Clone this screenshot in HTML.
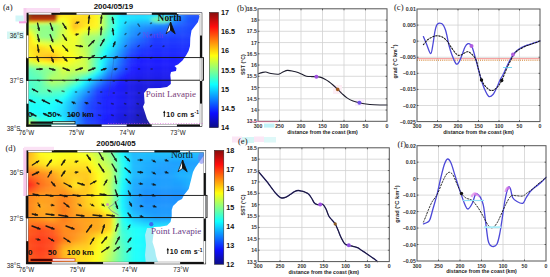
<!DOCTYPE html><html><head><meta charset="utf-8"><style>html,body{margin:0;padding:0;background:#fff;width:550px;height:277px;overflow:hidden}svg{display:block}</style></head><body><svg width="550" height="277" viewBox="0 0 550 277"><defs><linearGradient id="jetg" x1="0" y1="0" x2="0" y2="1"><stop offset="0.0000" stop-color="#860d0d"/><stop offset="0.0156" stop-color="#950d0d"/><stop offset="0.0312" stop-color="#a40d0d"/><stop offset="0.0469" stop-color="#b30d0d"/><stop offset="0.0625" stop-color="#c20d0d"/><stop offset="0.0781" stop-color="#d20d0d"/><stop offset="0.0938" stop-color="#e10d0d"/><stop offset="0.1094" stop-color="#f00d0d"/><stop offset="0.1250" stop-color="#ff0d0d"/><stop offset="0.1406" stop-color="#ff1c0d"/><stop offset="0.1562" stop-color="#ff2b0d"/><stop offset="0.1719" stop-color="#ff3a0d"/><stop offset="0.1875" stop-color="#ff490d"/><stop offset="0.2031" stop-color="#ff580d"/><stop offset="0.2188" stop-color="#ff680d"/><stop offset="0.2344" stop-color="#ff770d"/><stop offset="0.2500" stop-color="#ff860d"/><stop offset="0.2656" stop-color="#ff950d"/><stop offset="0.2812" stop-color="#ffa40d"/><stop offset="0.2969" stop-color="#ffb30d"/><stop offset="0.3125" stop-color="#ffc20d"/><stop offset="0.3281" stop-color="#ffd20d"/><stop offset="0.3438" stop-color="#ffe10d"/><stop offset="0.3594" stop-color="#fff00d"/><stop offset="0.3750" stop-color="#ffff0d"/><stop offset="0.3906" stop-color="#f0ff1c"/><stop offset="0.4062" stop-color="#e1ff2b"/><stop offset="0.4219" stop-color="#d2ff3a"/><stop offset="0.4375" stop-color="#c2ff49"/><stop offset="0.4531" stop-color="#b3ff58"/><stop offset="0.4688" stop-color="#a4ff68"/><stop offset="0.4844" stop-color="#95ff77"/><stop offset="0.5000" stop-color="#86ff86"/><stop offset="0.5156" stop-color="#77ff95"/><stop offset="0.5312" stop-color="#68ffa4"/><stop offset="0.5469" stop-color="#58ffb3"/><stop offset="0.5625" stop-color="#49ffc2"/><stop offset="0.5781" stop-color="#3affd2"/><stop offset="0.5938" stop-color="#2bffe1"/><stop offset="0.6094" stop-color="#1cfff0"/><stop offset="0.6250" stop-color="#0dffff"/><stop offset="0.6406" stop-color="#0df0ff"/><stop offset="0.6562" stop-color="#0de1ff"/><stop offset="0.6719" stop-color="#0dd2ff"/><stop offset="0.6875" stop-color="#0dc2ff"/><stop offset="0.7031" stop-color="#0db3ff"/><stop offset="0.7188" stop-color="#0da4ff"/><stop offset="0.7344" stop-color="#0d95ff"/><stop offset="0.7500" stop-color="#0d86ff"/><stop offset="0.7656" stop-color="#0d77ff"/><stop offset="0.7812" stop-color="#0d68ff"/><stop offset="0.7969" stop-color="#0d58ff"/><stop offset="0.8125" stop-color="#0d49ff"/><stop offset="0.8281" stop-color="#0d3aff"/><stop offset="0.8438" stop-color="#0d2bff"/><stop offset="0.8594" stop-color="#0d1cff"/><stop offset="0.8750" stop-color="#0d0dff"/><stop offset="0.8906" stop-color="#0d0df0"/><stop offset="0.9062" stop-color="#0d0de1"/><stop offset="0.9219" stop-color="#0d0dd2"/><stop offset="0.9375" stop-color="#0d0dc2"/><stop offset="0.9531" stop-color="#0d0db3"/><stop offset="0.9688" stop-color="#0d0da4"/><stop offset="0.9844" stop-color="#0d0d95"/><stop offset="1.0000" stop-color="#0d0d86"/></linearGradient><filter id="bl" x="-5%" y="-5%" width="110%" height="110%"><feGaussianBlur stdDeviation="1.6"/></filter><clipPath id="clipA"><rect x="26.5" y="12.8" width="175.5" height="113.7"/></clipPath><clipPath id="clipD"><rect x="26.2" y="150.3" width="179.6" height="113.7"/></clipPath></defs><g clip-path="url(#clipA)"><g filter="url(#bl)"><rect x="23.50" y="9.80" width="4.18" height="4.03" fill="#ff7d1a"/><rect x="27.28" y="9.80" width="4.18" height="4.03" fill="#ff7d1a"/><rect x="31.06" y="9.80" width="4.18" height="4.03" fill="#ff7d1a"/><rect x="34.84" y="9.80" width="4.18" height="4.03" fill="#ff7d1a"/><rect x="38.62" y="9.80" width="4.18" height="4.03" fill="#ff7d1a"/><rect x="42.41" y="9.80" width="4.18" height="4.03" fill="#ff871a"/><rect x="46.19" y="9.80" width="4.18" height="4.03" fill="#ff911a"/><rect x="49.97" y="9.80" width="4.18" height="4.03" fill="#ff9c1a"/><rect x="53.75" y="9.80" width="4.18" height="4.03" fill="#ffb51a"/><rect x="57.53" y="9.80" width="4.18" height="4.03" fill="#ffcf1a"/><rect x="61.31" y="9.80" width="4.18" height="4.03" fill="#ffe81a"/><rect x="65.09" y="9.80" width="4.18" height="4.03" fill="#ffe81a"/><rect x="68.88" y="9.80" width="4.18" height="4.03" fill="#ffe81a"/><rect x="72.66" y="9.80" width="4.18" height="4.03" fill="#ffe81a"/><rect x="76.44" y="9.80" width="4.18" height="4.03" fill="#ffe31a"/><rect x="80.22" y="9.80" width="4.18" height="4.03" fill="#ffde1a"/><rect x="84.00" y="9.80" width="4.18" height="4.03" fill="#ffd91a"/><rect x="87.78" y="9.80" width="4.18" height="4.03" fill="#ffe31a"/><rect x="91.56" y="9.80" width="4.18" height="4.03" fill="#ffed1a"/><rect x="95.34" y="9.80" width="4.18" height="4.03" fill="#fff71a"/><rect x="99.12" y="9.80" width="4.18" height="4.03" fill="#d4ff45"/><rect x="102.91" y="9.80" width="4.18" height="4.03" fill="#a1ff78"/><rect x="106.69" y="9.80" width="4.18" height="4.03" fill="#6effab"/><rect x="110.47" y="9.80" width="4.18" height="4.03" fill="#4fffc9"/><rect x="114.25" y="9.80" width="4.18" height="4.03" fill="#30ffe8"/><rect x="118.03" y="9.80" width="4.18" height="4.03" fill="#1af7ff"/><rect x="121.81" y="9.80" width="4.18" height="4.03" fill="#1af7ff"/><rect x="125.59" y="9.80" width="4.18" height="4.03" fill="#1af7ff"/><rect x="129.38" y="9.80" width="4.18" height="4.03" fill="#1af7ff"/><rect x="133.16" y="9.80" width="4.18" height="4.03" fill="#1af7ff"/><rect x="136.94" y="9.80" width="4.18" height="4.03" fill="#1af7ff"/><rect x="140.72" y="9.80" width="4.18" height="4.03" fill="#1af7ff"/><rect x="144.50" y="9.80" width="4.18" height="4.03" fill="#1afcff"/><rect x="148.28" y="9.80" width="4.18" height="4.03" fill="#1cfffc"/><rect x="152.06" y="9.80" width="4.18" height="4.03" fill="#21fff7"/><rect x="155.84" y="9.80" width="4.18" height="4.03" fill="#1cfffc"/><rect x="159.62" y="9.80" width="4.18" height="4.03" fill="#1afcff"/><rect x="163.41" y="9.80" width="4.18" height="4.03" fill="#1af7ff"/><rect x="167.19" y="9.80" width="4.18" height="4.03" fill="#1adeff"/><rect x="170.97" y="9.80" width="4.18" height="4.03" fill="#1ac4ff"/><rect x="174.75" y="9.80" width="4.18" height="4.03" fill="#1aabff"/><rect x="178.53" y="9.80" width="4.18" height="4.03" fill="#1a91ff"/><rect x="182.31" y="9.80" width="4.18" height="4.03" fill="#1a78ff"/><rect x="186.09" y="9.80" width="4.18" height="4.03" fill="#1a5eff"/><rect x="189.88" y="9.80" width="4.18" height="4.03" fill="#1a59ff"/><rect x="193.66" y="9.80" width="4.18" height="4.03" fill="#1a54ff"/><rect x="197.44" y="9.80" width="4.18" height="4.03" fill="#1a4fff"/><rect x="201.22" y="9.80" width="4.18" height="4.03" fill="#1a4fff"/><rect x="23.50" y="13.43" width="4.18" height="4.03" fill="#ff7d1a"/><rect x="27.28" y="13.43" width="4.18" height="4.03" fill="#ff7d1a"/><rect x="31.06" y="13.43" width="4.18" height="4.03" fill="#ff7d1a"/><rect x="34.84" y="13.43" width="4.18" height="4.03" fill="#ff7d1a"/><rect x="38.62" y="13.43" width="4.18" height="4.03" fill="#ff7d1a"/><rect x="42.41" y="13.43" width="4.18" height="4.03" fill="#ff871a"/><rect x="46.19" y="13.43" width="4.18" height="4.03" fill="#ff911a"/><rect x="49.97" y="13.43" width="4.18" height="4.03" fill="#ff9c1a"/><rect x="53.75" y="13.43" width="4.18" height="4.03" fill="#ffb51a"/><rect x="57.53" y="13.43" width="4.18" height="4.03" fill="#ffcf1a"/><rect x="61.31" y="13.43" width="4.18" height="4.03" fill="#ffe81a"/><rect x="65.09" y="13.43" width="4.18" height="4.03" fill="#ffe81a"/><rect x="68.88" y="13.43" width="4.18" height="4.03" fill="#ffe81a"/><rect x="72.66" y="13.43" width="4.18" height="4.03" fill="#ffe81a"/><rect x="76.44" y="13.43" width="4.18" height="4.03" fill="#ffe31a"/><rect x="80.22" y="13.43" width="4.18" height="4.03" fill="#ffde1a"/><rect x="84.00" y="13.43" width="4.18" height="4.03" fill="#ffd91a"/><rect x="87.78" y="13.43" width="4.18" height="4.03" fill="#ffe31a"/><rect x="91.56" y="13.43" width="4.18" height="4.03" fill="#ffed1a"/><rect x="95.34" y="13.43" width="4.18" height="4.03" fill="#fff71a"/><rect x="99.12" y="13.43" width="4.18" height="4.03" fill="#d4ff45"/><rect x="102.91" y="13.43" width="4.18" height="4.03" fill="#a1ff78"/><rect x="106.69" y="13.43" width="4.18" height="4.03" fill="#6effab"/><rect x="110.47" y="13.43" width="4.18" height="4.03" fill="#4fffc9"/><rect x="114.25" y="13.43" width="4.18" height="4.03" fill="#30ffe8"/><rect x="118.03" y="13.43" width="4.18" height="4.03" fill="#1af7ff"/><rect x="121.81" y="13.43" width="4.18" height="4.03" fill="#1af7ff"/><rect x="125.59" y="13.43" width="4.18" height="4.03" fill="#1af7ff"/><rect x="129.38" y="13.43" width="4.18" height="4.03" fill="#1af7ff"/><rect x="133.16" y="13.43" width="4.18" height="4.03" fill="#1af7ff"/><rect x="136.94" y="13.43" width="4.18" height="4.03" fill="#1af7ff"/><rect x="140.72" y="13.43" width="4.18" height="4.03" fill="#1af7ff"/><rect x="144.50" y="13.43" width="4.18" height="4.03" fill="#1afcff"/><rect x="148.28" y="13.43" width="4.18" height="4.03" fill="#1cfffc"/><rect x="152.06" y="13.43" width="4.18" height="4.03" fill="#21fff7"/><rect x="155.84" y="13.43" width="4.18" height="4.03" fill="#1cfffc"/><rect x="159.62" y="13.43" width="4.18" height="4.03" fill="#1afcff"/><rect x="163.41" y="13.43" width="4.18" height="4.03" fill="#1af7ff"/><rect x="167.19" y="13.43" width="4.18" height="4.03" fill="#1adeff"/><rect x="170.97" y="13.43" width="4.18" height="4.03" fill="#1ac4ff"/><rect x="174.75" y="13.43" width="4.18" height="4.03" fill="#1aabff"/><rect x="178.53" y="13.43" width="4.18" height="4.03" fill="#1a91ff"/><rect x="182.31" y="13.43" width="4.18" height="4.03" fill="#1a78ff"/><rect x="186.09" y="13.43" width="4.18" height="4.03" fill="#1a5eff"/><rect x="189.88" y="13.43" width="4.18" height="4.03" fill="#1a59ff"/><rect x="193.66" y="13.43" width="4.18" height="4.03" fill="#1a54ff"/><rect x="197.44" y="13.43" width="4.18" height="4.03" fill="#1a4fff"/><rect x="201.22" y="13.43" width="4.18" height="4.03" fill="#1a4fff"/><rect x="23.50" y="17.05" width="4.18" height="4.03" fill="#ffc21a"/><rect x="27.28" y="17.05" width="4.18" height="4.03" fill="#ffc21a"/><rect x="31.06" y="17.05" width="4.18" height="4.03" fill="#ffc61a"/><rect x="34.84" y="17.05" width="4.18" height="4.03" fill="#ffc91a"/><rect x="38.62" y="17.05" width="4.18" height="4.03" fill="#ffcd1a"/><rect x="42.41" y="17.05" width="4.18" height="4.03" fill="#ffd41a"/><rect x="46.19" y="17.05" width="4.18" height="4.03" fill="#ffdb1a"/><rect x="49.97" y="17.05" width="4.18" height="4.03" fill="#ffe31a"/><rect x="53.75" y="17.05" width="4.18" height="4.03" fill="#ffee1a"/><rect x="57.53" y="17.05" width="4.18" height="4.03" fill="#fff91a"/><rect x="61.31" y="17.05" width="4.18" height="4.03" fill="#faff1e"/><rect x="65.09" y="17.05" width="4.18" height="4.03" fill="#fff51a"/><rect x="68.88" y="17.05" width="4.18" height="4.03" fill="#ffe71a"/><rect x="72.66" y="17.05" width="4.18" height="4.03" fill="#ffd91a"/><rect x="76.44" y="17.05" width="4.18" height="4.03" fill="#ffda1a"/><rect x="80.22" y="17.05" width="4.18" height="4.03" fill="#ffdc1a"/><rect x="84.00" y="17.05" width="4.18" height="4.03" fill="#ffde1a"/><rect x="87.78" y="17.05" width="4.18" height="4.03" fill="#ffe61a"/><rect x="91.56" y="17.05" width="4.18" height="4.03" fill="#ffef1a"/><rect x="95.34" y="17.05" width="4.18" height="4.03" fill="#fff71a"/><rect x="99.12" y="17.05" width="4.18" height="4.03" fill="#d4ff45"/><rect x="102.91" y="17.05" width="4.18" height="4.03" fill="#a1ff78"/><rect x="106.69" y="17.05" width="4.18" height="4.03" fill="#6effab"/><rect x="110.47" y="17.05" width="4.18" height="4.03" fill="#4dffcb"/><rect x="114.25" y="17.05" width="4.18" height="4.03" fill="#2dffeb"/><rect x="118.03" y="17.05" width="4.18" height="4.03" fill="#1af2ff"/><rect x="121.81" y="17.05" width="4.18" height="4.03" fill="#1aebff"/><rect x="125.59" y="17.05" width="4.18" height="4.03" fill="#1ae5ff"/><rect x="129.38" y="17.05" width="4.18" height="4.03" fill="#1adeff"/><rect x="133.16" y="17.05" width="4.18" height="4.03" fill="#1adcff"/><rect x="136.94" y="17.05" width="4.18" height="4.03" fill="#1adaff"/><rect x="140.72" y="17.05" width="4.18" height="4.03" fill="#1ad9ff"/><rect x="144.50" y="17.05" width="4.18" height="4.03" fill="#1adaff"/><rect x="148.28" y="17.05" width="4.18" height="4.03" fill="#1adcff"/><rect x="152.06" y="17.05" width="4.18" height="4.03" fill="#1adeff"/><rect x="155.84" y="17.05" width="4.18" height="4.03" fill="#1ad9ff"/><rect x="159.62" y="17.05" width="4.18" height="4.03" fill="#1ad4ff"/><rect x="163.41" y="17.05" width="4.18" height="4.03" fill="#1acfff"/><rect x="167.19" y="17.05" width="4.18" height="4.03" fill="#1abaff"/><rect x="170.97" y="17.05" width="4.18" height="4.03" fill="#1aa6ff"/><rect x="174.75" y="17.05" width="4.18" height="4.03" fill="#1a91ff"/><rect x="178.53" y="17.05" width="4.18" height="4.03" fill="#1a7fff"/><rect x="182.31" y="17.05" width="4.18" height="4.03" fill="#1a6cff"/><rect x="186.09" y="17.05" width="4.18" height="4.03" fill="#1a59ff"/><rect x="189.88" y="17.05" width="4.18" height="4.03" fill="#1a54ff"/><rect x="193.66" y="17.05" width="4.18" height="4.03" fill="#1a4fff"/><rect x="197.44" y="17.05" width="4.18" height="4.03" fill="#1a4aff"/><rect x="201.22" y="17.05" width="4.18" height="4.03" fill="#1a4aff"/><rect x="23.50" y="20.68" width="4.18" height="4.03" fill="#f6ff22"/><rect x="27.28" y="20.68" width="4.18" height="4.03" fill="#f6ff22"/><rect x="31.06" y="20.68" width="4.18" height="4.03" fill="#f0ff29"/><rect x="34.84" y="20.68" width="4.18" height="4.03" fill="#e9ff30"/><rect x="38.62" y="20.68" width="4.18" height="4.03" fill="#e2ff37"/><rect x="42.41" y="20.68" width="4.18" height="4.03" fill="#ddff3b"/><rect x="46.19" y="20.68" width="4.18" height="4.03" fill="#d8ff40"/><rect x="49.97" y="20.68" width="4.18" height="4.03" fill="#d4ff45"/><rect x="53.75" y="20.68" width="4.18" height="4.03" fill="#d7ff41"/><rect x="57.53" y="20.68" width="4.18" height="4.03" fill="#dbff3d"/><rect x="61.31" y="20.68" width="4.18" height="4.03" fill="#dfff3a"/><rect x="65.09" y="20.68" width="4.18" height="4.03" fill="#fbff1d"/><rect x="68.88" y="20.68" width="4.18" height="4.03" fill="#ffe61a"/><rect x="72.66" y="20.68" width="4.18" height="4.03" fill="#ffc91a"/><rect x="76.44" y="20.68" width="4.18" height="4.03" fill="#ffd21a"/><rect x="80.22" y="20.68" width="4.18" height="4.03" fill="#ffda1a"/><rect x="84.00" y="20.68" width="4.18" height="4.03" fill="#ffe31a"/><rect x="87.78" y="20.68" width="4.18" height="4.03" fill="#ffea1a"/><rect x="91.56" y="20.68" width="4.18" height="4.03" fill="#fff11a"/><rect x="95.34" y="20.68" width="4.18" height="4.03" fill="#fff71a"/><rect x="99.12" y="20.68" width="4.18" height="4.03" fill="#d4ff45"/><rect x="102.91" y="20.68" width="4.18" height="4.03" fill="#a1ff78"/><rect x="106.69" y="20.68" width="4.18" height="4.03" fill="#6effab"/><rect x="110.47" y="20.68" width="4.18" height="4.03" fill="#4cffcd"/><rect x="114.25" y="20.68" width="4.18" height="4.03" fill="#2affef"/><rect x="118.03" y="20.68" width="4.18" height="4.03" fill="#1aedff"/><rect x="121.81" y="20.68" width="4.18" height="4.03" fill="#1ae0ff"/><rect x="125.59" y="20.68" width="4.18" height="4.03" fill="#1ad2ff"/><rect x="129.38" y="20.68" width="4.18" height="4.03" fill="#1ac4ff"/><rect x="133.16" y="20.68" width="4.18" height="4.03" fill="#1ac1ff"/><rect x="136.94" y="20.68" width="4.18" height="4.03" fill="#1abeff"/><rect x="140.72" y="20.68" width="4.18" height="4.03" fill="#1abaff"/><rect x="144.50" y="20.68" width="4.18" height="4.03" fill="#1ab8ff"/><rect x="148.28" y="20.68" width="4.18" height="4.03" fill="#1ab7ff"/><rect x="152.06" y="20.68" width="4.18" height="4.03" fill="#1ab5ff"/><rect x="155.84" y="20.68" width="4.18" height="4.03" fill="#1ab0ff"/><rect x="159.62" y="20.68" width="4.18" height="4.03" fill="#1aabff"/><rect x="163.41" y="20.68" width="4.18" height="4.03" fill="#1aa6ff"/><rect x="167.19" y="20.68" width="4.18" height="4.03" fill="#1a96ff"/><rect x="170.97" y="20.68" width="4.18" height="4.03" fill="#1a87ff"/><rect x="174.75" y="20.68" width="4.18" height="4.03" fill="#1a78ff"/><rect x="178.53" y="20.68" width="4.18" height="4.03" fill="#1a6cff"/><rect x="182.31" y="20.68" width="4.18" height="4.03" fill="#1a60ff"/><rect x="186.09" y="20.68" width="4.18" height="4.03" fill="#1a54ff"/><rect x="189.88" y="20.68" width="4.18" height="4.03" fill="#1a4fff"/><rect x="193.66" y="20.68" width="4.18" height="4.03" fill="#1a4aff"/><rect x="197.44" y="20.68" width="4.18" height="4.03" fill="#1a45ff"/><rect x="201.22" y="20.68" width="4.18" height="4.03" fill="#1a45ff"/><rect x="23.50" y="24.31" width="4.18" height="4.03" fill="#b1ff68"/><rect x="27.28" y="24.31" width="4.18" height="4.03" fill="#b1ff68"/><rect x="31.06" y="24.31" width="4.18" height="4.03" fill="#a7ff72"/><rect x="34.84" y="24.31" width="4.18" height="4.03" fill="#9dff7c"/><rect x="38.62" y="24.31" width="4.18" height="4.03" fill="#92ff86"/><rect x="42.41" y="24.31" width="4.18" height="4.03" fill="#90ff88"/><rect x="46.19" y="24.31" width="4.18" height="4.03" fill="#8eff8a"/><rect x="49.97" y="24.31" width="4.18" height="4.03" fill="#8cff8c"/><rect x="53.75" y="24.31" width="4.18" height="4.03" fill="#9fff7a"/><rect x="57.53" y="24.31" width="4.18" height="4.03" fill="#b1ff68"/><rect x="61.31" y="24.31" width="4.18" height="4.03" fill="#c3ff55"/><rect x="65.09" y="24.31" width="4.18" height="4.03" fill="#eeff2a"/><rect x="68.88" y="24.31" width="4.18" height="4.03" fill="#ffe51a"/><rect x="72.66" y="24.31" width="4.18" height="4.03" fill="#ffba1a"/><rect x="76.44" y="24.31" width="4.18" height="4.03" fill="#ffc91a"/><rect x="80.22" y="24.31" width="4.18" height="4.03" fill="#ffd91a"/><rect x="84.00" y="24.31" width="4.18" height="4.03" fill="#ffe81a"/><rect x="87.78" y="24.31" width="4.18" height="4.03" fill="#ffed1a"/><rect x="91.56" y="24.31" width="4.18" height="4.03" fill="#fff21a"/><rect x="95.34" y="24.31" width="4.18" height="4.03" fill="#fff71a"/><rect x="99.12" y="24.31" width="4.18" height="4.03" fill="#d4ff45"/><rect x="102.91" y="24.31" width="4.18" height="4.03" fill="#a1ff78"/><rect x="106.69" y="24.31" width="4.18" height="4.03" fill="#6effab"/><rect x="110.47" y="24.31" width="4.18" height="4.03" fill="#4affcf"/><rect x="114.25" y="24.31" width="4.18" height="4.03" fill="#26fff2"/><rect x="118.03" y="24.31" width="4.18" height="4.03" fill="#1ae8ff"/><rect x="121.81" y="24.31" width="4.18" height="4.03" fill="#1ad4ff"/><rect x="125.59" y="24.31" width="4.18" height="4.03" fill="#1abfff"/><rect x="129.38" y="24.31" width="4.18" height="4.03" fill="#1aabff"/><rect x="133.16" y="24.31" width="4.18" height="4.03" fill="#1aa6ff"/><rect x="136.94" y="24.31" width="4.18" height="4.03" fill="#1aa1ff"/><rect x="140.72" y="24.31" width="4.18" height="4.03" fill="#1a9cff"/><rect x="144.50" y="24.31" width="4.18" height="4.03" fill="#1a96ff"/><rect x="148.28" y="24.31" width="4.18" height="4.03" fill="#1a91ff"/><rect x="152.06" y="24.31" width="4.18" height="4.03" fill="#1a8cff"/><rect x="155.84" y="24.31" width="4.18" height="4.03" fill="#1a87ff"/><rect x="159.62" y="24.31" width="4.18" height="4.03" fill="#1a82ff"/><rect x="163.41" y="24.31" width="4.18" height="4.03" fill="#1a7dff"/><rect x="167.19" y="24.31" width="4.18" height="4.03" fill="#1a73ff"/><rect x="170.97" y="24.31" width="4.18" height="4.03" fill="#1a69ff"/><rect x="174.75" y="24.31" width="4.18" height="4.03" fill="#1a5eff"/><rect x="178.53" y="24.31" width="4.18" height="4.03" fill="#1a59ff"/><rect x="182.31" y="24.31" width="4.18" height="4.03" fill="#1a54ff"/><rect x="186.09" y="24.31" width="4.18" height="4.03" fill="#1a4fff"/><rect x="189.88" y="24.31" width="4.18" height="4.03" fill="#1a4aff"/><rect x="193.66" y="24.31" width="4.18" height="4.03" fill="#1a45ff"/><rect x="197.44" y="24.31" width="4.18" height="4.03" fill="#1a40ff"/><rect x="201.22" y="24.31" width="4.18" height="4.03" fill="#1a40ff"/><rect x="23.50" y="27.94" width="4.18" height="4.03" fill="#d8ff41"/><rect x="27.28" y="27.94" width="4.18" height="4.03" fill="#d8ff41"/><rect x="31.06" y="27.94" width="4.18" height="4.03" fill="#c1ff58"/><rect x="34.84" y="27.94" width="4.18" height="4.03" fill="#a9ff6f"/><rect x="38.62" y="27.94" width="4.18" height="4.03" fill="#92ff86"/><rect x="42.41" y="27.94" width="4.18" height="4.03" fill="#90ff88"/><rect x="46.19" y="27.94" width="4.18" height="4.03" fill="#8eff8a"/><rect x="49.97" y="27.94" width="4.18" height="4.03" fill="#8cff8c"/><rect x="53.75" y="27.94" width="4.18" height="4.03" fill="#a1ff78"/><rect x="57.53" y="27.94" width="4.18" height="4.03" fill="#b6ff63"/><rect x="61.31" y="27.94" width="4.18" height="4.03" fill="#caff4e"/><rect x="65.09" y="27.94" width="4.18" height="4.03" fill="#eaff2e"/><rect x="68.88" y="27.94" width="4.18" height="4.03" fill="#fff41a"/><rect x="72.66" y="27.94" width="4.18" height="4.03" fill="#ffd41a"/><rect x="76.44" y="27.94" width="4.18" height="4.03" fill="#ffe61a"/><rect x="80.22" y="27.94" width="4.18" height="4.03" fill="#fff91a"/><rect x="84.00" y="27.94" width="4.18" height="4.03" fill="#f2ff26"/><rect x="87.78" y="27.94" width="4.18" height="4.03" fill="#edff2b"/><rect x="91.56" y="27.94" width="4.18" height="4.03" fill="#e8ff30"/><rect x="95.34" y="27.94" width="4.18" height="4.03" fill="#e3ff36"/><rect x="99.12" y="27.94" width="4.18" height="4.03" fill="#b7ff62"/><rect x="102.91" y="27.94" width="4.18" height="4.03" fill="#8bff8e"/><rect x="106.69" y="27.94" width="4.18" height="4.03" fill="#5effba"/><rect x="110.47" y="27.94" width="4.18" height="4.03" fill="#3cffdc"/><rect x="114.25" y="27.94" width="4.18" height="4.03" fill="#1afffe"/><rect x="118.03" y="27.94" width="4.18" height="4.03" fill="#1adeff"/><rect x="121.81" y="27.94" width="4.18" height="4.03" fill="#1ac9ff"/><rect x="125.59" y="27.94" width="4.18" height="4.03" fill="#1ab5ff"/><rect x="129.38" y="27.94" width="4.18" height="4.03" fill="#1aa1ff"/><rect x="133.16" y="27.94" width="4.18" height="4.03" fill="#1a9aff"/><rect x="136.94" y="27.94" width="4.18" height="4.03" fill="#1a93ff"/><rect x="140.72" y="27.94" width="4.18" height="4.03" fill="#1a8cff"/><rect x="144.50" y="27.94" width="4.18" height="4.03" fill="#1a84ff"/><rect x="148.28" y="27.94" width="4.18" height="4.03" fill="#1a7bff"/><rect x="152.06" y="27.94" width="4.18" height="4.03" fill="#1a73ff"/><rect x="155.84" y="27.94" width="4.18" height="4.03" fill="#1a6fff"/><rect x="159.62" y="27.94" width="4.18" height="4.03" fill="#1a6cff"/><rect x="163.41" y="27.94" width="4.18" height="4.03" fill="#1a69ff"/><rect x="167.19" y="27.94" width="4.18" height="4.03" fill="#1a62ff"/><rect x="170.97" y="27.94" width="4.18" height="4.03" fill="#1a5bff"/><rect x="174.75" y="27.94" width="4.18" height="4.03" fill="#1a54ff"/><rect x="178.53" y="27.94" width="4.18" height="4.03" fill="#1a51ff"/><rect x="182.31" y="27.94" width="4.18" height="4.03" fill="#1a4dff"/><rect x="186.09" y="27.94" width="4.18" height="4.03" fill="#1a4aff"/><rect x="189.88" y="27.94" width="4.18" height="4.03" fill="#1a47ff"/><rect x="193.66" y="27.94" width="4.18" height="4.03" fill="#1a43ff"/><rect x="197.44" y="27.94" width="4.18" height="4.03" fill="#1a40ff"/><rect x="201.22" y="27.94" width="4.18" height="4.03" fill="#1a40ff"/><rect x="23.50" y="31.56" width="4.18" height="4.03" fill="#feff1a"/><rect x="27.28" y="31.56" width="4.18" height="4.03" fill="#feff1a"/><rect x="31.06" y="31.56" width="4.18" height="4.03" fill="#daff3e"/><rect x="34.84" y="31.56" width="4.18" height="4.03" fill="#b6ff62"/><rect x="38.62" y="31.56" width="4.18" height="4.03" fill="#92ff86"/><rect x="42.41" y="31.56" width="4.18" height="4.03" fill="#90ff88"/><rect x="46.19" y="31.56" width="4.18" height="4.03" fill="#8eff8a"/><rect x="49.97" y="31.56" width="4.18" height="4.03" fill="#8cff8c"/><rect x="53.75" y="31.56" width="4.18" height="4.03" fill="#a3ff75"/><rect x="57.53" y="31.56" width="4.18" height="4.03" fill="#baff5e"/><rect x="61.31" y="31.56" width="4.18" height="4.03" fill="#d2ff47"/><rect x="65.09" y="31.56" width="4.18" height="4.03" fill="#e7ff32"/><rect x="68.88" y="31.56" width="4.18" height="4.03" fill="#fcff1d"/><rect x="72.66" y="31.56" width="4.18" height="4.03" fill="#ffed1a"/><rect x="76.44" y="31.56" width="4.18" height="4.03" fill="#fbff1e"/><rect x="80.22" y="31.56" width="4.18" height="4.03" fill="#e5ff34"/><rect x="84.00" y="31.56" width="4.18" height="4.03" fill="#cfff4a"/><rect x="87.78" y="31.56" width="4.18" height="4.03" fill="#c9ff4f"/><rect x="91.56" y="31.56" width="4.18" height="4.03" fill="#c4ff54"/><rect x="95.34" y="31.56" width="4.18" height="4.03" fill="#bfff59"/><rect x="99.12" y="31.56" width="4.18" height="4.03" fill="#9aff7f"/><rect x="102.91" y="31.56" width="4.18" height="4.03" fill="#74ffa4"/><rect x="106.69" y="31.56" width="4.18" height="4.03" fill="#4fffc9"/><rect x="110.47" y="31.56" width="4.18" height="4.03" fill="#2fffea"/><rect x="114.25" y="31.56" width="4.18" height="4.03" fill="#1af4ff"/><rect x="118.03" y="31.56" width="4.18" height="4.03" fill="#1ad4ff"/><rect x="121.81" y="31.56" width="4.18" height="4.03" fill="#1abfff"/><rect x="125.59" y="31.56" width="4.18" height="4.03" fill="#1aabff"/><rect x="129.38" y="31.56" width="4.18" height="4.03" fill="#1a96ff"/><rect x="133.16" y="31.56" width="4.18" height="4.03" fill="#1a8eff"/><rect x="136.94" y="31.56" width="4.18" height="4.03" fill="#1a85ff"/><rect x="140.72" y="31.56" width="4.18" height="4.03" fill="#1a7dff"/><rect x="144.50" y="31.56" width="4.18" height="4.03" fill="#1a71ff"/><rect x="148.28" y="31.56" width="4.18" height="4.03" fill="#1a65ff"/><rect x="152.06" y="31.56" width="4.18" height="4.03" fill="#1a59ff"/><rect x="155.84" y="31.56" width="4.18" height="4.03" fill="#1a58ff"/><rect x="159.62" y="31.56" width="4.18" height="4.03" fill="#1a56ff"/><rect x="163.41" y="31.56" width="4.18" height="4.03" fill="#1a54ff"/><rect x="167.19" y="31.56" width="4.18" height="4.03" fill="#1a51ff"/><rect x="170.97" y="31.56" width="4.18" height="4.03" fill="#1a4dff"/><rect x="174.75" y="31.56" width="4.18" height="4.03" fill="#1a4aff"/><rect x="178.53" y="31.56" width="4.18" height="4.03" fill="#1a48ff"/><rect x="182.31" y="31.56" width="4.18" height="4.03" fill="#1a47ff"/><rect x="186.09" y="31.56" width="4.18" height="4.03" fill="#1a45ff"/><rect x="189.88" y="31.56" width="4.18" height="4.03" fill="#1a43ff"/><rect x="193.66" y="31.56" width="4.18" height="4.03" fill="#1a41ff"/><rect x="197.44" y="31.56" width="4.18" height="4.03" fill="#1a40ff"/><rect x="201.22" y="31.56" width="4.18" height="4.03" fill="#1a40ff"/><rect x="23.50" y="35.19" width="4.18" height="4.03" fill="#ffd91a"/><rect x="27.28" y="35.19" width="4.18" height="4.03" fill="#ffd91a"/><rect x="31.06" y="35.19" width="4.18" height="4.03" fill="#f4ff24"/><rect x="34.84" y="35.19" width="4.18" height="4.03" fill="#c3ff55"/><rect x="38.62" y="35.19" width="4.18" height="4.03" fill="#92ff86"/><rect x="42.41" y="35.19" width="4.18" height="4.03" fill="#90ff88"/><rect x="46.19" y="35.19" width="4.18" height="4.03" fill="#8eff8a"/><rect x="49.97" y="35.19" width="4.18" height="4.03" fill="#8cff8c"/><rect x="53.75" y="35.19" width="4.18" height="4.03" fill="#a6ff73"/><rect x="57.53" y="35.19" width="4.18" height="4.03" fill="#bfff59"/><rect x="61.31" y="35.19" width="4.18" height="4.03" fill="#d9ff40"/><rect x="65.09" y="35.19" width="4.18" height="4.03" fill="#e3ff36"/><rect x="68.88" y="35.19" width="4.18" height="4.03" fill="#edff2b"/><rect x="72.66" y="35.19" width="4.18" height="4.03" fill="#f7ff21"/><rect x="76.44" y="35.19" width="4.18" height="4.03" fill="#deff3b"/><rect x="80.22" y="35.19" width="4.18" height="4.03" fill="#c4ff54"/><rect x="84.00" y="35.19" width="4.18" height="4.03" fill="#abff6e"/><rect x="87.78" y="35.19" width="4.18" height="4.03" fill="#a6ff73"/><rect x="91.56" y="35.19" width="4.18" height="4.03" fill="#a1ff78"/><rect x="95.34" y="35.19" width="4.18" height="4.03" fill="#9cff7d"/><rect x="99.12" y="35.19" width="4.18" height="4.03" fill="#7dff9c"/><rect x="102.91" y="35.19" width="4.18" height="4.03" fill="#5effba"/><rect x="106.69" y="35.19" width="4.18" height="4.03" fill="#40ffd9"/><rect x="110.47" y="35.19" width="4.18" height="4.03" fill="#21fff7"/><rect x="114.25" y="35.19" width="4.18" height="4.03" fill="#1ae8ff"/><rect x="118.03" y="35.19" width="4.18" height="4.03" fill="#1ac9ff"/><rect x="121.81" y="35.19" width="4.18" height="4.03" fill="#1ab5ff"/><rect x="125.59" y="35.19" width="4.18" height="4.03" fill="#1aa1ff"/><rect x="129.38" y="35.19" width="4.18" height="4.03" fill="#1a8cff"/><rect x="133.16" y="35.19" width="4.18" height="4.03" fill="#1a82ff"/><rect x="136.94" y="35.19" width="4.18" height="4.03" fill="#1a78ff"/><rect x="140.72" y="35.19" width="4.18" height="4.03" fill="#1a6eff"/><rect x="144.50" y="35.19" width="4.18" height="4.03" fill="#1a5eff"/><rect x="148.28" y="35.19" width="4.18" height="4.03" fill="#1a4fff"/><rect x="152.06" y="35.19" width="4.18" height="4.03" fill="#1a40ff"/><rect x="155.84" y="35.19" width="4.18" height="4.03" fill="#1a40ff"/><rect x="159.62" y="35.19" width="4.18" height="4.03" fill="#1a40ff"/><rect x="163.41" y="35.19" width="4.18" height="4.03" fill="#1a40ff"/><rect x="167.19" y="35.19" width="4.18" height="4.03" fill="#1a40ff"/><rect x="170.97" y="35.19" width="4.18" height="4.03" fill="#1a40ff"/><rect x="174.75" y="35.19" width="4.18" height="4.03" fill="#1a40ff"/><rect x="178.53" y="35.19" width="4.18" height="4.03" fill="#1a40ff"/><rect x="182.31" y="35.19" width="4.18" height="4.03" fill="#1a40ff"/><rect x="186.09" y="35.19" width="4.18" height="4.03" fill="#1a40ff"/><rect x="189.88" y="35.19" width="4.18" height="4.03" fill="#1a40ff"/><rect x="193.66" y="35.19" width="4.18" height="4.03" fill="#1a40ff"/><rect x="197.44" y="35.19" width="4.18" height="4.03" fill="#1a40ff"/><rect x="201.22" y="35.19" width="4.18" height="4.03" fill="#1a40ff"/><rect x="23.50" y="38.82" width="4.18" height="4.03" fill="#ffde1a"/><rect x="27.28" y="38.82" width="4.18" height="4.03" fill="#ffde1a"/><rect x="31.06" y="38.82" width="4.18" height="4.03" fill="#fffd1a"/><rect x="34.84" y="38.82" width="4.18" height="4.03" fill="#e2ff36"/><rect x="38.62" y="38.82" width="4.18" height="4.03" fill="#c3ff55"/><rect x="42.41" y="38.82" width="4.18" height="4.03" fill="#bfff5a"/><rect x="46.19" y="38.82" width="4.18" height="4.03" fill="#baff5f"/><rect x="49.97" y="38.82" width="4.18" height="4.03" fill="#b5ff63"/><rect x="53.75" y="38.82" width="4.18" height="4.03" fill="#c4ff54"/><rect x="57.53" y="38.82" width="4.18" height="4.03" fill="#d4ff45"/><rect x="61.31" y="38.82" width="4.18" height="4.03" fill="#e3ff36"/><rect x="65.09" y="38.82" width="4.18" height="4.03" fill="#e8ff30"/><rect x="68.88" y="38.82" width="4.18" height="4.03" fill="#edff2b"/><rect x="72.66" y="38.82" width="4.18" height="4.03" fill="#f2ff26"/><rect x="76.44" y="38.82" width="4.18" height="4.03" fill="#dcff3c"/><rect x="80.22" y="38.82" width="4.18" height="4.03" fill="#c6ff52"/><rect x="84.00" y="38.82" width="4.18" height="4.03" fill="#b0ff69"/><rect x="87.78" y="38.82" width="4.18" height="4.03" fill="#a4ff74"/><rect x="91.56" y="38.82" width="4.18" height="4.03" fill="#98ff80"/><rect x="95.34" y="38.82" width="4.18" height="4.03" fill="#8cff8c"/><rect x="99.12" y="38.82" width="4.18" height="4.03" fill="#6effab"/><rect x="102.91" y="38.82" width="4.18" height="4.03" fill="#4fffc9"/><rect x="106.69" y="38.82" width="4.18" height="4.03" fill="#30ffe8"/><rect x="110.47" y="38.82" width="4.18" height="4.03" fill="#1af9ff"/><rect x="114.25" y="38.82" width="4.18" height="4.03" fill="#1adcff"/><rect x="118.03" y="38.82" width="4.18" height="4.03" fill="#1abfff"/><rect x="121.81" y="38.82" width="4.18" height="4.03" fill="#1aa9ff"/><rect x="125.59" y="38.82" width="4.18" height="4.03" fill="#1a93ff"/><rect x="129.38" y="38.82" width="4.18" height="4.03" fill="#1a7dff"/><rect x="133.16" y="38.82" width="4.18" height="4.03" fill="#1a73ff"/><rect x="136.94" y="38.82" width="4.18" height="4.03" fill="#1a69ff"/><rect x="140.72" y="38.82" width="4.18" height="4.03" fill="#1a5eff"/><rect x="144.50" y="38.82" width="4.18" height="4.03" fill="#1a52ff"/><rect x="148.28" y="38.82" width="4.18" height="4.03" fill="#1a47ff"/><rect x="152.06" y="38.82" width="4.18" height="4.03" fill="#1a3bff"/><rect x="155.84" y="38.82" width="4.18" height="4.03" fill="#1a3bff"/><rect x="159.62" y="38.82" width="4.18" height="4.03" fill="#1a3bff"/><rect x="163.41" y="38.82" width="4.18" height="4.03" fill="#1a3bff"/><rect x="167.19" y="38.82" width="4.18" height="4.03" fill="#1a3bff"/><rect x="170.97" y="38.82" width="4.18" height="4.03" fill="#1a3bff"/><rect x="174.75" y="38.82" width="4.18" height="4.03" fill="#1a3bff"/><rect x="178.53" y="38.82" width="4.18" height="4.03" fill="#1a3bff"/><rect x="182.31" y="38.82" width="4.18" height="4.03" fill="#1a3bff"/><rect x="186.09" y="38.82" width="4.18" height="4.03" fill="#1a3bff"/><rect x="189.88" y="38.82" width="4.18" height="4.03" fill="#1a3bff"/><rect x="193.66" y="38.82" width="4.18" height="4.03" fill="#1a3bff"/><rect x="197.44" y="38.82" width="4.18" height="4.03" fill="#1a3bff"/><rect x="201.22" y="38.82" width="4.18" height="4.03" fill="#1a3bff"/><rect x="23.50" y="42.45" width="4.18" height="4.03" fill="#ffe31a"/><rect x="27.28" y="42.45" width="4.18" height="4.03" fill="#ffe31a"/><rect x="31.06" y="42.45" width="4.18" height="4.03" fill="#fff01a"/><rect x="34.84" y="42.45" width="4.18" height="4.03" fill="#fffd1a"/><rect x="38.62" y="42.45" width="4.18" height="4.03" fill="#f4ff24"/><rect x="42.41" y="42.45" width="4.18" height="4.03" fill="#edff2c"/><rect x="46.19" y="42.45" width="4.18" height="4.03" fill="#e5ff33"/><rect x="49.97" y="42.45" width="4.18" height="4.03" fill="#deff3b"/><rect x="53.75" y="42.45" width="4.18" height="4.03" fill="#e3ff36"/><rect x="57.53" y="42.45" width="4.18" height="4.03" fill="#e8ff30"/><rect x="61.31" y="42.45" width="4.18" height="4.03" fill="#edff2b"/><rect x="65.09" y="42.45" width="4.18" height="4.03" fill="#edff2b"/><rect x="68.88" y="42.45" width="4.18" height="4.03" fill="#edff2b"/><rect x="72.66" y="42.45" width="4.18" height="4.03" fill="#edff2b"/><rect x="76.44" y="42.45" width="4.18" height="4.03" fill="#daff3e"/><rect x="80.22" y="42.45" width="4.18" height="4.03" fill="#c8ff51"/><rect x="84.00" y="42.45" width="4.18" height="4.03" fill="#b5ff63"/><rect x="87.78" y="42.45" width="4.18" height="4.03" fill="#a2ff76"/><rect x="91.56" y="42.45" width="4.18" height="4.03" fill="#90ff89"/><rect x="95.34" y="42.45" width="4.18" height="4.03" fill="#7dff9c"/><rect x="99.12" y="42.45" width="4.18" height="4.03" fill="#5effba"/><rect x="102.91" y="42.45" width="4.18" height="4.03" fill="#40ffd9"/><rect x="106.69" y="42.45" width="4.18" height="4.03" fill="#21fff7"/><rect x="110.47" y="42.45" width="4.18" height="4.03" fill="#1aebff"/><rect x="114.25" y="42.45" width="4.18" height="4.03" fill="#1ad0ff"/><rect x="118.03" y="42.45" width="4.18" height="4.03" fill="#1ab5ff"/><rect x="121.81" y="42.45" width="4.18" height="4.03" fill="#1a9dff"/><rect x="125.59" y="42.45" width="4.18" height="4.03" fill="#1a85ff"/><rect x="129.38" y="42.45" width="4.18" height="4.03" fill="#1a6eff"/><rect x="133.16" y="42.45" width="4.18" height="4.03" fill="#1a63ff"/><rect x="136.94" y="42.45" width="4.18" height="4.03" fill="#1a59ff"/><rect x="140.72" y="42.45" width="4.18" height="4.03" fill="#1a4fff"/><rect x="144.50" y="42.45" width="4.18" height="4.03" fill="#1a47ff"/><rect x="148.28" y="42.45" width="4.18" height="4.03" fill="#1a3eff"/><rect x="152.06" y="42.45" width="4.18" height="4.03" fill="#1a36ff"/><rect x="155.84" y="42.45" width="4.18" height="4.03" fill="#1a36ff"/><rect x="159.62" y="42.45" width="4.18" height="4.03" fill="#1a36ff"/><rect x="163.41" y="42.45" width="4.18" height="4.03" fill="#1a36ff"/><rect x="167.19" y="42.45" width="4.18" height="4.03" fill="#1a36ff"/><rect x="170.97" y="42.45" width="4.18" height="4.03" fill="#1a36ff"/><rect x="174.75" y="42.45" width="4.18" height="4.03" fill="#1a36ff"/><rect x="178.53" y="42.45" width="4.18" height="4.03" fill="#1a36ff"/><rect x="182.31" y="42.45" width="4.18" height="4.03" fill="#1a36ff"/><rect x="186.09" y="42.45" width="4.18" height="4.03" fill="#1a36ff"/><rect x="189.88" y="42.45" width="4.18" height="4.03" fill="#1a36ff"/><rect x="193.66" y="42.45" width="4.18" height="4.03" fill="#1a36ff"/><rect x="197.44" y="42.45" width="4.18" height="4.03" fill="#1a36ff"/><rect x="201.22" y="42.45" width="4.18" height="4.03" fill="#1a36ff"/><rect x="23.50" y="46.07" width="4.18" height="4.03" fill="#ffe81a"/><rect x="27.28" y="46.07" width="4.18" height="4.03" fill="#ffe81a"/><rect x="31.06" y="46.07" width="4.18" height="4.03" fill="#ffe31a"/><rect x="34.84" y="46.07" width="4.18" height="4.03" fill="#ffde1a"/><rect x="38.62" y="46.07" width="4.18" height="4.03" fill="#ffd91a"/><rect x="42.41" y="46.07" width="4.18" height="4.03" fill="#ffe31a"/><rect x="46.19" y="46.07" width="4.18" height="4.03" fill="#ffed1a"/><rect x="49.97" y="46.07" width="4.18" height="4.03" fill="#fff71a"/><rect x="53.75" y="46.07" width="4.18" height="4.03" fill="#fffc1a"/><rect x="57.53" y="46.07" width="4.18" height="4.03" fill="#fcff1c"/><rect x="61.31" y="46.07" width="4.18" height="4.03" fill="#f7ff21"/><rect x="65.09" y="46.07" width="4.18" height="4.03" fill="#f2ff26"/><rect x="68.88" y="46.07" width="4.18" height="4.03" fill="#edff2b"/><rect x="72.66" y="46.07" width="4.18" height="4.03" fill="#e8ff30"/><rect x="76.44" y="46.07" width="4.18" height="4.03" fill="#d9ff40"/><rect x="80.22" y="46.07" width="4.18" height="4.03" fill="#c9ff4f"/><rect x="84.00" y="46.07" width="4.18" height="4.03" fill="#baff5e"/><rect x="87.78" y="46.07" width="4.18" height="4.03" fill="#a1ff78"/><rect x="91.56" y="46.07" width="4.18" height="4.03" fill="#87ff91"/><rect x="95.34" y="46.07" width="4.18" height="4.03" fill="#6effab"/><rect x="99.12" y="46.07" width="4.18" height="4.03" fill="#4fffc9"/><rect x="102.91" y="46.07" width="4.18" height="4.03" fill="#30ffe8"/><rect x="106.69" y="46.07" width="4.18" height="4.03" fill="#1af7ff"/><rect x="110.47" y="46.07" width="4.18" height="4.03" fill="#1adeff"/><rect x="114.25" y="46.07" width="4.18" height="4.03" fill="#1ac4ff"/><rect x="118.03" y="46.07" width="4.18" height="4.03" fill="#1aabff"/><rect x="121.81" y="46.07" width="4.18" height="4.03" fill="#1a91ff"/><rect x="125.59" y="46.07" width="4.18" height="4.03" fill="#1a78ff"/><rect x="129.38" y="46.07" width="4.18" height="4.03" fill="#1a5eff"/><rect x="133.16" y="46.07" width="4.18" height="4.03" fill="#1a54ff"/><rect x="136.94" y="46.07" width="4.18" height="4.03" fill="#1a4aff"/><rect x="140.72" y="46.07" width="4.18" height="4.03" fill="#1a40ff"/><rect x="144.50" y="46.07" width="4.18" height="4.03" fill="#1a3bff"/><rect x="148.28" y="46.07" width="4.18" height="4.03" fill="#1a36ff"/><rect x="152.06" y="46.07" width="4.18" height="4.03" fill="#1a30ff"/><rect x="155.84" y="46.07" width="4.18" height="4.03" fill="#1a30ff"/><rect x="159.62" y="46.07" width="4.18" height="4.03" fill="#1a30ff"/><rect x="163.41" y="46.07" width="4.18" height="4.03" fill="#1a30ff"/><rect x="167.19" y="46.07" width="4.18" height="4.03" fill="#1a30ff"/><rect x="170.97" y="46.07" width="4.18" height="4.03" fill="#1a30ff"/><rect x="174.75" y="46.07" width="4.18" height="4.03" fill="#1a30ff"/><rect x="178.53" y="46.07" width="4.18" height="4.03" fill="#1a30ff"/><rect x="182.31" y="46.07" width="4.18" height="4.03" fill="#1a30ff"/><rect x="186.09" y="46.07" width="4.18" height="4.03" fill="#1a30ff"/><rect x="189.88" y="46.07" width="4.18" height="4.03" fill="#1a30ff"/><rect x="193.66" y="46.07" width="4.18" height="4.03" fill="#1a30ff"/><rect x="197.44" y="46.07" width="4.18" height="4.03" fill="#1a30ff"/><rect x="201.22" y="46.07" width="4.18" height="4.03" fill="#1a30ff"/><rect x="23.50" y="49.70" width="4.18" height="4.03" fill="#ffed1a"/><rect x="27.28" y="49.70" width="4.18" height="4.03" fill="#ffed1a"/><rect x="31.06" y="49.70" width="4.18" height="4.03" fill="#ffe51a"/><rect x="34.84" y="49.70" width="4.18" height="4.03" fill="#ffdc1a"/><rect x="38.62" y="49.70" width="4.18" height="4.03" fill="#ffd41a"/><rect x="42.41" y="49.70" width="4.18" height="4.03" fill="#ffd71a"/><rect x="46.19" y="49.70" width="4.18" height="4.03" fill="#ffda1a"/><rect x="49.97" y="49.70" width="4.18" height="4.03" fill="#ffde1a"/><rect x="53.75" y="49.70" width="4.18" height="4.03" fill="#ffe81a"/><rect x="57.53" y="49.70" width="4.18" height="4.03" fill="#fff21a"/><rect x="61.31" y="49.70" width="4.18" height="4.03" fill="#fffc1a"/><rect x="65.09" y="49.70" width="4.18" height="4.03" fill="#fbff1e"/><rect x="68.88" y="49.70" width="4.18" height="4.03" fill="#f4ff25"/><rect x="72.66" y="49.70" width="4.18" height="4.03" fill="#edff2b"/><rect x="76.44" y="49.70" width="4.18" height="4.03" fill="#deff3b"/><rect x="80.22" y="49.70" width="4.18" height="4.03" fill="#cfff4a"/><rect x="84.00" y="49.70" width="4.18" height="4.03" fill="#bfff59"/><rect x="87.78" y="49.70" width="4.18" height="4.03" fill="#a1ff78"/><rect x="91.56" y="49.70" width="4.18" height="4.03" fill="#82ff96"/><rect x="95.34" y="49.70" width="4.18" height="4.03" fill="#63ffb5"/><rect x="99.12" y="49.70" width="4.18" height="4.03" fill="#43ffd5"/><rect x="102.91" y="49.70" width="4.18" height="4.03" fill="#23fff6"/><rect x="106.69" y="49.70" width="4.18" height="4.03" fill="#1ae8ff"/><rect x="110.47" y="49.70" width="4.18" height="4.03" fill="#1acfff"/><rect x="114.25" y="49.70" width="4.18" height="4.03" fill="#1ab5ff"/><rect x="118.03" y="49.70" width="4.18" height="4.03" fill="#1a9cff"/><rect x="121.81" y="49.70" width="4.18" height="4.03" fill="#1a82ff"/><rect x="125.59" y="49.70" width="4.18" height="4.03" fill="#1a69ff"/><rect x="129.38" y="49.70" width="4.18" height="4.03" fill="#1a4fff"/><rect x="133.16" y="49.70" width="4.18" height="4.03" fill="#1a47ff"/><rect x="136.94" y="49.70" width="4.18" height="4.03" fill="#1a3eff"/><rect x="140.72" y="49.70" width="4.18" height="4.03" fill="#1a36ff"/><rect x="144.50" y="49.70" width="4.18" height="4.03" fill="#1a32ff"/><rect x="148.28" y="49.70" width="4.18" height="4.03" fill="#1a2fff"/><rect x="152.06" y="49.70" width="4.18" height="4.03" fill="#1a2bff"/><rect x="155.84" y="49.70" width="4.18" height="4.03" fill="#1a2bff"/><rect x="159.62" y="49.70" width="4.18" height="4.03" fill="#1a2bff"/><rect x="163.41" y="49.70" width="4.18" height="4.03" fill="#1a2bff"/><rect x="167.19" y="49.70" width="4.18" height="4.03" fill="#1a2bff"/><rect x="170.97" y="49.70" width="4.18" height="4.03" fill="#1a2bff"/><rect x="174.75" y="49.70" width="4.18" height="4.03" fill="#1a2bff"/><rect x="178.53" y="49.70" width="4.18" height="4.03" fill="#1a2bff"/><rect x="182.31" y="49.70" width="4.18" height="4.03" fill="#1a2bff"/><rect x="186.09" y="49.70" width="4.18" height="4.03" fill="#1a2bff"/><rect x="189.88" y="49.70" width="4.18" height="4.03" fill="#1a2bff"/><rect x="193.66" y="49.70" width="4.18" height="4.03" fill="#1a2bff"/><rect x="197.44" y="49.70" width="4.18" height="4.03" fill="#1a2bff"/><rect x="201.22" y="49.70" width="4.18" height="4.03" fill="#1a2bff"/><rect x="23.50" y="53.33" width="4.18" height="4.03" fill="#fff21a"/><rect x="27.28" y="53.33" width="4.18" height="4.03" fill="#fff21a"/><rect x="31.06" y="53.33" width="4.18" height="4.03" fill="#ffe61a"/><rect x="34.84" y="53.33" width="4.18" height="4.03" fill="#ffda1a"/><rect x="38.62" y="53.33" width="4.18" height="4.03" fill="#ffcf1a"/><rect x="42.41" y="53.33" width="4.18" height="4.03" fill="#ffcb1a"/><rect x="46.19" y="53.33" width="4.18" height="4.03" fill="#ffc81a"/><rect x="49.97" y="53.33" width="4.18" height="4.03" fill="#ffc41a"/><rect x="53.75" y="53.33" width="4.18" height="4.03" fill="#ffd41a"/><rect x="57.53" y="53.33" width="4.18" height="4.03" fill="#ffe31a"/><rect x="61.31" y="53.33" width="4.18" height="4.03" fill="#fff21a"/><rect x="65.09" y="53.33" width="4.18" height="4.03" fill="#fffb1a"/><rect x="68.88" y="53.33" width="4.18" height="4.03" fill="#fbff1e"/><rect x="72.66" y="53.33" width="4.18" height="4.03" fill="#f2ff26"/><rect x="76.44" y="53.33" width="4.18" height="4.03" fill="#e3ff36"/><rect x="80.22" y="53.33" width="4.18" height="4.03" fill="#d4ff45"/><rect x="84.00" y="53.33" width="4.18" height="4.03" fill="#c4ff54"/><rect x="87.78" y="53.33" width="4.18" height="4.03" fill="#a1ff78"/><rect x="91.56" y="53.33" width="4.18" height="4.03" fill="#7dff9c"/><rect x="95.34" y="53.33" width="4.18" height="4.03" fill="#59ffbf"/><rect x="99.12" y="53.33" width="4.18" height="4.03" fill="#37ffe1"/><rect x="102.91" y="53.33" width="4.18" height="4.03" fill="#1afbff"/><rect x="106.69" y="53.33" width="4.18" height="4.03" fill="#1ad9ff"/><rect x="110.47" y="53.33" width="4.18" height="4.03" fill="#1abfff"/><rect x="114.25" y="53.33" width="4.18" height="4.03" fill="#1aa6ff"/><rect x="118.03" y="53.33" width="4.18" height="4.03" fill="#1a8cff"/><rect x="121.81" y="53.33" width="4.18" height="4.03" fill="#1a73ff"/><rect x="125.59" y="53.33" width="4.18" height="4.03" fill="#1a59ff"/><rect x="129.38" y="53.33" width="4.18" height="4.03" fill="#1a40ff"/><rect x="133.16" y="53.33" width="4.18" height="4.03" fill="#1a39ff"/><rect x="136.94" y="53.33" width="4.18" height="4.03" fill="#1a32ff"/><rect x="140.72" y="53.33" width="4.18" height="4.03" fill="#1a2bff"/><rect x="144.50" y="53.33" width="4.18" height="4.03" fill="#1a2aff"/><rect x="148.28" y="53.33" width="4.18" height="4.03" fill="#1a28ff"/><rect x="152.06" y="53.33" width="4.18" height="4.03" fill="#1a26ff"/><rect x="155.84" y="53.33" width="4.18" height="4.03" fill="#1a26ff"/><rect x="159.62" y="53.33" width="4.18" height="4.03" fill="#1a26ff"/><rect x="163.41" y="53.33" width="4.18" height="4.03" fill="#1a26ff"/><rect x="167.19" y="53.33" width="4.18" height="4.03" fill="#1a26ff"/><rect x="170.97" y="53.33" width="4.18" height="4.03" fill="#1a26ff"/><rect x="174.75" y="53.33" width="4.18" height="4.03" fill="#1a26ff"/><rect x="178.53" y="53.33" width="4.18" height="4.03" fill="#1a26ff"/><rect x="182.31" y="53.33" width="4.18" height="4.03" fill="#1a26ff"/><rect x="186.09" y="53.33" width="4.18" height="4.03" fill="#1a26ff"/><rect x="189.88" y="53.33" width="4.18" height="4.03" fill="#1a26ff"/><rect x="193.66" y="53.33" width="4.18" height="4.03" fill="#1a26ff"/><rect x="197.44" y="53.33" width="4.18" height="4.03" fill="#1a26ff"/><rect x="201.22" y="53.33" width="4.18" height="4.03" fill="#1a26ff"/><rect x="23.50" y="56.95" width="4.18" height="4.03" fill="#fff71a"/><rect x="27.28" y="56.95" width="4.18" height="4.03" fill="#fff71a"/><rect x="31.06" y="56.95" width="4.18" height="4.03" fill="#ffe81a"/><rect x="34.84" y="56.95" width="4.18" height="4.03" fill="#ffd91a"/><rect x="38.62" y="56.95" width="4.18" height="4.03" fill="#ffc91a"/><rect x="42.41" y="56.95" width="4.18" height="4.03" fill="#ffbf1a"/><rect x="46.19" y="56.95" width="4.18" height="4.03" fill="#ffb51a"/><rect x="49.97" y="56.95" width="4.18" height="4.03" fill="#ffab1a"/><rect x="53.75" y="56.95" width="4.18" height="4.03" fill="#ffbf1a"/><rect x="57.53" y="56.95" width="4.18" height="4.03" fill="#ffd41a"/><rect x="61.31" y="56.95" width="4.18" height="4.03" fill="#ffe81a"/><rect x="65.09" y="56.95" width="4.18" height="4.03" fill="#fff21a"/><rect x="68.88" y="56.95" width="4.18" height="4.03" fill="#fffc1a"/><rect x="72.66" y="56.95" width="4.18" height="4.03" fill="#f7ff21"/><rect x="76.44" y="56.95" width="4.18" height="4.03" fill="#e8ff30"/><rect x="80.22" y="56.95" width="4.18" height="4.03" fill="#d9ff40"/><rect x="84.00" y="56.95" width="4.18" height="4.03" fill="#c9ff4f"/><rect x="87.78" y="56.95" width="4.18" height="4.03" fill="#a1ff78"/><rect x="91.56" y="56.95" width="4.18" height="4.03" fill="#78ffa1"/><rect x="95.34" y="56.95" width="4.18" height="4.03" fill="#4fffc9"/><rect x="99.12" y="56.95" width="4.18" height="4.03" fill="#2bffed"/><rect x="102.91" y="56.95" width="4.18" height="4.03" fill="#1aedff"/><rect x="106.69" y="56.95" width="4.18" height="4.03" fill="#1ac9ff"/><rect x="110.47" y="56.95" width="4.18" height="4.03" fill="#1ab0ff"/><rect x="114.25" y="56.95" width="4.18" height="4.03" fill="#1a96ff"/><rect x="118.03" y="56.95" width="4.18" height="4.03" fill="#1a7dff"/><rect x="121.81" y="56.95" width="4.18" height="4.03" fill="#1a63ff"/><rect x="125.59" y="56.95" width="4.18" height="4.03" fill="#1a4aff"/><rect x="129.38" y="56.95" width="4.18" height="4.03" fill="#1a30ff"/><rect x="133.16" y="56.95" width="4.18" height="4.03" fill="#1a2bff"/><rect x="136.94" y="56.95" width="4.18" height="4.03" fill="#1a26ff"/><rect x="140.72" y="56.95" width="4.18" height="4.03" fill="#1a21ff"/><rect x="144.50" y="56.95" width="4.18" height="4.03" fill="#1a21ff"/><rect x="148.28" y="56.95" width="4.18" height="4.03" fill="#1a21ff"/><rect x="152.06" y="56.95" width="4.18" height="4.03" fill="#1a21ff"/><rect x="155.84" y="56.95" width="4.18" height="4.03" fill="#1a21ff"/><rect x="159.62" y="56.95" width="4.18" height="4.03" fill="#1a21ff"/><rect x="163.41" y="56.95" width="4.18" height="4.03" fill="#1a21ff"/><rect x="167.19" y="56.95" width="4.18" height="4.03" fill="#1a21ff"/><rect x="170.97" y="56.95" width="4.18" height="4.03" fill="#1a21ff"/><rect x="174.75" y="56.95" width="4.18" height="4.03" fill="#1a21ff"/><rect x="178.53" y="56.95" width="4.18" height="4.03" fill="#1a21ff"/><rect x="182.31" y="56.95" width="4.18" height="4.03" fill="#1a21ff"/><rect x="186.09" y="56.95" width="4.18" height="4.03" fill="#1a21ff"/><rect x="189.88" y="56.95" width="4.18" height="4.03" fill="#1a21ff"/><rect x="193.66" y="56.95" width="4.18" height="4.03" fill="#1a21ff"/><rect x="197.44" y="56.95" width="4.18" height="4.03" fill="#1a21ff"/><rect x="201.22" y="56.95" width="4.18" height="4.03" fill="#1a21ff"/><rect x="23.50" y="60.58" width="4.18" height="4.03" fill="#cfff4a"/><rect x="27.28" y="60.58" width="4.18" height="4.03" fill="#cfff4a"/><rect x="31.06" y="60.58" width="4.18" height="4.03" fill="#dcff3c"/><rect x="34.84" y="60.58" width="4.18" height="4.03" fill="#eaff2f"/><rect x="38.62" y="60.58" width="4.18" height="4.03" fill="#f7ff21"/><rect x="42.41" y="60.58" width="4.18" height="4.03" fill="#fffe1a"/><rect x="46.19" y="60.58" width="4.18" height="4.03" fill="#fff61a"/><rect x="49.97" y="60.58" width="4.18" height="4.03" fill="#ffed1a"/><rect x="53.75" y="60.58" width="4.18" height="4.03" fill="#fff21a"/><rect x="57.53" y="60.58" width="4.18" height="4.03" fill="#fff71a"/><rect x="61.31" y="60.58" width="4.18" height="4.03" fill="#fffc1a"/><rect x="65.09" y="60.58" width="4.18" height="4.03" fill="#f9ff1f"/><rect x="68.88" y="60.58" width="4.18" height="4.03" fill="#f1ff28"/><rect x="72.66" y="60.58" width="4.18" height="4.03" fill="#e8ff30"/><rect x="76.44" y="60.58" width="4.18" height="4.03" fill="#deff3b"/><rect x="80.22" y="60.58" width="4.18" height="4.03" fill="#d4ff45"/><rect x="84.00" y="60.58" width="4.18" height="4.03" fill="#c9ff4f"/><rect x="87.78" y="60.58" width="4.18" height="4.03" fill="#9fff7a"/><rect x="91.56" y="60.58" width="4.18" height="4.03" fill="#74ffa4"/><rect x="95.34" y="60.58" width="4.18" height="4.03" fill="#4affcf"/><rect x="99.12" y="60.58" width="4.18" height="4.03" fill="#23fff6"/><rect x="102.91" y="60.58" width="4.18" height="4.03" fill="#1ae1ff"/><rect x="106.69" y="60.58" width="4.18" height="4.03" fill="#1abaff"/><rect x="110.47" y="60.58" width="4.18" height="4.03" fill="#1aa2ff"/><rect x="114.25" y="60.58" width="4.18" height="4.03" fill="#1a8bff"/><rect x="118.03" y="60.58" width="4.18" height="4.03" fill="#1a73ff"/><rect x="121.81" y="60.58" width="4.18" height="4.03" fill="#1a5bff"/><rect x="125.59" y="60.58" width="4.18" height="4.03" fill="#1a43ff"/><rect x="129.38" y="60.58" width="4.18" height="4.03" fill="#1a2bff"/><rect x="133.16" y="60.58" width="4.18" height="4.03" fill="#1a26ff"/><rect x="136.94" y="60.58" width="4.18" height="4.03" fill="#1a21ff"/><rect x="140.72" y="60.58" width="4.18" height="4.03" fill="#1a1cff"/><rect x="144.50" y="60.58" width="4.18" height="4.03" fill="#1a1cff"/><rect x="148.28" y="60.58" width="4.18" height="4.03" fill="#1a1cff"/><rect x="152.06" y="60.58" width="4.18" height="4.03" fill="#1a1cff"/><rect x="155.84" y="60.58" width="4.18" height="4.03" fill="#1a1cff"/><rect x="159.62" y="60.58" width="4.18" height="4.03" fill="#1a1cff"/><rect x="163.41" y="60.58" width="4.18" height="4.03" fill="#1a1cff"/><rect x="167.19" y="60.58" width="4.18" height="4.03" fill="#1a1cff"/><rect x="170.97" y="60.58" width="4.18" height="4.03" fill="#1a1cff"/><rect x="174.75" y="60.58" width="4.18" height="4.03" fill="#1a1cff"/><rect x="178.53" y="60.58" width="4.18" height="4.03" fill="#1a1cff"/><rect x="182.31" y="60.58" width="4.18" height="4.03" fill="#1a1cff"/><rect x="186.09" y="60.58" width="4.18" height="4.03" fill="#1a1cff"/><rect x="189.88" y="60.58" width="4.18" height="4.03" fill="#1a1cff"/><rect x="193.66" y="60.58" width="4.18" height="4.03" fill="#1a1cff"/><rect x="197.44" y="60.58" width="4.18" height="4.03" fill="#1a1cff"/><rect x="201.22" y="60.58" width="4.18" height="4.03" fill="#1a1cff"/><rect x="23.50" y="64.21" width="4.18" height="4.03" fill="#96ff82"/><rect x="27.28" y="64.21" width="4.18" height="4.03" fill="#96ff82"/><rect x="31.06" y="64.21" width="4.18" height="4.03" fill="#a2ff76"/><rect x="34.84" y="64.21" width="4.18" height="4.03" fill="#aeff6a"/><rect x="38.62" y="64.21" width="4.18" height="4.03" fill="#baff5e"/><rect x="42.41" y="64.21" width="4.18" height="4.03" fill="#c1ff58"/><rect x="46.19" y="64.21" width="4.18" height="4.03" fill="#c8ff51"/><rect x="49.97" y="64.21" width="4.18" height="4.03" fill="#cfff4a"/><rect x="53.75" y="64.21" width="4.18" height="4.03" fill="#d9ff40"/><rect x="57.53" y="64.21" width="4.18" height="4.03" fill="#e3ff36"/><rect x="61.31" y="64.21" width="4.18" height="4.03" fill="#edff2b"/><rect x="65.09" y="64.21" width="4.18" height="4.03" fill="#e6ff32"/><rect x="68.88" y="64.21" width="4.18" height="4.03" fill="#e0ff39"/><rect x="72.66" y="64.21" width="4.18" height="4.03" fill="#d9ff40"/><rect x="76.44" y="64.21" width="4.18" height="4.03" fill="#d4ff45"/><rect x="80.22" y="64.21" width="4.18" height="4.03" fill="#cfff4a"/><rect x="84.00" y="64.21" width="4.18" height="4.03" fill="#c9ff4f"/><rect x="87.78" y="64.21" width="4.18" height="4.03" fill="#9dff7b"/><rect x="91.56" y="64.21" width="4.18" height="4.03" fill="#71ffa7"/><rect x="95.34" y="64.21" width="4.18" height="4.03" fill="#45ffd4"/><rect x="99.12" y="64.21" width="4.18" height="4.03" fill="#1afffe"/><rect x="102.91" y="64.21" width="4.18" height="4.03" fill="#1ad5ff"/><rect x="106.69" y="64.21" width="4.18" height="4.03" fill="#1aabff"/><rect x="110.47" y="64.21" width="4.18" height="4.03" fill="#1a95ff"/><rect x="114.25" y="64.21" width="4.18" height="4.03" fill="#1a7fff"/><rect x="118.03" y="64.21" width="4.18" height="4.03" fill="#1a69ff"/><rect x="121.81" y="64.21" width="4.18" height="4.03" fill="#1a52ff"/><rect x="125.59" y="64.21" width="4.18" height="4.03" fill="#1a3cff"/><rect x="129.38" y="64.21" width="4.18" height="4.03" fill="#1a26ff"/><rect x="133.16" y="64.21" width="4.18" height="4.03" fill="#1a21ff"/><rect x="136.94" y="64.21" width="4.18" height="4.03" fill="#1a1cff"/><rect x="140.72" y="64.21" width="4.18" height="4.03" fill="#1a1afc"/><rect x="144.50" y="64.21" width="4.18" height="4.03" fill="#1a1afc"/><rect x="148.28" y="64.21" width="4.18" height="4.03" fill="#1a1afc"/><rect x="152.06" y="64.21" width="4.18" height="4.03" fill="#1a1afc"/><rect x="155.84" y="64.21" width="4.18" height="4.03" fill="#1a1afc"/><rect x="159.62" y="64.21" width="4.18" height="4.03" fill="#1a1afc"/><rect x="163.41" y="64.21" width="4.18" height="4.03" fill="#1a1afc"/><rect x="167.19" y="64.21" width="4.18" height="4.03" fill="#1a1afc"/><rect x="170.97" y="64.21" width="4.18" height="4.03" fill="#1a1afc"/><rect x="174.75" y="64.21" width="4.18" height="4.03" fill="#1a1afc"/><rect x="178.53" y="64.21" width="4.18" height="4.03" fill="#1a1afc"/><rect x="182.31" y="64.21" width="4.18" height="4.03" fill="#1a1afc"/><rect x="186.09" y="64.21" width="4.18" height="4.03" fill="#1a1afc"/><rect x="189.88" y="64.21" width="4.18" height="4.03" fill="#1a1afc"/><rect x="193.66" y="64.21" width="4.18" height="4.03" fill="#1a1afc"/><rect x="197.44" y="64.21" width="4.18" height="4.03" fill="#1a1afc"/><rect x="201.22" y="64.21" width="4.18" height="4.03" fill="#1a1afc"/><rect x="23.50" y="67.84" width="4.18" height="4.03" fill="#5effba"/><rect x="27.28" y="67.84" width="4.18" height="4.03" fill="#5effba"/><rect x="31.06" y="67.84" width="4.18" height="4.03" fill="#69ffb0"/><rect x="34.84" y="67.84" width="4.18" height="4.03" fill="#73ffa6"/><rect x="38.62" y="67.84" width="4.18" height="4.03" fill="#7dff9c"/><rect x="42.41" y="67.84" width="4.18" height="4.03" fill="#82ff96"/><rect x="46.19" y="67.84" width="4.18" height="4.03" fill="#87ff91"/><rect x="49.97" y="67.84" width="4.18" height="4.03" fill="#8cff8c"/><rect x="53.75" y="67.84" width="4.18" height="4.03" fill="#a6ff73"/><rect x="57.53" y="67.84" width="4.18" height="4.03" fill="#bfff59"/><rect x="61.31" y="67.84" width="4.18" height="4.03" fill="#d9ff40"/><rect x="65.09" y="67.84" width="4.18" height="4.03" fill="#d4ff45"/><rect x="68.88" y="67.84" width="4.18" height="4.03" fill="#cfff4a"/><rect x="72.66" y="67.84" width="4.18" height="4.03" fill="#c9ff4f"/><rect x="76.44" y="67.84" width="4.18" height="4.03" fill="#c9ff4f"/><rect x="80.22" y="67.84" width="4.18" height="4.03" fill="#c9ff4f"/><rect x="84.00" y="67.84" width="4.18" height="4.03" fill="#c9ff4f"/><rect x="87.78" y="67.84" width="4.18" height="4.03" fill="#9cff7d"/><rect x="91.56" y="67.84" width="4.18" height="4.03" fill="#6effab"/><rect x="95.34" y="67.84" width="4.18" height="4.03" fill="#40ffd9"/><rect x="99.12" y="67.84" width="4.18" height="4.03" fill="#1af7ff"/><rect x="102.91" y="67.84" width="4.18" height="4.03" fill="#1ac9ff"/><rect x="106.69" y="67.84" width="4.18" height="4.03" fill="#1a9cff"/><rect x="110.47" y="67.84" width="4.18" height="4.03" fill="#1a87ff"/><rect x="114.25" y="67.84" width="4.18" height="4.03" fill="#1a73ff"/><rect x="118.03" y="67.84" width="4.18" height="4.03" fill="#1a5eff"/><rect x="121.81" y="67.84" width="4.18" height="4.03" fill="#1a4aff"/><rect x="125.59" y="67.84" width="4.18" height="4.03" fill="#1a36ff"/><rect x="129.38" y="67.84" width="4.18" height="4.03" fill="#1a21ff"/><rect x="133.16" y="67.84" width="4.18" height="4.03" fill="#1a1cff"/><rect x="136.94" y="67.84" width="4.18" height="4.03" fill="#1a1afc"/><rect x="140.72" y="67.84" width="4.18" height="4.03" fill="#1a1af7"/><rect x="144.50" y="67.84" width="4.18" height="4.03" fill="#1a1af7"/><rect x="148.28" y="67.84" width="4.18" height="4.03" fill="#1a1af7"/><rect x="152.06" y="67.84" width="4.18" height="4.03" fill="#1a1af7"/><rect x="155.84" y="67.84" width="4.18" height="4.03" fill="#1a1af7"/><rect x="159.62" y="67.84" width="4.18" height="4.03" fill="#1a1af7"/><rect x="163.41" y="67.84" width="4.18" height="4.03" fill="#1a1af7"/><rect x="167.19" y="67.84" width="4.18" height="4.03" fill="#1a1af7"/><rect x="170.97" y="67.84" width="4.18" height="4.03" fill="#1a1af7"/><rect x="174.75" y="67.84" width="4.18" height="4.03" fill="#1a1af7"/><rect x="178.53" y="67.84" width="4.18" height="4.03" fill="#1a1af7"/><rect x="182.31" y="67.84" width="4.18" height="4.03" fill="#1a1af7"/><rect x="186.09" y="67.84" width="4.18" height="4.03" fill="#1a1af7"/><rect x="189.88" y="67.84" width="4.18" height="4.03" fill="#1a1af7"/><rect x="193.66" y="67.84" width="4.18" height="4.03" fill="#1a1af7"/><rect x="197.44" y="67.84" width="4.18" height="4.03" fill="#1a1af7"/><rect x="201.22" y="67.84" width="4.18" height="4.03" fill="#1a1af7"/><rect x="23.50" y="71.46" width="4.18" height="4.03" fill="#59ffbf"/><rect x="27.28" y="71.46" width="4.18" height="4.03" fill="#59ffbf"/><rect x="31.06" y="71.46" width="4.18" height="4.03" fill="#62ffb7"/><rect x="34.84" y="71.46" width="4.18" height="4.03" fill="#6affae"/><rect x="38.62" y="71.46" width="4.18" height="4.03" fill="#73ffa6"/><rect x="42.41" y="71.46" width="4.18" height="4.03" fill="#80ff98"/><rect x="46.19" y="71.46" width="4.18" height="4.03" fill="#8eff8b"/><rect x="49.97" y="71.46" width="4.18" height="4.03" fill="#9cff7d"/><rect x="53.75" y="71.46" width="4.18" height="4.03" fill="#abff6e"/><rect x="57.53" y="71.46" width="4.18" height="4.03" fill="#baff5e"/><rect x="61.31" y="71.46" width="4.18" height="4.03" fill="#c9ff4f"/><rect x="65.09" y="71.46" width="4.18" height="4.03" fill="#c1ff58"/><rect x="68.88" y="71.46" width="4.18" height="4.03" fill="#b8ff60"/><rect x="72.66" y="71.46" width="4.18" height="4.03" fill="#b0ff69"/><rect x="76.44" y="71.46" width="4.18" height="4.03" fill="#a4ff74"/><rect x="80.22" y="71.46" width="4.18" height="4.03" fill="#98ff80"/><rect x="84.00" y="71.46" width="4.18" height="4.03" fill="#8cff8c"/><rect x="87.78" y="71.46" width="4.18" height="4.03" fill="#63ffb5"/><rect x="91.56" y="71.46" width="4.18" height="4.03" fill="#3bffde"/><rect x="95.34" y="71.46" width="4.18" height="4.03" fill="#1af7ff"/><rect x="99.12" y="71.46" width="4.18" height="4.03" fill="#1ad0ff"/><rect x="102.91" y="71.46" width="4.18" height="4.03" fill="#1aa9ff"/><rect x="106.69" y="71.46" width="4.18" height="4.03" fill="#1a82ff"/><rect x="110.47" y="71.46" width="4.18" height="4.03" fill="#1a6fff"/><rect x="114.25" y="71.46" width="4.18" height="4.03" fill="#1a5dff"/><rect x="118.03" y="71.46" width="4.18" height="4.03" fill="#1a4aff"/><rect x="121.81" y="71.46" width="4.18" height="4.03" fill="#1a39ff"/><rect x="125.59" y="71.46" width="4.18" height="4.03" fill="#1a28ff"/><rect x="129.38" y="71.46" width="4.18" height="4.03" fill="#1a1afc"/><rect x="133.16" y="71.46" width="4.18" height="4.03" fill="#1a1af9"/><rect x="136.94" y="71.46" width="4.18" height="4.03" fill="#1a1af6"/><rect x="140.72" y="71.46" width="4.18" height="4.03" fill="#1a1af2"/><rect x="144.50" y="71.46" width="4.18" height="4.03" fill="#1a1af2"/><rect x="148.28" y="71.46" width="4.18" height="4.03" fill="#1a1af2"/><rect x="152.06" y="71.46" width="4.18" height="4.03" fill="#1a1af2"/><rect x="155.84" y="71.46" width="4.18" height="4.03" fill="#1a1af2"/><rect x="159.62" y="71.46" width="4.18" height="4.03" fill="#1a1af2"/><rect x="163.41" y="71.46" width="4.18" height="4.03" fill="#1a1af2"/><rect x="167.19" y="71.46" width="4.18" height="4.03" fill="#1a1af2"/><rect x="170.97" y="71.46" width="4.18" height="4.03" fill="#1a1af2"/><rect x="174.75" y="71.46" width="4.18" height="4.03" fill="#1a1af2"/><rect x="178.53" y="71.46" width="4.18" height="4.03" fill="#1a1af2"/><rect x="182.31" y="71.46" width="4.18" height="4.03" fill="#1a1af2"/><rect x="186.09" y="71.46" width="4.18" height="4.03" fill="#1a1af2"/><rect x="189.88" y="71.46" width="4.18" height="4.03" fill="#1a1af2"/><rect x="193.66" y="71.46" width="4.18" height="4.03" fill="#1a1af2"/><rect x="197.44" y="71.46" width="4.18" height="4.03" fill="#1a1af2"/><rect x="201.22" y="71.46" width="4.18" height="4.03" fill="#1a1af2"/><rect x="23.50" y="75.09" width="4.18" height="4.03" fill="#54ffc4"/><rect x="27.28" y="75.09" width="4.18" height="4.03" fill="#54ffc4"/><rect x="31.06" y="75.09" width="4.18" height="4.03" fill="#5bffbe"/><rect x="34.84" y="75.09" width="4.18" height="4.03" fill="#62ffb7"/><rect x="38.62" y="75.09" width="4.18" height="4.03" fill="#69ffb0"/><rect x="42.41" y="75.09" width="4.18" height="4.03" fill="#7fff9a"/><rect x="46.19" y="75.09" width="4.18" height="4.03" fill="#95ff84"/><rect x="49.97" y="75.09" width="4.18" height="4.03" fill="#abff6e"/><rect x="53.75" y="75.09" width="4.18" height="4.03" fill="#b0ff69"/><rect x="57.53" y="75.09" width="4.18" height="4.03" fill="#b5ff63"/><rect x="61.31" y="75.09" width="4.18" height="4.03" fill="#baff5e"/><rect x="65.09" y="75.09" width="4.18" height="4.03" fill="#aeff6a"/><rect x="68.88" y="75.09" width="4.18" height="4.03" fill="#a2ff76"/><rect x="72.66" y="75.09" width="4.18" height="4.03" fill="#96ff82"/><rect x="76.44" y="75.09" width="4.18" height="4.03" fill="#7fff9a"/><rect x="80.22" y="75.09" width="4.18" height="4.03" fill="#67ffb2"/><rect x="84.00" y="75.09" width="4.18" height="4.03" fill="#4fffc9"/><rect x="87.78" y="75.09" width="4.18" height="4.03" fill="#2bffed"/><rect x="91.56" y="75.09" width="4.18" height="4.03" fill="#1aedff"/><rect x="95.34" y="75.09" width="4.18" height="4.03" fill="#1ac9ff"/><rect x="99.12" y="75.09" width="4.18" height="4.03" fill="#1aa9ff"/><rect x="102.91" y="75.09" width="4.18" height="4.03" fill="#1a89ff"/><rect x="106.69" y="75.09" width="4.18" height="4.03" fill="#1a69ff"/><rect x="110.47" y="75.09" width="4.18" height="4.03" fill="#1a58ff"/><rect x="114.25" y="75.09" width="4.18" height="4.03" fill="#1a47ff"/><rect x="118.03" y="75.09" width="4.18" height="4.03" fill="#1a36ff"/><rect x="121.81" y="75.09" width="4.18" height="4.03" fill="#1a28ff"/><rect x="125.59" y="75.09" width="4.18" height="4.03" fill="#1a1aff"/><rect x="129.38" y="75.09" width="4.18" height="4.03" fill="#1a1af2"/><rect x="133.16" y="75.09" width="4.18" height="4.03" fill="#1a1af1"/><rect x="136.94" y="75.09" width="4.18" height="4.03" fill="#1a1aef"/><rect x="140.72" y="75.09" width="4.18" height="4.03" fill="#1a1aed"/><rect x="144.50" y="75.09" width="4.18" height="4.03" fill="#1a1aed"/><rect x="148.28" y="75.09" width="4.18" height="4.03" fill="#1a1aed"/><rect x="152.06" y="75.09" width="4.18" height="4.03" fill="#1a1aed"/><rect x="155.84" y="75.09" width="4.18" height="4.03" fill="#1a1aed"/><rect x="159.62" y="75.09" width="4.18" height="4.03" fill="#1a1aed"/><rect x="163.41" y="75.09" width="4.18" height="4.03" fill="#1a1aed"/><rect x="167.19" y="75.09" width="4.18" height="4.03" fill="#1a1aed"/><rect x="170.97" y="75.09" width="4.18" height="4.03" fill="#1a1aed"/><rect x="174.75" y="75.09" width="4.18" height="4.03" fill="#1a1aed"/><rect x="178.53" y="75.09" width="4.18" height="4.03" fill="#1a1aed"/><rect x="182.31" y="75.09" width="4.18" height="4.03" fill="#1a1aed"/><rect x="186.09" y="75.09" width="4.18" height="4.03" fill="#1a1aed"/><rect x="189.88" y="75.09" width="4.18" height="4.03" fill="#1a1aed"/><rect x="193.66" y="75.09" width="4.18" height="4.03" fill="#1a1aed"/><rect x="197.44" y="75.09" width="4.18" height="4.03" fill="#1a1aed"/><rect x="201.22" y="75.09" width="4.18" height="4.03" fill="#1a1aed"/><rect x="23.50" y="78.72" width="4.18" height="4.03" fill="#4fffc9"/><rect x="27.28" y="78.72" width="4.18" height="4.03" fill="#4fffc9"/><rect x="31.06" y="78.72" width="4.18" height="4.03" fill="#54ffc4"/><rect x="34.84" y="78.72" width="4.18" height="4.03" fill="#59ffbf"/><rect x="38.62" y="78.72" width="4.18" height="4.03" fill="#5effba"/><rect x="42.41" y="78.72" width="4.18" height="4.03" fill="#7dff9c"/><rect x="46.19" y="78.72" width="4.18" height="4.03" fill="#9cff7d"/><rect x="49.97" y="78.72" width="4.18" height="4.03" fill="#baff5e"/><rect x="53.75" y="78.72" width="4.18" height="4.03" fill="#b5ff63"/><rect x="57.53" y="78.72" width="4.18" height="4.03" fill="#b0ff69"/><rect x="61.31" y="78.72" width="4.18" height="4.03" fill="#abff6e"/><rect x="65.09" y="78.72" width="4.18" height="4.03" fill="#9cff7d"/><rect x="68.88" y="78.72" width="4.18" height="4.03" fill="#8cff8c"/><rect x="72.66" y="78.72" width="4.18" height="4.03" fill="#7dff9c"/><rect x="76.44" y="78.72" width="4.18" height="4.03" fill="#59ffbf"/><rect x="80.22" y="78.72" width="4.18" height="4.03" fill="#36ffe3"/><rect x="84.00" y="78.72" width="4.18" height="4.03" fill="#1af7ff"/><rect x="87.78" y="78.72" width="4.18" height="4.03" fill="#1ad9ff"/><rect x="91.56" y="78.72" width="4.18" height="4.03" fill="#1abaff"/><rect x="95.34" y="78.72" width="4.18" height="4.03" fill="#1a9cff"/><rect x="99.12" y="78.72" width="4.18" height="4.03" fill="#1a82ff"/><rect x="102.91" y="78.72" width="4.18" height="4.03" fill="#1a69ff"/><rect x="106.69" y="78.72" width="4.18" height="4.03" fill="#1a4fff"/><rect x="110.47" y="78.72" width="4.18" height="4.03" fill="#1a40ff"/><rect x="114.25" y="78.72" width="4.18" height="4.03" fill="#1a30ff"/><rect x="118.03" y="78.72" width="4.18" height="4.03" fill="#1a21ff"/><rect x="121.81" y="78.72" width="4.18" height="4.03" fill="#1a1afc"/><rect x="125.59" y="78.72" width="4.18" height="4.03" fill="#1a1af2"/><rect x="129.38" y="78.72" width="4.18" height="4.03" fill="#1a1ae8"/><rect x="133.16" y="78.72" width="4.18" height="4.03" fill="#1a1ae8"/><rect x="136.94" y="78.72" width="4.18" height="4.03" fill="#1a1ae8"/><rect x="140.72" y="78.72" width="4.18" height="4.03" fill="#1a1ae8"/><rect x="144.50" y="78.72" width="4.18" height="4.03" fill="#1a1ae8"/><rect x="148.28" y="78.72" width="4.18" height="4.03" fill="#1a1ae8"/><rect x="152.06" y="78.72" width="4.18" height="4.03" fill="#1a1ae8"/><rect x="155.84" y="78.72" width="4.18" height="4.03" fill="#1a1ae8"/><rect x="159.62" y="78.72" width="4.18" height="4.03" fill="#1a1ae8"/><rect x="163.41" y="78.72" width="4.18" height="4.03" fill="#1a1ae8"/><rect x="167.19" y="78.72" width="4.18" height="4.03" fill="#1a1ae8"/><rect x="170.97" y="78.72" width="4.18" height="4.03" fill="#1a1ae8"/><rect x="174.75" y="78.72" width="4.18" height="4.03" fill="#1a1ae8"/><rect x="178.53" y="78.72" width="4.18" height="4.03" fill="#1a1ae8"/><rect x="182.31" y="78.72" width="4.18" height="4.03" fill="#1a1ae8"/><rect x="186.09" y="78.72" width="4.18" height="4.03" fill="#1a1ae8"/><rect x="189.88" y="78.72" width="4.18" height="4.03" fill="#1a1ae8"/><rect x="193.66" y="78.72" width="4.18" height="4.03" fill="#1a1ae8"/><rect x="197.44" y="78.72" width="4.18" height="4.03" fill="#1a1ae8"/><rect x="201.22" y="78.72" width="4.18" height="4.03" fill="#1a1ae8"/><rect x="23.50" y="82.35" width="4.18" height="4.03" fill="#4affcf"/><rect x="27.28" y="82.35" width="4.18" height="4.03" fill="#4affcf"/><rect x="31.06" y="82.35" width="4.18" height="4.03" fill="#51ffc8"/><rect x="34.84" y="82.35" width="4.18" height="4.03" fill="#58ffc1"/><rect x="38.62" y="82.35" width="4.18" height="4.03" fill="#5effba"/><rect x="42.41" y="82.35" width="4.18" height="4.03" fill="#73ffa6"/><rect x="46.19" y="82.35" width="4.18" height="4.03" fill="#87ff91"/><rect x="49.97" y="82.35" width="4.18" height="4.03" fill="#9cff7d"/><rect x="53.75" y="82.35" width="4.18" height="4.03" fill="#96ff82"/><rect x="57.53" y="82.35" width="4.18" height="4.03" fill="#91ff87"/><rect x="61.31" y="82.35" width="4.18" height="4.03" fill="#8cff8c"/><rect x="65.09" y="82.35" width="4.18" height="4.03" fill="#78ffa1"/><rect x="68.88" y="82.35" width="4.18" height="4.03" fill="#63ffb5"/><rect x="72.66" y="82.35" width="4.18" height="4.03" fill="#4fffc9"/><rect x="76.44" y="82.35" width="4.18" height="4.03" fill="#30ffe8"/><rect x="80.22" y="82.35" width="4.18" height="4.03" fill="#1af7ff"/><rect x="84.00" y="82.35" width="4.18" height="4.03" fill="#1ad9ff"/><rect x="87.78" y="82.35" width="4.18" height="4.03" fill="#1abaff"/><rect x="91.56" y="82.35" width="4.18" height="4.03" fill="#1a9cff"/><rect x="95.34" y="82.35" width="4.18" height="4.03" fill="#1a7dff"/><rect x="99.12" y="82.35" width="4.18" height="4.03" fill="#1a69ff"/><rect x="102.91" y="82.35" width="4.18" height="4.03" fill="#1a54ff"/><rect x="106.69" y="82.35" width="4.18" height="4.03" fill="#1a40ff"/><rect x="110.47" y="82.35" width="4.18" height="4.03" fill="#1a34ff"/><rect x="114.25" y="82.35" width="4.18" height="4.03" fill="#1a28ff"/><rect x="118.03" y="82.35" width="4.18" height="4.03" fill="#1a1cff"/><rect x="121.81" y="82.35" width="4.18" height="4.03" fill="#1a1af9"/><rect x="125.59" y="82.35" width="4.18" height="4.03" fill="#1a1af1"/><rect x="129.38" y="82.35" width="4.18" height="4.03" fill="#1a1ae8"/><rect x="133.16" y="82.35" width="4.18" height="4.03" fill="#1a1ae6"/><rect x="136.94" y="82.35" width="4.18" height="4.03" fill="#1a1ae5"/><rect x="140.72" y="82.35" width="4.18" height="4.03" fill="#1a1ae3"/><rect x="144.50" y="82.35" width="4.18" height="4.03" fill="#1a1ae3"/><rect x="148.28" y="82.35" width="4.18" height="4.03" fill="#1a1ae3"/><rect x="152.06" y="82.35" width="4.18" height="4.03" fill="#1a1ae3"/><rect x="155.84" y="82.35" width="4.18" height="4.03" fill="#1a1ae3"/><rect x="159.62" y="82.35" width="4.18" height="4.03" fill="#1a1ae3"/><rect x="163.41" y="82.35" width="4.18" height="4.03" fill="#1a1ae3"/><rect x="167.19" y="82.35" width="4.18" height="4.03" fill="#1a1ae3"/><rect x="170.97" y="82.35" width="4.18" height="4.03" fill="#1a1ae3"/><rect x="174.75" y="82.35" width="4.18" height="4.03" fill="#1a1ae3"/><rect x="178.53" y="82.35" width="4.18" height="4.03" fill="#1a1ae3"/><rect x="182.31" y="82.35" width="4.18" height="4.03" fill="#1a1ae3"/><rect x="186.09" y="82.35" width="4.18" height="4.03" fill="#1a1ae3"/><rect x="189.88" y="82.35" width="4.18" height="4.03" fill="#1a1ae3"/><rect x="193.66" y="82.35" width="4.18" height="4.03" fill="#1a1ae3"/><rect x="197.44" y="82.35" width="4.18" height="4.03" fill="#1a1ae3"/><rect x="201.22" y="82.35" width="4.18" height="4.03" fill="#1a1ae3"/><rect x="23.50" y="85.97" width="4.18" height="4.03" fill="#45ffd4"/><rect x="27.28" y="85.97" width="4.18" height="4.03" fill="#45ffd4"/><rect x="31.06" y="85.97" width="4.18" height="4.03" fill="#4dffcb"/><rect x="34.84" y="85.97" width="4.18" height="4.03" fill="#56ffc3"/><rect x="38.62" y="85.97" width="4.18" height="4.03" fill="#5effba"/><rect x="42.41" y="85.97" width="4.18" height="4.03" fill="#69ffb0"/><rect x="46.19" y="85.97" width="4.18" height="4.03" fill="#73ffa6"/><rect x="49.97" y="85.97" width="4.18" height="4.03" fill="#7dff9c"/><rect x="53.75" y="85.97" width="4.18" height="4.03" fill="#78ffa1"/><rect x="57.53" y="85.97" width="4.18" height="4.03" fill="#73ffa6"/><rect x="61.31" y="85.97" width="4.18" height="4.03" fill="#6effab"/><rect x="65.09" y="85.97" width="4.18" height="4.03" fill="#54ffc4"/><rect x="68.88" y="85.97" width="4.18" height="4.03" fill="#3bffde"/><rect x="72.66" y="85.97" width="4.18" height="4.03" fill="#21fff7"/><rect x="76.44" y="85.97" width="4.18" height="4.03" fill="#1aedff"/><rect x="80.22" y="85.97" width="4.18" height="4.03" fill="#1ad4ff"/><rect x="84.00" y="85.97" width="4.18" height="4.03" fill="#1abaff"/><rect x="87.78" y="85.97" width="4.18" height="4.03" fill="#1a9cff"/><rect x="91.56" y="85.97" width="4.18" height="4.03" fill="#1a7dff"/><rect x="95.34" y="85.97" width="4.18" height="4.03" fill="#1a5eff"/><rect x="99.12" y="85.97" width="4.18" height="4.03" fill="#1a4fff"/><rect x="102.91" y="85.97" width="4.18" height="4.03" fill="#1a40ff"/><rect x="106.69" y="85.97" width="4.18" height="4.03" fill="#1a30ff"/><rect x="110.47" y="85.97" width="4.18" height="4.03" fill="#1a28ff"/><rect x="114.25" y="85.97" width="4.18" height="4.03" fill="#1a1fff"/><rect x="118.03" y="85.97" width="4.18" height="4.03" fill="#1a1afc"/><rect x="121.81" y="85.97" width="4.18" height="4.03" fill="#1a1af6"/><rect x="125.59" y="85.97" width="4.18" height="4.03" fill="#1a1aef"/><rect x="129.38" y="85.97" width="4.18" height="4.03" fill="#1a1ae8"/><rect x="133.16" y="85.97" width="4.18" height="4.03" fill="#1a1ae5"/><rect x="136.94" y="85.97" width="4.18" height="4.03" fill="#1a1ae1"/><rect x="140.72" y="85.97" width="4.18" height="4.03" fill="#1a1ade"/><rect x="144.50" y="85.97" width="4.18" height="4.03" fill="#1a1ade"/><rect x="148.28" y="85.97" width="4.18" height="4.03" fill="#1a1ade"/><rect x="152.06" y="85.97" width="4.18" height="4.03" fill="#1a1ade"/><rect x="155.84" y="85.97" width="4.18" height="4.03" fill="#1a1ade"/><rect x="159.62" y="85.97" width="4.18" height="4.03" fill="#1a1ade"/><rect x="163.41" y="85.97" width="4.18" height="4.03" fill="#1a1ade"/><rect x="167.19" y="85.97" width="4.18" height="4.03" fill="#1a1ade"/><rect x="170.97" y="85.97" width="4.18" height="4.03" fill="#1a1ade"/><rect x="174.75" y="85.97" width="4.18" height="4.03" fill="#1a1ade"/><rect x="178.53" y="85.97" width="4.18" height="4.03" fill="#1a1ade"/><rect x="182.31" y="85.97" width="4.18" height="4.03" fill="#1a1ade"/><rect x="186.09" y="85.97" width="4.18" height="4.03" fill="#1a1ade"/><rect x="189.88" y="85.97" width="4.18" height="4.03" fill="#1a1ade"/><rect x="193.66" y="85.97" width="4.18" height="4.03" fill="#1a1ade"/><rect x="197.44" y="85.97" width="4.18" height="4.03" fill="#1a1ade"/><rect x="201.22" y="85.97" width="4.18" height="4.03" fill="#1a1ade"/><rect x="23.50" y="89.60" width="4.18" height="4.03" fill="#40ffd9"/><rect x="27.28" y="89.60" width="4.18" height="4.03" fill="#40ffd9"/><rect x="31.06" y="89.60" width="4.18" height="4.03" fill="#4affcf"/><rect x="34.84" y="89.60" width="4.18" height="4.03" fill="#54ffc4"/><rect x="38.62" y="89.60" width="4.18" height="4.03" fill="#5effba"/><rect x="42.41" y="89.60" width="4.18" height="4.03" fill="#5effba"/><rect x="46.19" y="89.60" width="4.18" height="4.03" fill="#5effba"/><rect x="49.97" y="89.60" width="4.18" height="4.03" fill="#5effba"/><rect x="53.75" y="89.60" width="4.18" height="4.03" fill="#59ffbf"/><rect x="57.53" y="89.60" width="4.18" height="4.03" fill="#54ffc4"/><rect x="61.31" y="89.60" width="4.18" height="4.03" fill="#4fffc9"/><rect x="65.09" y="89.60" width="4.18" height="4.03" fill="#30ffe8"/><rect x="68.88" y="89.60" width="4.18" height="4.03" fill="#1af7ff"/><rect x="72.66" y="89.60" width="4.18" height="4.03" fill="#1ad9ff"/><rect x="76.44" y="89.60" width="4.18" height="4.03" fill="#1ac4ff"/><rect x="80.22" y="89.60" width="4.18" height="4.03" fill="#1ab0ff"/><rect x="84.00" y="89.60" width="4.18" height="4.03" fill="#1a9cff"/><rect x="87.78" y="89.60" width="4.18" height="4.03" fill="#1a7dff"/><rect x="91.56" y="89.60" width="4.18" height="4.03" fill="#1a5eff"/><rect x="95.34" y="89.60" width="4.18" height="4.03" fill="#1a40ff"/><rect x="99.12" y="89.60" width="4.18" height="4.03" fill="#1a36ff"/><rect x="102.91" y="89.60" width="4.18" height="4.03" fill="#1a2bff"/><rect x="106.69" y="89.60" width="4.18" height="4.03" fill="#1a21ff"/><rect x="110.47" y="89.60" width="4.18" height="4.03" fill="#1a1cff"/><rect x="114.25" y="89.60" width="4.18" height="4.03" fill="#1a1afc"/><rect x="118.03" y="89.60" width="4.18" height="4.03" fill="#1a1af7"/><rect x="121.81" y="89.60" width="4.18" height="4.03" fill="#1a1af2"/><rect x="125.59" y="89.60" width="4.18" height="4.03" fill="#1a1aed"/><rect x="129.38" y="89.60" width="4.18" height="4.03" fill="#1a1ae8"/><rect x="133.16" y="89.60" width="4.18" height="4.03" fill="#1a1ae3"/><rect x="136.94" y="89.60" width="4.18" height="4.03" fill="#1a1ade"/><rect x="140.72" y="89.60" width="4.18" height="4.03" fill="#1a1ad9"/><rect x="144.50" y="89.60" width="4.18" height="4.03" fill="#1a1ad9"/><rect x="148.28" y="89.60" width="4.18" height="4.03" fill="#1a1ad9"/><rect x="152.06" y="89.60" width="4.18" height="4.03" fill="#1a1ad9"/><rect x="155.84" y="89.60" width="4.18" height="4.03" fill="#1a1ad9"/><rect x="159.62" y="89.60" width="4.18" height="4.03" fill="#1a1ad9"/><rect x="163.41" y="89.60" width="4.18" height="4.03" fill="#1a1ad9"/><rect x="167.19" y="89.60" width="4.18" height="4.03" fill="#1a1ad9"/><rect x="170.97" y="89.60" width="4.18" height="4.03" fill="#1a1ad9"/><rect x="174.75" y="89.60" width="4.18" height="4.03" fill="#1a1ad9"/><rect x="178.53" y="89.60" width="4.18" height="4.03" fill="#1a1ad9"/><rect x="182.31" y="89.60" width="4.18" height="4.03" fill="#1a1ad9"/><rect x="186.09" y="89.60" width="4.18" height="4.03" fill="#1a1ad9"/><rect x="189.88" y="89.60" width="4.18" height="4.03" fill="#1a1ad9"/><rect x="193.66" y="89.60" width="4.18" height="4.03" fill="#1a1ad9"/><rect x="197.44" y="89.60" width="4.18" height="4.03" fill="#1a1ad9"/><rect x="201.22" y="89.60" width="4.18" height="4.03" fill="#1a1ad9"/><rect x="23.50" y="93.23" width="4.18" height="4.03" fill="#36ffe3"/><rect x="27.28" y="93.23" width="4.18" height="4.03" fill="#36ffe3"/><rect x="31.06" y="93.23" width="4.18" height="4.03" fill="#3cffdc"/><rect x="34.84" y="93.23" width="4.18" height="4.03" fill="#43ffd5"/><rect x="38.62" y="93.23" width="4.18" height="4.03" fill="#4affcf"/><rect x="42.41" y="93.23" width="4.18" height="4.03" fill="#4affcf"/><rect x="46.19" y="93.23" width="4.18" height="4.03" fill="#4affcf"/><rect x="49.97" y="93.23" width="4.18" height="4.03" fill="#4affcf"/><rect x="53.75" y="93.23" width="4.18" height="4.03" fill="#43ffd5"/><rect x="57.53" y="93.23" width="4.18" height="4.03" fill="#3cffdc"/><rect x="61.31" y="93.23" width="4.18" height="4.03" fill="#36ffe3"/><rect x="65.09" y="93.23" width="4.18" height="4.03" fill="#1afffe"/><rect x="68.88" y="93.23" width="4.18" height="4.03" fill="#1ae5ff"/><rect x="72.66" y="93.23" width="4.18" height="4.03" fill="#1ac9ff"/><rect x="76.44" y="93.23" width="4.18" height="4.03" fill="#1ab3ff"/><rect x="80.22" y="93.23" width="4.18" height="4.03" fill="#1a9dff"/><rect x="84.00" y="93.23" width="4.18" height="4.03" fill="#1a87ff"/><rect x="87.78" y="93.23" width="4.18" height="4.03" fill="#1a6eff"/><rect x="91.56" y="93.23" width="4.18" height="4.03" fill="#1a54ff"/><rect x="95.34" y="93.23" width="4.18" height="4.03" fill="#1a3bff"/><rect x="99.12" y="93.23" width="4.18" height="4.03" fill="#1a32ff"/><rect x="102.91" y="93.23" width="4.18" height="4.03" fill="#1a2aff"/><rect x="106.69" y="93.23" width="4.18" height="4.03" fill="#1a21ff"/><rect x="110.47" y="93.23" width="4.18" height="4.03" fill="#1a1cff"/><rect x="114.25" y="93.23" width="4.18" height="4.03" fill="#1a1afc"/><rect x="118.03" y="93.23" width="4.18" height="4.03" fill="#1a1af7"/><rect x="121.81" y="93.23" width="4.18" height="4.03" fill="#1a1af2"/><rect x="125.59" y="93.23" width="4.18" height="4.03" fill="#1a1aed"/><rect x="129.38" y="93.23" width="4.18" height="4.03" fill="#1a1ae8"/><rect x="133.16" y="93.23" width="4.18" height="4.03" fill="#1a1ae1"/><rect x="136.94" y="93.23" width="4.18" height="4.03" fill="#1a1ada"/><rect x="140.72" y="93.23" width="4.18" height="4.03" fill="#1a1ad4"/><rect x="144.50" y="93.23" width="4.18" height="4.03" fill="#1a1ad2"/><rect x="148.28" y="93.23" width="4.18" height="4.03" fill="#1a1ad0"/><rect x="152.06" y="93.23" width="4.18" height="4.03" fill="#1a1acf"/><rect x="155.84" y="93.23" width="4.18" height="4.03" fill="#1a1acf"/><rect x="159.62" y="93.23" width="4.18" height="4.03" fill="#1a1acf"/><rect x="163.41" y="93.23" width="4.18" height="4.03" fill="#1a1acf"/><rect x="167.19" y="93.23" width="4.18" height="4.03" fill="#1a1acf"/><rect x="170.97" y="93.23" width="4.18" height="4.03" fill="#1a1acf"/><rect x="174.75" y="93.23" width="4.18" height="4.03" fill="#1a1acf"/><rect x="178.53" y="93.23" width="4.18" height="4.03" fill="#1a1acf"/><rect x="182.31" y="93.23" width="4.18" height="4.03" fill="#1a1acf"/><rect x="186.09" y="93.23" width="4.18" height="4.03" fill="#1a1acf"/><rect x="189.88" y="93.23" width="4.18" height="4.03" fill="#1a1acf"/><rect x="193.66" y="93.23" width="4.18" height="4.03" fill="#1a1acf"/><rect x="197.44" y="93.23" width="4.18" height="4.03" fill="#1a1acf"/><rect x="201.22" y="93.23" width="4.18" height="4.03" fill="#1a1acf"/><rect x="23.50" y="96.85" width="4.18" height="4.03" fill="#2bffed"/><rect x="27.28" y="96.85" width="4.18" height="4.03" fill="#2bffed"/><rect x="31.06" y="96.85" width="4.18" height="4.03" fill="#2fffea"/><rect x="34.84" y="96.85" width="4.18" height="4.03" fill="#32ffe6"/><rect x="38.62" y="96.85" width="4.18" height="4.03" fill="#36ffe3"/><rect x="42.41" y="96.85" width="4.18" height="4.03" fill="#36ffe3"/><rect x="46.19" y="96.85" width="4.18" height="4.03" fill="#36ffe3"/><rect x="49.97" y="96.85" width="4.18" height="4.03" fill="#36ffe3"/><rect x="53.75" y="96.85" width="4.18" height="4.03" fill="#2dffeb"/><rect x="57.53" y="96.85" width="4.18" height="4.03" fill="#25fff4"/><rect x="61.31" y="96.85" width="4.18" height="4.03" fill="#1cfffc"/><rect x="65.09" y="96.85" width="4.18" height="4.03" fill="#1aeaff"/><rect x="68.88" y="96.85" width="4.18" height="4.03" fill="#1ad2ff"/><rect x="72.66" y="96.85" width="4.18" height="4.03" fill="#1abaff"/><rect x="76.44" y="96.85" width="4.18" height="4.03" fill="#1aa2ff"/><rect x="80.22" y="96.85" width="4.18" height="4.03" fill="#1a8bff"/><rect x="84.00" y="96.85" width="4.18" height="4.03" fill="#1a73ff"/><rect x="87.78" y="96.85" width="4.18" height="4.03" fill="#1a5eff"/><rect x="91.56" y="96.85" width="4.18" height="4.03" fill="#1a4aff"/><rect x="95.34" y="96.85" width="4.18" height="4.03" fill="#1a36ff"/><rect x="99.12" y="96.85" width="4.18" height="4.03" fill="#1a2fff"/><rect x="102.91" y="96.85" width="4.18" height="4.03" fill="#1a28ff"/><rect x="106.69" y="96.85" width="4.18" height="4.03" fill="#1a21ff"/><rect x="110.47" y="96.85" width="4.18" height="4.03" fill="#1a1cff"/><rect x="114.25" y="96.85" width="4.18" height="4.03" fill="#1a1afc"/><rect x="118.03" y="96.85" width="4.18" height="4.03" fill="#1a1af7"/><rect x="121.81" y="96.85" width="4.18" height="4.03" fill="#1a1af2"/><rect x="125.59" y="96.85" width="4.18" height="4.03" fill="#1a1aed"/><rect x="129.38" y="96.85" width="4.18" height="4.03" fill="#1a1ae8"/><rect x="133.16" y="96.85" width="4.18" height="4.03" fill="#1a1ae0"/><rect x="136.94" y="96.85" width="4.18" height="4.03" fill="#1a1ad7"/><rect x="140.72" y="96.85" width="4.18" height="4.03" fill="#1a1acf"/><rect x="144.50" y="96.85" width="4.18" height="4.03" fill="#1a1acb"/><rect x="148.28" y="96.85" width="4.18" height="4.03" fill="#1a1ac8"/><rect x="152.06" y="96.85" width="4.18" height="4.03" fill="#1a1ac4"/><rect x="155.84" y="96.85" width="4.18" height="4.03" fill="#1a1ac4"/><rect x="159.62" y="96.85" width="4.18" height="4.03" fill="#1a1ac4"/><rect x="163.41" y="96.85" width="4.18" height="4.03" fill="#1a1ac4"/><rect x="167.19" y="96.85" width="4.18" height="4.03" fill="#1a1ac4"/><rect x="170.97" y="96.85" width="4.18" height="4.03" fill="#1a1ac4"/><rect x="174.75" y="96.85" width="4.18" height="4.03" fill="#1a1ac4"/><rect x="178.53" y="96.85" width="4.18" height="4.03" fill="#1a1ac4"/><rect x="182.31" y="96.85" width="4.18" height="4.03" fill="#1a1ac4"/><rect x="186.09" y="96.85" width="4.18" height="4.03" fill="#1a1ac4"/><rect x="189.88" y="96.85" width="4.18" height="4.03" fill="#1a1ac4"/><rect x="193.66" y="96.85" width="4.18" height="4.03" fill="#1a1ac4"/><rect x="197.44" y="96.85" width="4.18" height="4.03" fill="#1a1ac4"/><rect x="201.22" y="96.85" width="4.18" height="4.03" fill="#1a1ac4"/><rect x="23.50" y="100.48" width="4.18" height="4.03" fill="#21fff7"/><rect x="27.28" y="100.48" width="4.18" height="4.03" fill="#21fff7"/><rect x="31.06" y="100.48" width="4.18" height="4.03" fill="#21fff7"/><rect x="34.84" y="100.48" width="4.18" height="4.03" fill="#21fff7"/><rect x="38.62" y="100.48" width="4.18" height="4.03" fill="#21fff7"/><rect x="42.41" y="100.48" width="4.18" height="4.03" fill="#21fff7"/><rect x="46.19" y="100.48" width="4.18" height="4.03" fill="#21fff7"/><rect x="49.97" y="100.48" width="4.18" height="4.03" fill="#21fff7"/><rect x="53.75" y="100.48" width="4.18" height="4.03" fill="#1afcff"/><rect x="57.53" y="100.48" width="4.18" height="4.03" fill="#1af2ff"/><rect x="61.31" y="100.48" width="4.18" height="4.03" fill="#1ae8ff"/><rect x="65.09" y="100.48" width="4.18" height="4.03" fill="#1ad4ff"/><rect x="68.88" y="100.48" width="4.18" height="4.03" fill="#1abfff"/><rect x="72.66" y="100.48" width="4.18" height="4.03" fill="#1aabff"/><rect x="76.44" y="100.48" width="4.18" height="4.03" fill="#1a91ff"/><rect x="80.22" y="100.48" width="4.18" height="4.03" fill="#1a78ff"/><rect x="84.00" y="100.48" width="4.18" height="4.03" fill="#1a5eff"/><rect x="87.78" y="100.48" width="4.18" height="4.03" fill="#1a4fff"/><rect x="91.56" y="100.48" width="4.18" height="4.03" fill="#1a40ff"/><rect x="95.34" y="100.48" width="4.18" height="4.03" fill="#1a30ff"/><rect x="99.12" y="100.48" width="4.18" height="4.03" fill="#1a2bff"/><rect x="102.91" y="100.48" width="4.18" height="4.03" fill="#1a26ff"/><rect x="106.69" y="100.48" width="4.18" height="4.03" fill="#1a21ff"/><rect x="110.47" y="100.48" width="4.18" height="4.03" fill="#1a1cff"/><rect x="114.25" y="100.48" width="4.18" height="4.03" fill="#1a1afc"/><rect x="118.03" y="100.48" width="4.18" height="4.03" fill="#1a1af7"/><rect x="121.81" y="100.48" width="4.18" height="4.03" fill="#1a1af2"/><rect x="125.59" y="100.48" width="4.18" height="4.03" fill="#1a1aed"/><rect x="129.38" y="100.48" width="4.18" height="4.03" fill="#1a1ae8"/><rect x="133.16" y="100.48" width="4.18" height="4.03" fill="#1a1ade"/><rect x="136.94" y="100.48" width="4.18" height="4.03" fill="#1a1ad4"/><rect x="140.72" y="100.48" width="4.18" height="4.03" fill="#1a1ac9"/><rect x="144.50" y="100.48" width="4.18" height="4.03" fill="#1a1ac4"/><rect x="148.28" y="100.48" width="4.18" height="4.03" fill="#1a1abf"/><rect x="152.06" y="100.48" width="4.18" height="4.03" fill="#1a1aba"/><rect x="155.84" y="100.48" width="4.18" height="4.03" fill="#1a1aba"/><rect x="159.62" y="100.48" width="4.18" height="4.03" fill="#1a1aba"/><rect x="163.41" y="100.48" width="4.18" height="4.03" fill="#1a1aba"/><rect x="167.19" y="100.48" width="4.18" height="4.03" fill="#1a1aba"/><rect x="170.97" y="100.48" width="4.18" height="4.03" fill="#1a1aba"/><rect x="174.75" y="100.48" width="4.18" height="4.03" fill="#1a1aba"/><rect x="178.53" y="100.48" width="4.18" height="4.03" fill="#1a1aba"/><rect x="182.31" y="100.48" width="4.18" height="4.03" fill="#1a1aba"/><rect x="186.09" y="100.48" width="4.18" height="4.03" fill="#1a1aba"/><rect x="189.88" y="100.48" width="4.18" height="4.03" fill="#1a1aba"/><rect x="193.66" y="100.48" width="4.18" height="4.03" fill="#1a1aba"/><rect x="197.44" y="100.48" width="4.18" height="4.03" fill="#1a1aba"/><rect x="201.22" y="100.48" width="4.18" height="4.03" fill="#1a1aba"/><rect x="23.50" y="104.11" width="4.18" height="4.03" fill="#21fff7"/><rect x="27.28" y="104.11" width="4.18" height="4.03" fill="#21fff7"/><rect x="31.06" y="104.11" width="4.18" height="4.03" fill="#1ffff9"/><rect x="34.84" y="104.11" width="4.18" height="4.03" fill="#1efffb"/><rect x="38.62" y="104.11" width="4.18" height="4.03" fill="#1cfffc"/><rect x="42.41" y="104.11" width="4.18" height="4.03" fill="#1cfffc"/><rect x="46.19" y="104.11" width="4.18" height="4.03" fill="#1cfffc"/><rect x="49.97" y="104.11" width="4.18" height="4.03" fill="#1cfffc"/><rect x="53.75" y="104.11" width="4.18" height="4.03" fill="#1af7ff"/><rect x="57.53" y="104.11" width="4.18" height="4.03" fill="#1aedff"/><rect x="61.31" y="104.11" width="4.18" height="4.03" fill="#1ae3ff"/><rect x="65.09" y="104.11" width="4.18" height="4.03" fill="#1acfff"/><rect x="68.88" y="104.11" width="4.18" height="4.03" fill="#1abaff"/><rect x="72.66" y="104.11" width="4.18" height="4.03" fill="#1aa6ff"/><rect x="76.44" y="104.11" width="4.18" height="4.03" fill="#1a8cff"/><rect x="80.22" y="104.11" width="4.18" height="4.03" fill="#1a73ff"/><rect x="84.00" y="104.11" width="4.18" height="4.03" fill="#1a59ff"/><rect x="87.78" y="104.11" width="4.18" height="4.03" fill="#1a4cff"/><rect x="91.56" y="104.11" width="4.18" height="4.03" fill="#1a3eff"/><rect x="95.34" y="104.11" width="4.18" height="4.03" fill="#1a30ff"/><rect x="99.12" y="104.11" width="4.18" height="4.03" fill="#1a2bff"/><rect x="102.91" y="104.11" width="4.18" height="4.03" fill="#1a26ff"/><rect x="106.69" y="104.11" width="4.18" height="4.03" fill="#1a21ff"/><rect x="110.47" y="104.11" width="4.18" height="4.03" fill="#1a1aff"/><rect x="114.25" y="104.11" width="4.18" height="4.03" fill="#1a1af9"/><rect x="118.03" y="104.11" width="4.18" height="4.03" fill="#1a1af2"/><rect x="121.81" y="104.11" width="4.18" height="4.03" fill="#1a1aed"/><rect x="125.59" y="104.11" width="4.18" height="4.03" fill="#1a1ae8"/><rect x="129.38" y="104.11" width="4.18" height="4.03" fill="#1a1ae3"/><rect x="133.16" y="104.11" width="4.18" height="4.03" fill="#1a1ad9"/><rect x="136.94" y="104.11" width="4.18" height="4.03" fill="#1a1acf"/><rect x="140.72" y="104.11" width="4.18" height="4.03" fill="#1a1ac4"/><rect x="144.50" y="104.11" width="4.18" height="4.03" fill="#1a1abe"/><rect x="148.28" y="104.11" width="4.18" height="4.03" fill="#1a1ab7"/><rect x="152.06" y="104.11" width="4.18" height="4.03" fill="#1a1ab0"/><rect x="155.84" y="104.11" width="4.18" height="4.03" fill="#1a1ab0"/><rect x="159.62" y="104.11" width="4.18" height="4.03" fill="#1a1ab0"/><rect x="163.41" y="104.11" width="4.18" height="4.03" fill="#1a1ab0"/><rect x="167.19" y="104.11" width="4.18" height="4.03" fill="#1a1ab0"/><rect x="170.97" y="104.11" width="4.18" height="4.03" fill="#1a1ab0"/><rect x="174.75" y="104.11" width="4.18" height="4.03" fill="#1a1ab0"/><rect x="178.53" y="104.11" width="4.18" height="4.03" fill="#1a1ab0"/><rect x="182.31" y="104.11" width="4.18" height="4.03" fill="#1a1ab0"/><rect x="186.09" y="104.11" width="4.18" height="4.03" fill="#1a1ab0"/><rect x="189.88" y="104.11" width="4.18" height="4.03" fill="#1a1ab0"/><rect x="193.66" y="104.11" width="4.18" height="4.03" fill="#1a1ab0"/><rect x="197.44" y="104.11" width="4.18" height="4.03" fill="#1a1ab0"/><rect x="201.22" y="104.11" width="4.18" height="4.03" fill="#1a1ab0"/><rect x="23.50" y="107.74" width="4.18" height="4.03" fill="#21fff7"/><rect x="27.28" y="107.74" width="4.18" height="4.03" fill="#21fff7"/><rect x="31.06" y="107.74" width="4.18" height="4.03" fill="#1efffb"/><rect x="34.84" y="107.74" width="4.18" height="4.03" fill="#1afffe"/><rect x="38.62" y="107.74" width="4.18" height="4.03" fill="#1afcff"/><rect x="42.41" y="107.74" width="4.18" height="4.03" fill="#1afcff"/><rect x="46.19" y="107.74" width="4.18" height="4.03" fill="#1afcff"/><rect x="49.97" y="107.74" width="4.18" height="4.03" fill="#1afcff"/><rect x="53.75" y="107.74" width="4.18" height="4.03" fill="#1af2ff"/><rect x="57.53" y="107.74" width="4.18" height="4.03" fill="#1ae8ff"/><rect x="61.31" y="107.74" width="4.18" height="4.03" fill="#1adeff"/><rect x="65.09" y="107.74" width="4.18" height="4.03" fill="#1ac9ff"/><rect x="68.88" y="107.74" width="4.18" height="4.03" fill="#1ab5ff"/><rect x="72.66" y="107.74" width="4.18" height="4.03" fill="#1aa1ff"/><rect x="76.44" y="107.74" width="4.18" height="4.03" fill="#1a87ff"/><rect x="80.22" y="107.74" width="4.18" height="4.03" fill="#1a6eff"/><rect x="84.00" y="107.74" width="4.18" height="4.03" fill="#1a54ff"/><rect x="87.78" y="107.74" width="4.18" height="4.03" fill="#1a48ff"/><rect x="91.56" y="107.74" width="4.18" height="4.03" fill="#1a3cff"/><rect x="95.34" y="107.74" width="4.18" height="4.03" fill="#1a30ff"/><rect x="99.12" y="107.74" width="4.18" height="4.03" fill="#1a2bff"/><rect x="102.91" y="107.74" width="4.18" height="4.03" fill="#1a26ff"/><rect x="106.69" y="107.74" width="4.18" height="4.03" fill="#1a21ff"/><rect x="110.47" y="107.74" width="4.18" height="4.03" fill="#1a1afe"/><rect x="114.25" y="107.74" width="4.18" height="4.03" fill="#1a1af6"/><rect x="118.03" y="107.74" width="4.18" height="4.03" fill="#1a1aed"/><rect x="121.81" y="107.74" width="4.18" height="4.03" fill="#1a1ae8"/><rect x="125.59" y="107.74" width="4.18" height="4.03" fill="#1a1ae3"/><rect x="129.38" y="107.74" width="4.18" height="4.03" fill="#1a1ade"/><rect x="133.16" y="107.74" width="4.18" height="4.03" fill="#1a1ad4"/><rect x="136.94" y="107.74" width="4.18" height="4.03" fill="#1a1ac9"/><rect x="140.72" y="107.74" width="4.18" height="4.03" fill="#1a1abf"/><rect x="144.50" y="107.74" width="4.18" height="4.03" fill="#1a1ab7"/><rect x="148.28" y="107.74" width="4.18" height="4.03" fill="#1a1aae"/><rect x="152.06" y="107.74" width="4.18" height="4.03" fill="#1a1aa6"/><rect x="155.84" y="107.74" width="4.18" height="4.03" fill="#1a1aa6"/><rect x="159.62" y="107.74" width="4.18" height="4.03" fill="#1a1aa6"/><rect x="163.41" y="107.74" width="4.18" height="4.03" fill="#1a1aa6"/><rect x="167.19" y="107.74" width="4.18" height="4.03" fill="#1a1aa6"/><rect x="170.97" y="107.74" width="4.18" height="4.03" fill="#1a1aa6"/><rect x="174.75" y="107.74" width="4.18" height="4.03" fill="#1a1aa6"/><rect x="178.53" y="107.74" width="4.18" height="4.03" fill="#1a1aa6"/><rect x="182.31" y="107.74" width="4.18" height="4.03" fill="#1a1aa6"/><rect x="186.09" y="107.74" width="4.18" height="4.03" fill="#1a1aa6"/><rect x="189.88" y="107.74" width="4.18" height="4.03" fill="#1a1aa6"/><rect x="193.66" y="107.74" width="4.18" height="4.03" fill="#1a1aa6"/><rect x="197.44" y="107.74" width="4.18" height="4.03" fill="#1a1aa6"/><rect x="201.22" y="107.74" width="4.18" height="4.03" fill="#1a1aa6"/><rect x="23.50" y="111.36" width="4.18" height="4.03" fill="#21fff7"/><rect x="27.28" y="111.36" width="4.18" height="4.03" fill="#21fff7"/><rect x="31.06" y="111.36" width="4.18" height="4.03" fill="#1cfffc"/><rect x="34.84" y="111.36" width="4.18" height="4.03" fill="#1afcff"/><rect x="38.62" y="111.36" width="4.18" height="4.03" fill="#1af7ff"/><rect x="42.41" y="111.36" width="4.18" height="4.03" fill="#1af7ff"/><rect x="46.19" y="111.36" width="4.18" height="4.03" fill="#1af7ff"/><rect x="49.97" y="111.36" width="4.18" height="4.03" fill="#1af7ff"/><rect x="53.75" y="111.36" width="4.18" height="4.03" fill="#1aedff"/><rect x="57.53" y="111.36" width="4.18" height="4.03" fill="#1ae3ff"/><rect x="61.31" y="111.36" width="4.18" height="4.03" fill="#1ad9ff"/><rect x="65.09" y="111.36" width="4.18" height="4.03" fill="#1ac4ff"/><rect x="68.88" y="111.36" width="4.18" height="4.03" fill="#1ab0ff"/><rect x="72.66" y="111.36" width="4.18" height="4.03" fill="#1a9cff"/><rect x="76.44" y="111.36" width="4.18" height="4.03" fill="#1a82ff"/><rect x="80.22" y="111.36" width="4.18" height="4.03" fill="#1a69ff"/><rect x="84.00" y="111.36" width="4.18" height="4.03" fill="#1a4fff"/><rect x="87.78" y="111.36" width="4.18" height="4.03" fill="#1a45ff"/><rect x="91.56" y="111.36" width="4.18" height="4.03" fill="#1a3bff"/><rect x="95.34" y="111.36" width="4.18" height="4.03" fill="#1a30ff"/><rect x="99.12" y="111.36" width="4.18" height="4.03" fill="#1a2bff"/><rect x="102.91" y="111.36" width="4.18" height="4.03" fill="#1a26ff"/><rect x="106.69" y="111.36" width="4.18" height="4.03" fill="#1a21ff"/><rect x="110.47" y="111.36" width="4.18" height="4.03" fill="#1a1afc"/><rect x="114.25" y="111.36" width="4.18" height="4.03" fill="#1a1af2"/><rect x="118.03" y="111.36" width="4.18" height="4.03" fill="#1a1ae8"/><rect x="121.81" y="111.36" width="4.18" height="4.03" fill="#1a1ae3"/><rect x="125.59" y="111.36" width="4.18" height="4.03" fill="#1a1ade"/><rect x="129.38" y="111.36" width="4.18" height="4.03" fill="#1a1ad9"/><rect x="133.16" y="111.36" width="4.18" height="4.03" fill="#1a1acf"/><rect x="136.94" y="111.36" width="4.18" height="4.03" fill="#1a1ac4"/><rect x="140.72" y="111.36" width="4.18" height="4.03" fill="#1a1aba"/><rect x="144.50" y="111.36" width="4.18" height="4.03" fill="#1a1ab0"/><rect x="148.28" y="111.36" width="4.18" height="4.03" fill="#1a1aa6"/><rect x="152.06" y="111.36" width="4.18" height="4.03" fill="#1a1a9c"/><rect x="155.84" y="111.36" width="4.18" height="4.03" fill="#1a1a9c"/><rect x="159.62" y="111.36" width="4.18" height="4.03" fill="#1a1a9c"/><rect x="163.41" y="111.36" width="4.18" height="4.03" fill="#1a1a9c"/><rect x="167.19" y="111.36" width="4.18" height="4.03" fill="#1a1a9c"/><rect x="170.97" y="111.36" width="4.18" height="4.03" fill="#1a1a9c"/><rect x="174.75" y="111.36" width="4.18" height="4.03" fill="#1a1a9c"/><rect x="178.53" y="111.36" width="4.18" height="4.03" fill="#1a1a9c"/><rect x="182.31" y="111.36" width="4.18" height="4.03" fill="#1a1a9c"/><rect x="186.09" y="111.36" width="4.18" height="4.03" fill="#1a1a9c"/><rect x="189.88" y="111.36" width="4.18" height="4.03" fill="#1a1a9c"/><rect x="193.66" y="111.36" width="4.18" height="4.03" fill="#1a1a9c"/><rect x="197.44" y="111.36" width="4.18" height="4.03" fill="#1a1a9c"/><rect x="201.22" y="111.36" width="4.18" height="4.03" fill="#1a1a9c"/><rect x="23.50" y="114.99" width="4.18" height="4.03" fill="#59ffbf"/><rect x="27.28" y="114.99" width="4.18" height="4.03" fill="#59ffbf"/><rect x="31.06" y="114.99" width="4.18" height="4.03" fill="#48ffd0"/><rect x="34.84" y="114.99" width="4.18" height="4.03" fill="#37ffe1"/><rect x="38.62" y="114.99" width="4.18" height="4.03" fill="#26fff2"/><rect x="42.41" y="114.99" width="4.18" height="4.03" fill="#25fff4"/><rect x="46.19" y="114.99" width="4.18" height="4.03" fill="#23fff6"/><rect x="49.97" y="114.99" width="4.18" height="4.03" fill="#21fff7"/><rect x="53.75" y="114.99" width="4.18" height="4.03" fill="#1afbff"/><rect x="57.53" y="114.99" width="4.18" height="4.03" fill="#1aefff"/><rect x="61.31" y="114.99" width="4.18" height="4.03" fill="#1ae3ff"/><rect x="65.09" y="114.99" width="4.18" height="4.03" fill="#1acbff"/><rect x="68.88" y="114.99" width="4.18" height="4.03" fill="#1ab3ff"/><rect x="72.66" y="114.99" width="4.18" height="4.03" fill="#1a9cff"/><rect x="76.44" y="114.99" width="4.18" height="4.03" fill="#1a82ff"/><rect x="80.22" y="114.99" width="4.18" height="4.03" fill="#1a69ff"/><rect x="84.00" y="114.99" width="4.18" height="4.03" fill="#1a4fff"/><rect x="87.78" y="114.99" width="4.18" height="4.03" fill="#1a45ff"/><rect x="91.56" y="114.99" width="4.18" height="4.03" fill="#1a3bff"/><rect x="95.34" y="114.99" width="4.18" height="4.03" fill="#1a30ff"/><rect x="99.12" y="114.99" width="4.18" height="4.03" fill="#1a2aff"/><rect x="102.91" y="114.99" width="4.18" height="4.03" fill="#1a23ff"/><rect x="106.69" y="114.99" width="4.18" height="4.03" fill="#1a1cff"/><rect x="110.47" y="114.99" width="4.18" height="4.03" fill="#1a1af7"/><rect x="114.25" y="114.99" width="4.18" height="4.03" fill="#1a1aed"/><rect x="118.03" y="114.99" width="4.18" height="4.03" fill="#1a1ae3"/><rect x="121.81" y="114.99" width="4.18" height="4.03" fill="#1a1ade"/><rect x="125.59" y="114.99" width="4.18" height="4.03" fill="#1a1ad9"/><rect x="129.38" y="114.99" width="4.18" height="4.03" fill="#1a1ad4"/><rect x="133.16" y="114.99" width="4.18" height="4.03" fill="#1a1ac9"/><rect x="136.94" y="114.99" width="4.18" height="4.03" fill="#1a1abf"/><rect x="140.72" y="114.99" width="4.18" height="4.03" fill="#1a1ab5"/><rect x="144.50" y="114.99" width="4.18" height="4.03" fill="#1a1aab"/><rect x="148.28" y="114.99" width="4.18" height="4.03" fill="#1a1aa1"/><rect x="152.06" y="114.99" width="4.18" height="4.03" fill="#1a1a96"/><rect x="155.84" y="114.99" width="4.18" height="4.03" fill="#1a1a96"/><rect x="159.62" y="114.99" width="4.18" height="4.03" fill="#1a1a96"/><rect x="163.41" y="114.99" width="4.18" height="4.03" fill="#1a1a96"/><rect x="167.19" y="114.99" width="4.18" height="4.03" fill="#1a1a96"/><rect x="170.97" y="114.99" width="4.18" height="4.03" fill="#1a1a96"/><rect x="174.75" y="114.99" width="4.18" height="4.03" fill="#1a1a96"/><rect x="178.53" y="114.99" width="4.18" height="4.03" fill="#1a1a96"/><rect x="182.31" y="114.99" width="4.18" height="4.03" fill="#1a1a96"/><rect x="186.09" y="114.99" width="4.18" height="4.03" fill="#1a1a96"/><rect x="189.88" y="114.99" width="4.18" height="4.03" fill="#1a1a96"/><rect x="193.66" y="114.99" width="4.18" height="4.03" fill="#1a1a96"/><rect x="197.44" y="114.99" width="4.18" height="4.03" fill="#1a1a96"/><rect x="201.22" y="114.99" width="4.18" height="4.03" fill="#1a1a96"/><rect x="23.50" y="118.62" width="4.18" height="4.03" fill="#91ff87"/><rect x="27.28" y="118.62" width="4.18" height="4.03" fill="#91ff87"/><rect x="31.06" y="118.62" width="4.18" height="4.03" fill="#74ffa4"/><rect x="34.84" y="118.62" width="4.18" height="4.03" fill="#58ffc1"/><rect x="38.62" y="118.62" width="4.18" height="4.03" fill="#3bffde"/><rect x="42.41" y="118.62" width="4.18" height="4.03" fill="#37ffe1"/><rect x="46.19" y="118.62" width="4.18" height="4.03" fill="#34ffe5"/><rect x="49.97" y="118.62" width="4.18" height="4.03" fill="#30ffe8"/><rect x="53.75" y="118.62" width="4.18" height="4.03" fill="#23fff6"/><rect x="57.53" y="118.62" width="4.18" height="4.03" fill="#1afbff"/><rect x="61.31" y="118.62" width="4.18" height="4.03" fill="#1aedff"/><rect x="65.09" y="118.62" width="4.18" height="4.03" fill="#1ad2ff"/><rect x="68.88" y="118.62" width="4.18" height="4.03" fill="#1ab7ff"/><rect x="72.66" y="118.62" width="4.18" height="4.03" fill="#1a9cff"/><rect x="76.44" y="118.62" width="4.18" height="4.03" fill="#1a82ff"/><rect x="80.22" y="118.62" width="4.18" height="4.03" fill="#1a69ff"/><rect x="84.00" y="118.62" width="4.18" height="4.03" fill="#1a4fff"/><rect x="87.78" y="118.62" width="4.18" height="4.03" fill="#1a45ff"/><rect x="91.56" y="118.62" width="4.18" height="4.03" fill="#1a3bff"/><rect x="95.34" y="118.62" width="4.18" height="4.03" fill="#1a30ff"/><rect x="99.12" y="118.62" width="4.18" height="4.03" fill="#1a28ff"/><rect x="102.91" y="118.62" width="4.18" height="4.03" fill="#1a1fff"/><rect x="106.69" y="118.62" width="4.18" height="4.03" fill="#1a1afc"/><rect x="110.47" y="118.62" width="4.18" height="4.03" fill="#1a1af2"/><rect x="114.25" y="118.62" width="4.18" height="4.03" fill="#1a1ae8"/><rect x="118.03" y="118.62" width="4.18" height="4.03" fill="#1a1ade"/><rect x="121.81" y="118.62" width="4.18" height="4.03" fill="#1a1ad9"/><rect x="125.59" y="118.62" width="4.18" height="4.03" fill="#1a1ad4"/><rect x="129.38" y="118.62" width="4.18" height="4.03" fill="#1a1acf"/><rect x="133.16" y="118.62" width="4.18" height="4.03" fill="#1a1ac4"/><rect x="136.94" y="118.62" width="4.18" height="4.03" fill="#1a1aba"/><rect x="140.72" y="118.62" width="4.18" height="4.03" fill="#1a1ab0"/><rect x="144.50" y="118.62" width="4.18" height="4.03" fill="#1a1aa6"/><rect x="148.28" y="118.62" width="4.18" height="4.03" fill="#1a1a9c"/><rect x="152.06" y="118.62" width="4.18" height="4.03" fill="#1a1a91"/><rect x="155.84" y="118.62" width="4.18" height="4.03" fill="#1a1a91"/><rect x="159.62" y="118.62" width="4.18" height="4.03" fill="#1a1a91"/><rect x="163.41" y="118.62" width="4.18" height="4.03" fill="#1a1a91"/><rect x="167.19" y="118.62" width="4.18" height="4.03" fill="#1a1a91"/><rect x="170.97" y="118.62" width="4.18" height="4.03" fill="#1a1a91"/><rect x="174.75" y="118.62" width="4.18" height="4.03" fill="#1a1a91"/><rect x="178.53" y="118.62" width="4.18" height="4.03" fill="#1a1a91"/><rect x="182.31" y="118.62" width="4.18" height="4.03" fill="#1a1a91"/><rect x="186.09" y="118.62" width="4.18" height="4.03" fill="#1a1a91"/><rect x="189.88" y="118.62" width="4.18" height="4.03" fill="#1a1a91"/><rect x="193.66" y="118.62" width="4.18" height="4.03" fill="#1a1a91"/><rect x="197.44" y="118.62" width="4.18" height="4.03" fill="#1a1a91"/><rect x="201.22" y="118.62" width="4.18" height="4.03" fill="#1a1a91"/><rect x="23.50" y="122.25" width="4.18" height="4.03" fill="#c9ff4f"/><rect x="27.28" y="122.25" width="4.18" height="4.03" fill="#c9ff4f"/><rect x="31.06" y="122.25" width="4.18" height="4.03" fill="#a1ff78"/><rect x="34.84" y="122.25" width="4.18" height="4.03" fill="#78ffa1"/><rect x="38.62" y="122.25" width="4.18" height="4.03" fill="#4fffc9"/><rect x="42.41" y="122.25" width="4.18" height="4.03" fill="#4affcf"/><rect x="46.19" y="122.25" width="4.18" height="4.03" fill="#45ffd4"/><rect x="49.97" y="122.25" width="4.18" height="4.03" fill="#40ffd9"/><rect x="53.75" y="122.25" width="4.18" height="4.03" fill="#30ffe8"/><rect x="57.53" y="122.25" width="4.18" height="4.03" fill="#21fff7"/><rect x="61.31" y="122.25" width="4.18" height="4.03" fill="#1af7ff"/><rect x="65.09" y="122.25" width="4.18" height="4.03" fill="#1ad9ff"/><rect x="68.88" y="122.25" width="4.18" height="4.03" fill="#1abaff"/><rect x="72.66" y="122.25" width="4.18" height="4.03" fill="#1a9cff"/><rect x="76.44" y="122.25" width="4.18" height="4.03" fill="#1a82ff"/><rect x="80.22" y="122.25" width="4.18" height="4.03" fill="#1a69ff"/><rect x="84.00" y="122.25" width="4.18" height="4.03" fill="#1a4fff"/><rect x="87.78" y="122.25" width="4.18" height="4.03" fill="#1a45ff"/><rect x="91.56" y="122.25" width="4.18" height="4.03" fill="#1a3bff"/><rect x="95.34" y="122.25" width="4.18" height="4.03" fill="#1a30ff"/><rect x="99.12" y="122.25" width="4.18" height="4.03" fill="#1a26ff"/><rect x="102.91" y="122.25" width="4.18" height="4.03" fill="#1a1cff"/><rect x="106.69" y="122.25" width="4.18" height="4.03" fill="#1a1af7"/><rect x="110.47" y="122.25" width="4.18" height="4.03" fill="#1a1aed"/><rect x="114.25" y="122.25" width="4.18" height="4.03" fill="#1a1ae3"/><rect x="118.03" y="122.25" width="4.18" height="4.03" fill="#1a1ad9"/><rect x="121.81" y="122.25" width="4.18" height="4.03" fill="#1a1ad4"/><rect x="125.59" y="122.25" width="4.18" height="4.03" fill="#1a1acf"/><rect x="129.38" y="122.25" width="4.18" height="4.03" fill="#1a1ac9"/><rect x="133.16" y="122.25" width="4.18" height="4.03" fill="#1a1abf"/><rect x="136.94" y="122.25" width="4.18" height="4.03" fill="#1a1ab5"/><rect x="140.72" y="122.25" width="4.18" height="4.03" fill="#1a1aab"/><rect x="144.50" y="122.25" width="4.18" height="4.03" fill="#1a1aa1"/><rect x="148.28" y="122.25" width="4.18" height="4.03" fill="#1a1a96"/><rect x="152.06" y="122.25" width="4.18" height="4.03" fill="#1a1a8c"/><rect x="155.84" y="122.25" width="4.18" height="4.03" fill="#1a1a8c"/><rect x="159.62" y="122.25" width="4.18" height="4.03" fill="#1a1a8c"/><rect x="163.41" y="122.25" width="4.18" height="4.03" fill="#1a1a8c"/><rect x="167.19" y="122.25" width="4.18" height="4.03" fill="#1a1a8c"/><rect x="170.97" y="122.25" width="4.18" height="4.03" fill="#1a1a8c"/><rect x="174.75" y="122.25" width="4.18" height="4.03" fill="#1a1a8c"/><rect x="178.53" y="122.25" width="4.18" height="4.03" fill="#1a1a8c"/><rect x="182.31" y="122.25" width="4.18" height="4.03" fill="#1a1a8c"/><rect x="186.09" y="122.25" width="4.18" height="4.03" fill="#1a1a8c"/><rect x="189.88" y="122.25" width="4.18" height="4.03" fill="#1a1a8c"/><rect x="193.66" y="122.25" width="4.18" height="4.03" fill="#1a1a8c"/><rect x="197.44" y="122.25" width="4.18" height="4.03" fill="#1a1a8c"/><rect x="201.22" y="122.25" width="4.18" height="4.03" fill="#1a1a8c"/><rect x="23.50" y="125.87" width="4.18" height="4.03" fill="#c9ff4f"/><rect x="27.28" y="125.87" width="4.18" height="4.03" fill="#c9ff4f"/><rect x="31.06" y="125.87" width="4.18" height="4.03" fill="#a1ff78"/><rect x="34.84" y="125.87" width="4.18" height="4.03" fill="#78ffa1"/><rect x="38.62" y="125.87" width="4.18" height="4.03" fill="#4fffc9"/><rect x="42.41" y="125.87" width="4.18" height="4.03" fill="#4affcf"/><rect x="46.19" y="125.87" width="4.18" height="4.03" fill="#45ffd4"/><rect x="49.97" y="125.87" width="4.18" height="4.03" fill="#40ffd9"/><rect x="53.75" y="125.87" width="4.18" height="4.03" fill="#30ffe8"/><rect x="57.53" y="125.87" width="4.18" height="4.03" fill="#21fff7"/><rect x="61.31" y="125.87" width="4.18" height="4.03" fill="#1af7ff"/><rect x="65.09" y="125.87" width="4.18" height="4.03" fill="#1ad9ff"/><rect x="68.88" y="125.87" width="4.18" height="4.03" fill="#1abaff"/><rect x="72.66" y="125.87" width="4.18" height="4.03" fill="#1a9cff"/><rect x="76.44" y="125.87" width="4.18" height="4.03" fill="#1a82ff"/><rect x="80.22" y="125.87" width="4.18" height="4.03" fill="#1a69ff"/><rect x="84.00" y="125.87" width="4.18" height="4.03" fill="#1a4fff"/><rect x="87.78" y="125.87" width="4.18" height="4.03" fill="#1a45ff"/><rect x="91.56" y="125.87" width="4.18" height="4.03" fill="#1a3bff"/><rect x="95.34" y="125.87" width="4.18" height="4.03" fill="#1a30ff"/><rect x="99.12" y="125.87" width="4.18" height="4.03" fill="#1a26ff"/><rect x="102.91" y="125.87" width="4.18" height="4.03" fill="#1a1cff"/><rect x="106.69" y="125.87" width="4.18" height="4.03" fill="#1a1af7"/><rect x="110.47" y="125.87" width="4.18" height="4.03" fill="#1a1aed"/><rect x="114.25" y="125.87" width="4.18" height="4.03" fill="#1a1ae3"/><rect x="118.03" y="125.87" width="4.18" height="4.03" fill="#1a1ad9"/><rect x="121.81" y="125.87" width="4.18" height="4.03" fill="#1a1ad4"/><rect x="125.59" y="125.87" width="4.18" height="4.03" fill="#1a1acf"/><rect x="129.38" y="125.87" width="4.18" height="4.03" fill="#1a1ac9"/><rect x="133.16" y="125.87" width="4.18" height="4.03" fill="#1a1abf"/><rect x="136.94" y="125.87" width="4.18" height="4.03" fill="#1a1ab5"/><rect x="140.72" y="125.87" width="4.18" height="4.03" fill="#1a1aab"/><rect x="144.50" y="125.87" width="4.18" height="4.03" fill="#1a1aa1"/><rect x="148.28" y="125.87" width="4.18" height="4.03" fill="#1a1a96"/><rect x="152.06" y="125.87" width="4.18" height="4.03" fill="#1a1a8c"/><rect x="155.84" y="125.87" width="4.18" height="4.03" fill="#1a1a8c"/><rect x="159.62" y="125.87" width="4.18" height="4.03" fill="#1a1a8c"/><rect x="163.41" y="125.87" width="4.18" height="4.03" fill="#1a1a8c"/><rect x="167.19" y="125.87" width="4.18" height="4.03" fill="#1a1a8c"/><rect x="170.97" y="125.87" width="4.18" height="4.03" fill="#1a1a8c"/><rect x="174.75" y="125.87" width="4.18" height="4.03" fill="#1a1a8c"/><rect x="178.53" y="125.87" width="4.18" height="4.03" fill="#1a1a8c"/><rect x="182.31" y="125.87" width="4.18" height="4.03" fill="#1a1a8c"/><rect x="186.09" y="125.87" width="4.18" height="4.03" fill="#1a1a8c"/><rect x="189.88" y="125.87" width="4.18" height="4.03" fill="#1a1a8c"/><rect x="193.66" y="125.87" width="4.18" height="4.03" fill="#1a1a8c"/><rect x="197.44" y="125.87" width="4.18" height="4.03" fill="#1a1a8c"/><rect x="201.22" y="125.87" width="4.18" height="4.03" fill="#1a1a8c"/><linearGradient id="redband" x1="0" y1="0" x2="0" y2="1"><stop offset="0" stop-color="#6a2806"/><stop offset="0.5" stop-color="#9a2a08"/><stop offset="1" stop-color="#e04a10"/></linearGradient><rect x="29" y="11" width="28" height="11" rx="3" fill="url(#redband)"/><rect x="22" y="11" width="8" height="11" fill="#8a5a10"/><ellipse cx="161" cy="20" rx="11" ry="3.3" fill="#70f0b8" opacity="0.95"/><rect x="120" y="10" width="80" height="5.5" fill="#5070f0" opacity="0.5"/></g><polygon points="198.0,12.8 199.4,16.6 198.0,22.0 194.5,26.5 191.5,30.5 190.3,38.0 190.0,46.0 188.5,51.0 186.0,55.5 182.5,60.5 178.0,64.5 174.5,66.0 176.5,68.0 176.0,71.0 171.0,72.0 170.3,75.0 170.8,80.0 170.8,84.0 167.0,87.0 160.0,88.0 148.0,88.2 146.0,90.7 144.0,93.0 144.2,97.0 144.6,103.0 143.0,106.7 144.6,111.6 147.0,119.0 150.7,125.0 151.0,127.0 203.0,127.0 203.0,12.0" fill="#fff"/><polyline points="114,57 113,66 111.5,76 110,86 108.5,96" fill="none" stroke="#2a4aa0" stroke-width="0.6" opacity="0.55"/></g><g clip-path="url(#clipD)"><g filter="url(#bl)"><rect x="23.20" y="147.30" width="4.27" height="4.03" fill="#ffb21a"/><rect x="27.07" y="147.30" width="4.27" height="4.03" fill="#ffb21a"/><rect x="30.93" y="147.30" width="4.27" height="4.03" fill="#ffcc1a"/><rect x="34.80" y="147.30" width="4.27" height="4.03" fill="#ffe51a"/><rect x="38.67" y="147.30" width="4.27" height="4.03" fill="#ffff1a"/><rect x="42.53" y="147.30" width="4.27" height="4.03" fill="#fcff1c"/><rect x="46.40" y="147.30" width="4.27" height="4.03" fill="#faff1f"/><rect x="50.27" y="147.30" width="4.27" height="4.03" fill="#f7ff21"/><rect x="54.13" y="147.30" width="4.27" height="4.03" fill="#f7ff21"/><rect x="58.00" y="147.30" width="4.27" height="4.03" fill="#f7ff21"/><rect x="61.87" y="147.30" width="4.27" height="4.03" fill="#f7ff21"/><rect x="65.73" y="147.30" width="4.27" height="4.03" fill="#faff1f"/><rect x="69.60" y="147.30" width="4.27" height="4.03" fill="#fcff1c"/><rect x="73.47" y="147.30" width="4.27" height="4.03" fill="#ffff1a"/><rect x="77.33" y="147.30" width="4.27" height="4.03" fill="#f7ff21"/><rect x="81.20" y="147.30" width="4.27" height="4.03" fill="#f0ff29"/><rect x="85.07" y="147.30" width="4.27" height="4.03" fill="#e8ff30"/><rect x="88.93" y="147.30" width="4.27" height="4.03" fill="#dbff3d"/><rect x="92.80" y="147.30" width="4.27" height="4.03" fill="#cfff4a"/><rect x="96.67" y="147.30" width="4.27" height="4.03" fill="#c2ff57"/><rect x="100.53" y="147.30" width="4.27" height="4.03" fill="#b0ff69"/><rect x="104.40" y="147.30" width="4.27" height="4.03" fill="#9eff7a"/><rect x="108.27" y="147.30" width="4.27" height="4.03" fill="#8cff8c"/><rect x="112.13" y="147.30" width="4.27" height="4.03" fill="#63ffb5"/><rect x="116.00" y="147.30" width="4.27" height="4.03" fill="#3bffde"/><rect x="119.87" y="147.30" width="4.27" height="4.03" fill="#1af7ff"/><rect x="123.73" y="147.30" width="4.27" height="4.03" fill="#1ae3ff"/><rect x="127.60" y="147.30" width="4.27" height="4.03" fill="#1acfff"/><rect x="131.47" y="147.30" width="4.27" height="4.03" fill="#1abaff"/><rect x="135.33" y="147.30" width="4.27" height="4.03" fill="#1abdff"/><rect x="139.20" y="147.30" width="4.27" height="4.03" fill="#1abfff"/><rect x="143.07" y="147.30" width="4.27" height="4.03" fill="#1ac2ff"/><rect x="146.93" y="147.30" width="4.27" height="4.03" fill="#1ac2ff"/><rect x="150.80" y="147.30" width="4.27" height="4.03" fill="#1ac2ff"/><rect x="154.67" y="147.30" width="4.27" height="4.03" fill="#1ac2ff"/><rect x="158.53" y="147.30" width="4.27" height="4.03" fill="#1ac2ff"/><rect x="162.40" y="147.30" width="4.27" height="4.03" fill="#1ac2ff"/><rect x="166.27" y="147.30" width="4.27" height="4.03" fill="#1ac2ff"/><rect x="170.13" y="147.30" width="4.27" height="4.03" fill="#1ac2ff"/><rect x="174.00" y="147.30" width="4.27" height="4.03" fill="#1ac2ff"/><rect x="177.87" y="147.30" width="4.27" height="4.03" fill="#1ac2ff"/><rect x="181.73" y="147.30" width="4.27" height="4.03" fill="#1ac2ff"/><rect x="185.60" y="147.30" width="4.27" height="4.03" fill="#1ac2ff"/><rect x="189.47" y="147.30" width="4.27" height="4.03" fill="#1ac2ff"/><rect x="193.33" y="147.30" width="4.27" height="4.03" fill="#1ac2ff"/><rect x="197.20" y="147.30" width="4.27" height="4.03" fill="#1ac2ff"/><rect x="201.07" y="147.30" width="4.27" height="4.03" fill="#1ac2ff"/><rect x="204.93" y="147.30" width="4.27" height="4.03" fill="#1ac2ff"/><rect x="23.20" y="150.93" width="4.27" height="4.03" fill="#ffb21a"/><rect x="27.07" y="150.93" width="4.27" height="4.03" fill="#ffb21a"/><rect x="30.93" y="150.93" width="4.27" height="4.03" fill="#ffcc1a"/><rect x="34.80" y="150.93" width="4.27" height="4.03" fill="#ffe51a"/><rect x="38.67" y="150.93" width="4.27" height="4.03" fill="#ffff1a"/><rect x="42.53" y="150.93" width="4.27" height="4.03" fill="#fcff1c"/><rect x="46.40" y="150.93" width="4.27" height="4.03" fill="#faff1f"/><rect x="50.27" y="150.93" width="4.27" height="4.03" fill="#f7ff21"/><rect x="54.13" y="150.93" width="4.27" height="4.03" fill="#f7ff21"/><rect x="58.00" y="150.93" width="4.27" height="4.03" fill="#f7ff21"/><rect x="61.87" y="150.93" width="4.27" height="4.03" fill="#f7ff21"/><rect x="65.73" y="150.93" width="4.27" height="4.03" fill="#faff1f"/><rect x="69.60" y="150.93" width="4.27" height="4.03" fill="#fcff1c"/><rect x="73.47" y="150.93" width="4.27" height="4.03" fill="#ffff1a"/><rect x="77.33" y="150.93" width="4.27" height="4.03" fill="#f7ff21"/><rect x="81.20" y="150.93" width="4.27" height="4.03" fill="#f0ff29"/><rect x="85.07" y="150.93" width="4.27" height="4.03" fill="#e8ff30"/><rect x="88.93" y="150.93" width="4.27" height="4.03" fill="#dbff3d"/><rect x="92.80" y="150.93" width="4.27" height="4.03" fill="#cfff4a"/><rect x="96.67" y="150.93" width="4.27" height="4.03" fill="#c2ff57"/><rect x="100.53" y="150.93" width="4.27" height="4.03" fill="#b0ff69"/><rect x="104.40" y="150.93" width="4.27" height="4.03" fill="#9eff7a"/><rect x="108.27" y="150.93" width="4.27" height="4.03" fill="#8cff8c"/><rect x="112.13" y="150.93" width="4.27" height="4.03" fill="#63ffb5"/><rect x="116.00" y="150.93" width="4.27" height="4.03" fill="#3bffde"/><rect x="119.87" y="150.93" width="4.27" height="4.03" fill="#1af7ff"/><rect x="123.73" y="150.93" width="4.27" height="4.03" fill="#1ae3ff"/><rect x="127.60" y="150.93" width="4.27" height="4.03" fill="#1acfff"/><rect x="131.47" y="150.93" width="4.27" height="4.03" fill="#1abaff"/><rect x="135.33" y="150.93" width="4.27" height="4.03" fill="#1abdff"/><rect x="139.20" y="150.93" width="4.27" height="4.03" fill="#1abfff"/><rect x="143.07" y="150.93" width="4.27" height="4.03" fill="#1ac2ff"/><rect x="146.93" y="150.93" width="4.27" height="4.03" fill="#1ac2ff"/><rect x="150.80" y="150.93" width="4.27" height="4.03" fill="#1ac2ff"/><rect x="154.67" y="150.93" width="4.27" height="4.03" fill="#1ac2ff"/><rect x="158.53" y="150.93" width="4.27" height="4.03" fill="#1ac2ff"/><rect x="162.40" y="150.93" width="4.27" height="4.03" fill="#1ac2ff"/><rect x="166.27" y="150.93" width="4.27" height="4.03" fill="#1ac2ff"/><rect x="170.13" y="150.93" width="4.27" height="4.03" fill="#1ac2ff"/><rect x="174.00" y="150.93" width="4.27" height="4.03" fill="#1ac2ff"/><rect x="177.87" y="150.93" width="4.27" height="4.03" fill="#1ac2ff"/><rect x="181.73" y="150.93" width="4.27" height="4.03" fill="#1ac2ff"/><rect x="185.60" y="150.93" width="4.27" height="4.03" fill="#1ac2ff"/><rect x="189.47" y="150.93" width="4.27" height="4.03" fill="#1ac2ff"/><rect x="193.33" y="150.93" width="4.27" height="4.03" fill="#1ac2ff"/><rect x="197.20" y="150.93" width="4.27" height="4.03" fill="#1ac2ff"/><rect x="201.07" y="150.93" width="4.27" height="4.03" fill="#1ac2ff"/><rect x="204.93" y="150.93" width="4.27" height="4.03" fill="#1ac2ff"/><rect x="23.20" y="154.55" width="4.27" height="4.03" fill="#ffb81a"/><rect x="27.07" y="154.55" width="4.27" height="4.03" fill="#ffb81a"/><rect x="30.93" y="154.55" width="4.27" height="4.03" fill="#ffcc1a"/><rect x="34.80" y="154.55" width="4.27" height="4.03" fill="#ffe01a"/><rect x="38.67" y="154.55" width="4.27" height="4.03" fill="#fff51a"/><rect x="42.53" y="154.55" width="4.27" height="4.03" fill="#fff91a"/><rect x="46.40" y="154.55" width="4.27" height="4.03" fill="#fffd1a"/><rect x="50.27" y="154.55" width="4.27" height="4.03" fill="#fcff1c"/><rect x="54.13" y="154.55" width="4.27" height="4.03" fill="#feff1a"/><rect x="58.00" y="154.55" width="4.27" height="4.03" fill="#fffe1a"/><rect x="61.87" y="154.55" width="4.27" height="4.03" fill="#fffc1a"/><rect x="65.73" y="154.55" width="4.27" height="4.03" fill="#fffb1a"/><rect x="69.60" y="154.55" width="4.27" height="4.03" fill="#fff91a"/><rect x="73.47" y="154.55" width="4.27" height="4.03" fill="#fff71a"/><rect x="77.33" y="154.55" width="4.27" height="4.03" fill="#fffc1a"/><rect x="81.20" y="154.55" width="4.27" height="4.03" fill="#fcff1c"/><rect x="85.07" y="154.55" width="4.27" height="4.03" fill="#f7ff21"/><rect x="88.93" y="154.55" width="4.27" height="4.03" fill="#e8ff30"/><rect x="92.80" y="154.55" width="4.27" height="4.03" fill="#d9ff40"/><rect x="96.67" y="154.55" width="4.27" height="4.03" fill="#c9ff4f"/><rect x="100.53" y="154.55" width="4.27" height="4.03" fill="#b9ff5f"/><rect x="104.40" y="154.55" width="4.27" height="4.03" fill="#a9ff6f"/><rect x="108.27" y="154.55" width="4.27" height="4.03" fill="#99ff7f"/><rect x="112.13" y="154.55" width="4.27" height="4.03" fill="#6fffa9"/><rect x="116.00" y="154.55" width="4.27" height="4.03" fill="#46ffd3"/><rect x="119.87" y="154.55" width="4.27" height="4.03" fill="#1cfffc"/><rect x="123.73" y="154.55" width="4.27" height="4.03" fill="#1aeaff"/><rect x="127.60" y="154.55" width="4.27" height="4.03" fill="#1ad2ff"/><rect x="131.47" y="154.55" width="4.27" height="4.03" fill="#1abaff"/><rect x="135.33" y="154.55" width="4.27" height="4.03" fill="#1abaff"/><rect x="139.20" y="154.55" width="4.27" height="4.03" fill="#1abbff"/><rect x="143.07" y="154.55" width="4.27" height="4.03" fill="#1abbff"/><rect x="146.93" y="154.55" width="4.27" height="4.03" fill="#1abaff"/><rect x="150.80" y="154.55" width="4.27" height="4.03" fill="#1ab9ff"/><rect x="154.67" y="154.55" width="4.27" height="4.03" fill="#1ab9ff"/><rect x="158.53" y="154.55" width="4.27" height="4.03" fill="#1ab8ff"/><rect x="162.40" y="154.55" width="4.27" height="4.03" fill="#1ab7ff"/><rect x="166.27" y="154.55" width="4.27" height="4.03" fill="#1ab6ff"/><rect x="170.13" y="154.55" width="4.27" height="4.03" fill="#1ab6ff"/><rect x="174.00" y="154.55" width="4.27" height="4.03" fill="#1ab6ff"/><rect x="177.87" y="154.55" width="4.27" height="4.03" fill="#1ab6ff"/><rect x="181.73" y="154.55" width="4.27" height="4.03" fill="#1ab6ff"/><rect x="185.60" y="154.55" width="4.27" height="4.03" fill="#1ab6ff"/><rect x="189.47" y="154.55" width="4.27" height="4.03" fill="#1ab6ff"/><rect x="193.33" y="154.55" width="4.27" height="4.03" fill="#1ab6ff"/><rect x="197.20" y="154.55" width="4.27" height="4.03" fill="#1ab6ff"/><rect x="201.07" y="154.55" width="4.27" height="4.03" fill="#1ab6ff"/><rect x="204.93" y="154.55" width="4.27" height="4.03" fill="#1ab6ff"/><rect x="23.20" y="158.18" width="4.27" height="4.03" fill="#ffbd1a"/><rect x="27.07" y="158.18" width="4.27" height="4.03" fill="#ffbd1a"/><rect x="30.93" y="158.18" width="4.27" height="4.03" fill="#ffcc1a"/><rect x="34.80" y="158.18" width="4.27" height="4.03" fill="#ffdb1a"/><rect x="38.67" y="158.18" width="4.27" height="4.03" fill="#ffeb1a"/><rect x="42.53" y="158.18" width="4.27" height="4.03" fill="#fff11a"/><rect x="46.40" y="158.18" width="4.27" height="4.03" fill="#fff71a"/><rect x="50.27" y="158.18" width="4.27" height="4.03" fill="#fffc1a"/><rect x="54.13" y="158.18" width="4.27" height="4.03" fill="#fff91a"/><rect x="58.00" y="158.18" width="4.27" height="4.03" fill="#fff61a"/><rect x="61.87" y="158.18" width="4.27" height="4.03" fill="#fff21a"/><rect x="65.73" y="158.18" width="4.27" height="4.03" fill="#fff11a"/><rect x="69.60" y="158.18" width="4.27" height="4.03" fill="#fff11a"/><rect x="73.47" y="158.18" width="4.27" height="4.03" fill="#fff01a"/><rect x="77.33" y="158.18" width="4.27" height="4.03" fill="#fff21a"/><rect x="81.20" y="158.18" width="4.27" height="4.03" fill="#fff51a"/><rect x="85.07" y="158.18" width="4.27" height="4.03" fill="#fff71a"/><rect x="88.93" y="158.18" width="4.27" height="4.03" fill="#f5ff24"/><rect x="92.80" y="158.18" width="4.27" height="4.03" fill="#e3ff36"/><rect x="96.67" y="158.18" width="4.27" height="4.03" fill="#d1ff47"/><rect x="100.53" y="158.18" width="4.27" height="4.03" fill="#c3ff56"/><rect x="104.40" y="158.18" width="4.27" height="4.03" fill="#b4ff64"/><rect x="108.27" y="158.18" width="4.27" height="4.03" fill="#a6ff73"/><rect x="112.13" y="158.18" width="4.27" height="4.03" fill="#7bff9d"/><rect x="116.00" y="158.18" width="4.27" height="4.03" fill="#51ffc8"/><rect x="119.87" y="158.18" width="4.27" height="4.03" fill="#26fff2"/><rect x="123.73" y="158.18" width="4.27" height="4.03" fill="#1af1ff"/><rect x="127.60" y="158.18" width="4.27" height="4.03" fill="#1ad5ff"/><rect x="131.47" y="158.18" width="4.27" height="4.03" fill="#1abaff"/><rect x="135.33" y="158.18" width="4.27" height="4.03" fill="#1ab8ff"/><rect x="139.20" y="158.18" width="4.27" height="4.03" fill="#1ab6ff"/><rect x="143.07" y="158.18" width="4.27" height="4.03" fill="#1ab5ff"/><rect x="146.93" y="158.18" width="4.27" height="4.03" fill="#1ab3ff"/><rect x="150.80" y="158.18" width="4.27" height="4.03" fill="#1ab1ff"/><rect x="154.67" y="158.18" width="4.27" height="4.03" fill="#1aafff"/><rect x="158.53" y="158.18" width="4.27" height="4.03" fill="#1aaeff"/><rect x="162.40" y="158.18" width="4.27" height="4.03" fill="#1aacff"/><rect x="166.27" y="158.18" width="4.27" height="4.03" fill="#1aaaff"/><rect x="170.13" y="158.18" width="4.27" height="4.03" fill="#1aaaff"/><rect x="174.00" y="158.18" width="4.27" height="4.03" fill="#1aaaff"/><rect x="177.87" y="158.18" width="4.27" height="4.03" fill="#1aaaff"/><rect x="181.73" y="158.18" width="4.27" height="4.03" fill="#1aaaff"/><rect x="185.60" y="158.18" width="4.27" height="4.03" fill="#1aaaff"/><rect x="189.47" y="158.18" width="4.27" height="4.03" fill="#1aaaff"/><rect x="193.33" y="158.18" width="4.27" height="4.03" fill="#1aaaff"/><rect x="197.20" y="158.18" width="4.27" height="4.03" fill="#1aaaff"/><rect x="201.07" y="158.18" width="4.27" height="4.03" fill="#1aaaff"/><rect x="204.93" y="158.18" width="4.27" height="4.03" fill="#1aaaff"/><rect x="23.20" y="161.81" width="4.27" height="4.03" fill="#ffc21a"/><rect x="27.07" y="161.81" width="4.27" height="4.03" fill="#ffc21a"/><rect x="30.93" y="161.81" width="4.27" height="4.03" fill="#ffcc1a"/><rect x="34.80" y="161.81" width="4.27" height="4.03" fill="#ffd61a"/><rect x="38.67" y="161.81" width="4.27" height="4.03" fill="#ffe01a"/><rect x="42.53" y="161.81" width="4.27" height="4.03" fill="#ffe81a"/><rect x="46.40" y="161.81" width="4.27" height="4.03" fill="#fff01a"/><rect x="50.27" y="161.81" width="4.27" height="4.03" fill="#fff71a"/><rect x="54.13" y="161.81" width="4.27" height="4.03" fill="#fff21a"/><rect x="58.00" y="161.81" width="4.27" height="4.03" fill="#ffed1a"/><rect x="61.87" y="161.81" width="4.27" height="4.03" fill="#ffe81a"/><rect x="65.73" y="161.81" width="4.27" height="4.03" fill="#ffe81a"/><rect x="69.60" y="161.81" width="4.27" height="4.03" fill="#ffe81a"/><rect x="73.47" y="161.81" width="4.27" height="4.03" fill="#ffe81a"/><rect x="77.33" y="161.81" width="4.27" height="4.03" fill="#ffe81a"/><rect x="81.20" y="161.81" width="4.27" height="4.03" fill="#ffe81a"/><rect x="85.07" y="161.81" width="4.27" height="4.03" fill="#ffe81a"/><rect x="88.93" y="161.81" width="4.27" height="4.03" fill="#fffc1a"/><rect x="92.80" y="161.81" width="4.27" height="4.03" fill="#edff2b"/><rect x="96.67" y="161.81" width="4.27" height="4.03" fill="#d9ff40"/><rect x="100.53" y="161.81" width="4.27" height="4.03" fill="#ccff4d"/><rect x="104.40" y="161.81" width="4.27" height="4.03" fill="#bfff59"/><rect x="108.27" y="161.81" width="4.27" height="4.03" fill="#b2ff66"/><rect x="112.13" y="161.81" width="4.27" height="4.03" fill="#87ff91"/><rect x="116.00" y="161.81" width="4.27" height="4.03" fill="#5cffbd"/><rect x="119.87" y="161.81" width="4.27" height="4.03" fill="#30ffe8"/><rect x="123.73" y="161.81" width="4.27" height="4.03" fill="#1af7ff"/><rect x="127.60" y="161.81" width="4.27" height="4.03" fill="#1ad9ff"/><rect x="131.47" y="161.81" width="4.27" height="4.03" fill="#1abaff"/><rect x="135.33" y="161.81" width="4.27" height="4.03" fill="#1ab6ff"/><rect x="139.20" y="161.81" width="4.27" height="4.03" fill="#1ab2ff"/><rect x="143.07" y="161.81" width="4.27" height="4.03" fill="#1aaeff"/><rect x="146.93" y="161.81" width="4.27" height="4.03" fill="#1aabff"/><rect x="150.80" y="161.81" width="4.27" height="4.03" fill="#1aa9ff"/><rect x="154.67" y="161.81" width="4.27" height="4.03" fill="#1aa6ff"/><rect x="158.53" y="161.81" width="4.27" height="4.03" fill="#1aa4ff"/><rect x="162.40" y="161.81" width="4.27" height="4.03" fill="#1aa1ff"/><rect x="166.27" y="161.81" width="4.27" height="4.03" fill="#1a9fff"/><rect x="170.13" y="161.81" width="4.27" height="4.03" fill="#1a9fff"/><rect x="174.00" y="161.81" width="4.27" height="4.03" fill="#1a9fff"/><rect x="177.87" y="161.81" width="4.27" height="4.03" fill="#1a9fff"/><rect x="181.73" y="161.81" width="4.27" height="4.03" fill="#1a9fff"/><rect x="185.60" y="161.81" width="4.27" height="4.03" fill="#1a9fff"/><rect x="189.47" y="161.81" width="4.27" height="4.03" fill="#1a9fff"/><rect x="193.33" y="161.81" width="4.27" height="4.03" fill="#1a9fff"/><rect x="197.20" y="161.81" width="4.27" height="4.03" fill="#1a9fff"/><rect x="201.07" y="161.81" width="4.27" height="4.03" fill="#1a9fff"/><rect x="204.93" y="161.81" width="4.27" height="4.03" fill="#1a9fff"/><rect x="23.20" y="165.44" width="4.27" height="4.03" fill="#ffa61a"/><rect x="27.07" y="165.44" width="4.27" height="4.03" fill="#ffa61a"/><rect x="30.93" y="165.44" width="4.27" height="4.03" fill="#ffaf1a"/><rect x="34.80" y="165.44" width="4.27" height="4.03" fill="#ffb81a"/><rect x="38.67" y="165.44" width="4.27" height="4.03" fill="#ffc21a"/><rect x="42.53" y="165.44" width="4.27" height="4.03" fill="#ffc91a"/><rect x="46.40" y="165.44" width="4.27" height="4.03" fill="#ffd11a"/><rect x="50.27" y="165.44" width="4.27" height="4.03" fill="#ffd91a"/><rect x="54.13" y="165.44" width="4.27" height="4.03" fill="#ffdb1a"/><rect x="58.00" y="165.44" width="4.27" height="4.03" fill="#ffde1a"/><rect x="61.87" y="165.44" width="4.27" height="4.03" fill="#ffe01a"/><rect x="65.73" y="165.44" width="4.27" height="4.03" fill="#ffe01a"/><rect x="69.60" y="165.44" width="4.27" height="4.03" fill="#ffdf1a"/><rect x="73.47" y="165.44" width="4.27" height="4.03" fill="#ffde1a"/><rect x="77.33" y="165.44" width="4.27" height="4.03" fill="#ffde1a"/><rect x="81.20" y="165.44" width="4.27" height="4.03" fill="#ffde1a"/><rect x="85.07" y="165.44" width="4.27" height="4.03" fill="#ffde1a"/><rect x="88.93" y="165.44" width="4.27" height="4.03" fill="#fff11a"/><rect x="92.80" y="165.44" width="4.27" height="4.03" fill="#f9ff1f"/><rect x="96.67" y="165.44" width="4.27" height="4.03" fill="#e5ff33"/><rect x="100.53" y="165.44" width="4.27" height="4.03" fill="#d8ff41"/><rect x="104.40" y="165.44" width="4.27" height="4.03" fill="#caff4e"/><rect x="108.27" y="165.44" width="4.27" height="4.03" fill="#bdff5c"/><rect x="112.13" y="165.44" width="4.27" height="4.03" fill="#8eff8b"/><rect x="116.00" y="165.44" width="4.27" height="4.03" fill="#5fffb9"/><rect x="119.87" y="165.44" width="4.27" height="4.03" fill="#30ffe8"/><rect x="123.73" y="165.44" width="4.27" height="4.03" fill="#1af7ff"/><rect x="127.60" y="165.44" width="4.27" height="4.03" fill="#1ad9ff"/><rect x="131.47" y="165.44" width="4.27" height="4.03" fill="#1abaff"/><rect x="135.33" y="165.44" width="4.27" height="4.03" fill="#1ab6ff"/><rect x="139.20" y="165.44" width="4.27" height="4.03" fill="#1ab2ff"/><rect x="143.07" y="165.44" width="4.27" height="4.03" fill="#1aaeff"/><rect x="146.93" y="165.44" width="4.27" height="4.03" fill="#1aabff"/><rect x="150.80" y="165.44" width="4.27" height="4.03" fill="#1aa7ff"/><rect x="154.67" y="165.44" width="4.27" height="4.03" fill="#1aa4ff"/><rect x="158.53" y="165.44" width="4.27" height="4.03" fill="#1aa2ff"/><rect x="162.40" y="165.44" width="4.27" height="4.03" fill="#1aa0ff"/><rect x="166.27" y="165.44" width="4.27" height="4.03" fill="#1a9fff"/><rect x="170.13" y="165.44" width="4.27" height="4.03" fill="#1aa1ff"/><rect x="174.00" y="165.44" width="4.27" height="4.03" fill="#1aa3ff"/><rect x="177.87" y="165.44" width="4.27" height="4.03" fill="#1aa5ff"/><rect x="181.73" y="165.44" width="4.27" height="4.03" fill="#1aa5ff"/><rect x="185.60" y="165.44" width="4.27" height="4.03" fill="#1aa5ff"/><rect x="189.47" y="165.44" width="4.27" height="4.03" fill="#1aa5ff"/><rect x="193.33" y="165.44" width="4.27" height="4.03" fill="#1aa3ff"/><rect x="197.20" y="165.44" width="4.27" height="4.03" fill="#1aa1ff"/><rect x="201.07" y="165.44" width="4.27" height="4.03" fill="#1a9fff"/><rect x="204.93" y="165.44" width="4.27" height="4.03" fill="#1a9fff"/><rect x="23.20" y="169.06" width="4.27" height="4.03" fill="#ff8a1a"/><rect x="27.07" y="169.06" width="4.27" height="4.03" fill="#ff8a1a"/><rect x="30.93" y="169.06" width="4.27" height="4.03" fill="#ff921a"/><rect x="34.80" y="169.06" width="4.27" height="4.03" fill="#ff9b1a"/><rect x="38.67" y="169.06" width="4.27" height="4.03" fill="#ffa31a"/><rect x="42.53" y="169.06" width="4.27" height="4.03" fill="#ffab1a"/><rect x="46.40" y="169.06" width="4.27" height="4.03" fill="#ffb21a"/><rect x="50.27" y="169.06" width="4.27" height="4.03" fill="#ffba1a"/><rect x="54.13" y="169.06" width="4.27" height="4.03" fill="#ffc41a"/><rect x="58.00" y="169.06" width="4.27" height="4.03" fill="#ffcf1a"/><rect x="61.87" y="169.06" width="4.27" height="4.03" fill="#ffd91a"/><rect x="65.73" y="169.06" width="4.27" height="4.03" fill="#ffd71a"/><rect x="69.60" y="169.06" width="4.27" height="4.03" fill="#ffd51a"/><rect x="73.47" y="169.06" width="4.27" height="4.03" fill="#ffd41a"/><rect x="77.33" y="169.06" width="4.27" height="4.03" fill="#ffd41a"/><rect x="81.20" y="169.06" width="4.27" height="4.03" fill="#ffd41a"/><rect x="85.07" y="169.06" width="4.27" height="4.03" fill="#ffd41a"/><rect x="88.93" y="169.06" width="4.27" height="4.03" fill="#ffe61a"/><rect x="92.80" y="169.06" width="4.27" height="4.03" fill="#fff91a"/><rect x="96.67" y="169.06" width="4.27" height="4.03" fill="#f2ff26"/><rect x="100.53" y="169.06" width="4.27" height="4.03" fill="#e4ff35"/><rect x="104.40" y="169.06" width="4.27" height="4.03" fill="#d5ff43"/><rect x="108.27" y="169.06" width="4.27" height="4.03" fill="#c7ff52"/><rect x="112.13" y="169.06" width="4.27" height="4.03" fill="#95ff84"/><rect x="116.00" y="169.06" width="4.27" height="4.03" fill="#63ffb6"/><rect x="119.87" y="169.06" width="4.27" height="4.03" fill="#30ffe8"/><rect x="123.73" y="169.06" width="4.27" height="4.03" fill="#1af7ff"/><rect x="127.60" y="169.06" width="4.27" height="4.03" fill="#1ad9ff"/><rect x="131.47" y="169.06" width="4.27" height="4.03" fill="#1abaff"/><rect x="135.33" y="169.06" width="4.27" height="4.03" fill="#1ab6ff"/><rect x="139.20" y="169.06" width="4.27" height="4.03" fill="#1ab2ff"/><rect x="143.07" y="169.06" width="4.27" height="4.03" fill="#1aaeff"/><rect x="146.93" y="169.06" width="4.27" height="4.03" fill="#1aaaff"/><rect x="150.80" y="169.06" width="4.27" height="4.03" fill="#1aa5ff"/><rect x="154.67" y="169.06" width="4.27" height="4.03" fill="#1aa1ff"/><rect x="158.53" y="169.06" width="4.27" height="4.03" fill="#1aa0ff"/><rect x="162.40" y="169.06" width="4.27" height="4.03" fill="#1a9fff"/><rect x="166.27" y="169.06" width="4.27" height="4.03" fill="#1a9fff"/><rect x="170.13" y="169.06" width="4.27" height="4.03" fill="#1aa3ff"/><rect x="174.00" y="169.06" width="4.27" height="4.03" fill="#1aa7ff"/><rect x="177.87" y="169.06" width="4.27" height="4.03" fill="#1aacff"/><rect x="181.73" y="169.06" width="4.27" height="4.03" fill="#1aacff"/><rect x="185.60" y="169.06" width="4.27" height="4.03" fill="#1aacff"/><rect x="189.47" y="169.06" width="4.27" height="4.03" fill="#1aacff"/><rect x="193.33" y="169.06" width="4.27" height="4.03" fill="#1aa7ff"/><rect x="197.20" y="169.06" width="4.27" height="4.03" fill="#1aa3ff"/><rect x="201.07" y="169.06" width="4.27" height="4.03" fill="#1a9fff"/><rect x="204.93" y="169.06" width="4.27" height="4.03" fill="#1a9fff"/><rect x="23.20" y="172.69" width="4.27" height="4.03" fill="#ff6e1a"/><rect x="27.07" y="172.69" width="4.27" height="4.03" fill="#ff6e1a"/><rect x="30.93" y="172.69" width="4.27" height="4.03" fill="#ff751a"/><rect x="34.80" y="172.69" width="4.27" height="4.03" fill="#ff7d1a"/><rect x="38.67" y="172.69" width="4.27" height="4.03" fill="#ff851a"/><rect x="42.53" y="172.69" width="4.27" height="4.03" fill="#ff8c1a"/><rect x="46.40" y="172.69" width="4.27" height="4.03" fill="#ff941a"/><rect x="50.27" y="172.69" width="4.27" height="4.03" fill="#ff9c1a"/><rect x="54.13" y="172.69" width="4.27" height="4.03" fill="#ffad1a"/><rect x="58.00" y="172.69" width="4.27" height="4.03" fill="#ffbf1a"/><rect x="61.87" y="172.69" width="4.27" height="4.03" fill="#ffd11a"/><rect x="65.73" y="172.69" width="4.27" height="4.03" fill="#ffcf1a"/><rect x="69.60" y="172.69" width="4.27" height="4.03" fill="#ffcc1a"/><rect x="73.47" y="172.69" width="4.27" height="4.03" fill="#ffc91a"/><rect x="77.33" y="172.69" width="4.27" height="4.03" fill="#ffc91a"/><rect x="81.20" y="172.69" width="4.27" height="4.03" fill="#ffc91a"/><rect x="85.07" y="172.69" width="4.27" height="4.03" fill="#ffc91a"/><rect x="88.93" y="172.69" width="4.27" height="4.03" fill="#ffdb1a"/><rect x="92.80" y="172.69" width="4.27" height="4.03" fill="#ffed1a"/><rect x="96.67" y="172.69" width="4.27" height="4.03" fill="#ffff1a"/><rect x="100.53" y="172.69" width="4.27" height="4.03" fill="#f0ff29"/><rect x="104.40" y="172.69" width="4.27" height="4.03" fill="#e0ff38"/><rect x="108.27" y="172.69" width="4.27" height="4.03" fill="#d1ff47"/><rect x="112.13" y="172.69" width="4.27" height="4.03" fill="#9cff7d"/><rect x="116.00" y="172.69" width="4.27" height="4.03" fill="#66ffb2"/><rect x="119.87" y="172.69" width="4.27" height="4.03" fill="#30ffe8"/><rect x="123.73" y="172.69" width="4.27" height="4.03" fill="#1af7ff"/><rect x="127.60" y="172.69" width="4.27" height="4.03" fill="#1ad9ff"/><rect x="131.47" y="172.69" width="4.27" height="4.03" fill="#1abaff"/><rect x="135.33" y="172.69" width="4.27" height="4.03" fill="#1ab6ff"/><rect x="139.20" y="172.69" width="4.27" height="4.03" fill="#1ab2ff"/><rect x="143.07" y="172.69" width="4.27" height="4.03" fill="#1aaeff"/><rect x="146.93" y="172.69" width="4.27" height="4.03" fill="#1aa9ff"/><rect x="150.80" y="172.69" width="4.27" height="4.03" fill="#1aa4ff"/><rect x="154.67" y="172.69" width="4.27" height="4.03" fill="#1a9fff"/><rect x="158.53" y="172.69" width="4.27" height="4.03" fill="#1a9fff"/><rect x="162.40" y="172.69" width="4.27" height="4.03" fill="#1a9fff"/><rect x="166.27" y="172.69" width="4.27" height="4.03" fill="#1a9fff"/><rect x="170.13" y="172.69" width="4.27" height="4.03" fill="#1aa5ff"/><rect x="174.00" y="172.69" width="4.27" height="4.03" fill="#1aacff"/><rect x="177.87" y="172.69" width="4.27" height="4.03" fill="#1ab3ff"/><rect x="181.73" y="172.69" width="4.27" height="4.03" fill="#1ab3ff"/><rect x="185.60" y="172.69" width="4.27" height="4.03" fill="#1ab3ff"/><rect x="189.47" y="172.69" width="4.27" height="4.03" fill="#1ab3ff"/><rect x="193.33" y="172.69" width="4.27" height="4.03" fill="#1aacff"/><rect x="197.20" y="172.69" width="4.27" height="4.03" fill="#1aa5ff"/><rect x="201.07" y="172.69" width="4.27" height="4.03" fill="#1a9fff"/><rect x="204.93" y="172.69" width="4.27" height="4.03" fill="#1a9fff"/><rect x="23.20" y="176.32" width="4.27" height="4.03" fill="#ff541a"/><rect x="27.07" y="176.32" width="4.27" height="4.03" fill="#ff541a"/><rect x="30.93" y="176.32" width="4.27" height="4.03" fill="#ff621a"/><rect x="34.80" y="176.32" width="4.27" height="4.03" fill="#ff6f1a"/><rect x="38.67" y="176.32" width="4.27" height="4.03" fill="#ff7d1a"/><rect x="42.53" y="176.32" width="4.27" height="4.03" fill="#ff851a"/><rect x="46.40" y="176.32" width="4.27" height="4.03" fill="#ff8e1a"/><rect x="50.27" y="176.32" width="4.27" height="4.03" fill="#ff961a"/><rect x="54.13" y="176.32" width="4.27" height="4.03" fill="#ffa61a"/><rect x="58.00" y="176.32" width="4.27" height="4.03" fill="#ffb51a"/><rect x="61.87" y="176.32" width="4.27" height="4.03" fill="#ffc41a"/><rect x="65.73" y="176.32" width="4.27" height="4.03" fill="#ffc91a"/><rect x="69.60" y="176.32" width="4.27" height="4.03" fill="#ffcf1a"/><rect x="73.47" y="176.32" width="4.27" height="4.03" fill="#ffd41a"/><rect x="77.33" y="176.32" width="4.27" height="4.03" fill="#ffcf1a"/><rect x="81.20" y="176.32" width="4.27" height="4.03" fill="#ffcb1a"/><rect x="85.07" y="176.32" width="4.27" height="4.03" fill="#ffc71a"/><rect x="88.93" y="176.32" width="4.27" height="4.03" fill="#ffda1a"/><rect x="92.80" y="176.32" width="4.27" height="4.03" fill="#ffec1a"/><rect x="96.67" y="176.32" width="4.27" height="4.03" fill="#ffff1a"/><rect x="100.53" y="176.32" width="4.27" height="4.03" fill="#edff2b"/><rect x="104.40" y="176.32" width="4.27" height="4.03" fill="#dbff3d"/><rect x="108.27" y="176.32" width="4.27" height="4.03" fill="#c9ff4f"/><rect x="112.13" y="176.32" width="4.27" height="4.03" fill="#95ff84"/><rect x="116.00" y="176.32" width="4.27" height="4.03" fill="#60ffb8"/><rect x="119.87" y="176.32" width="4.27" height="4.03" fill="#2bffed"/><rect x="123.73" y="176.32" width="4.27" height="4.03" fill="#1af2ff"/><rect x="127.60" y="176.32" width="4.27" height="4.03" fill="#1ad4ff"/><rect x="131.47" y="176.32" width="4.27" height="4.03" fill="#1ab5ff"/><rect x="135.33" y="176.32" width="4.27" height="4.03" fill="#1ab1ff"/><rect x="139.20" y="176.32" width="4.27" height="4.03" fill="#1aadff"/><rect x="143.07" y="176.32" width="4.27" height="4.03" fill="#1aa9ff"/><rect x="146.93" y="176.32" width="4.27" height="4.03" fill="#1aa5ff"/><rect x="150.80" y="176.32" width="4.27" height="4.03" fill="#1aa2ff"/><rect x="154.67" y="176.32" width="4.27" height="4.03" fill="#1a9fff"/><rect x="158.53" y="176.32" width="4.27" height="4.03" fill="#1a9fff"/><rect x="162.40" y="176.32" width="4.27" height="4.03" fill="#1a9fff"/><rect x="166.27" y="176.32" width="4.27" height="4.03" fill="#1a9fff"/><rect x="170.13" y="176.32" width="4.27" height="4.03" fill="#1aa3ff"/><rect x="174.00" y="176.32" width="4.27" height="4.03" fill="#1aa7ff"/><rect x="177.87" y="176.32" width="4.27" height="4.03" fill="#1aacff"/><rect x="181.73" y="176.32" width="4.27" height="4.03" fill="#1aaeff"/><rect x="185.60" y="176.32" width="4.27" height="4.03" fill="#1ab0ff"/><rect x="189.47" y="176.32" width="4.27" height="4.03" fill="#1ab3ff"/><rect x="193.33" y="176.32" width="4.27" height="4.03" fill="#1aacff"/><rect x="197.20" y="176.32" width="4.27" height="4.03" fill="#1aa5ff"/><rect x="201.07" y="176.32" width="4.27" height="4.03" fill="#1a9fff"/><rect x="204.93" y="176.32" width="4.27" height="4.03" fill="#1a9fff"/><rect x="23.20" y="179.95" width="4.27" height="4.03" fill="#ff3b1a"/><rect x="27.07" y="179.95" width="4.27" height="4.03" fill="#ff3b1a"/><rect x="30.93" y="179.95" width="4.27" height="4.03" fill="#ff4e1a"/><rect x="34.80" y="179.95" width="4.27" height="4.03" fill="#ff621a"/><rect x="38.67" y="179.95" width="4.27" height="4.03" fill="#ff751a"/><rect x="42.53" y="179.95" width="4.27" height="4.03" fill="#ff7f1a"/><rect x="46.40" y="179.95" width="4.27" height="4.03" fill="#ff881a"/><rect x="50.27" y="179.95" width="4.27" height="4.03" fill="#ff911a"/><rect x="54.13" y="179.95" width="4.27" height="4.03" fill="#ff9e1a"/><rect x="58.00" y="179.95" width="4.27" height="4.03" fill="#ffab1a"/><rect x="61.87" y="179.95" width="4.27" height="4.03" fill="#ffb81a"/><rect x="65.73" y="179.95" width="4.27" height="4.03" fill="#ffc41a"/><rect x="69.60" y="179.95" width="4.27" height="4.03" fill="#ffd11a"/><rect x="73.47" y="179.95" width="4.27" height="4.03" fill="#ffde1a"/><rect x="77.33" y="179.95" width="4.27" height="4.03" fill="#ffd51a"/><rect x="81.20" y="179.95" width="4.27" height="4.03" fill="#ffcd1a"/><rect x="85.07" y="179.95" width="4.27" height="4.03" fill="#ffc41a"/><rect x="88.93" y="179.95" width="4.27" height="4.03" fill="#ffd81a"/><rect x="92.80" y="179.95" width="4.27" height="4.03" fill="#ffeb1a"/><rect x="96.67" y="179.95" width="4.27" height="4.03" fill="#ffff1a"/><rect x="100.53" y="179.95" width="4.27" height="4.03" fill="#ebff2e"/><rect x="104.40" y="179.95" width="4.27" height="4.03" fill="#d6ff42"/><rect x="108.27" y="179.95" width="4.27" height="4.03" fill="#c2ff57"/><rect x="112.13" y="179.95" width="4.27" height="4.03" fill="#8eff8b"/><rect x="116.00" y="179.95" width="4.27" height="4.03" fill="#5affbe"/><rect x="119.87" y="179.95" width="4.27" height="4.03" fill="#26fff2"/><rect x="123.73" y="179.95" width="4.27" height="4.03" fill="#1aedff"/><rect x="127.60" y="179.95" width="4.27" height="4.03" fill="#1acfff"/><rect x="131.47" y="179.95" width="4.27" height="4.03" fill="#1ab0ff"/><rect x="135.33" y="179.95" width="4.27" height="4.03" fill="#1aacff"/><rect x="139.20" y="179.95" width="4.27" height="4.03" fill="#1aa8ff"/><rect x="143.07" y="179.95" width="4.27" height="4.03" fill="#1aa4ff"/><rect x="146.93" y="179.95" width="4.27" height="4.03" fill="#1aa2ff"/><rect x="150.80" y="179.95" width="4.27" height="4.03" fill="#1aa0ff"/><rect x="154.67" y="179.95" width="4.27" height="4.03" fill="#1a9fff"/><rect x="158.53" y="179.95" width="4.27" height="4.03" fill="#1a9fff"/><rect x="162.40" y="179.95" width="4.27" height="4.03" fill="#1a9fff"/><rect x="166.27" y="179.95" width="4.27" height="4.03" fill="#1a9fff"/><rect x="170.13" y="179.95" width="4.27" height="4.03" fill="#1aa1ff"/><rect x="174.00" y="179.95" width="4.27" height="4.03" fill="#1aa3ff"/><rect x="177.87" y="179.95" width="4.27" height="4.03" fill="#1aa5ff"/><rect x="181.73" y="179.95" width="4.27" height="4.03" fill="#1aaaff"/><rect x="185.60" y="179.95" width="4.27" height="4.03" fill="#1aaeff"/><rect x="189.47" y="179.95" width="4.27" height="4.03" fill="#1ab3ff"/><rect x="193.33" y="179.95" width="4.27" height="4.03" fill="#1aacff"/><rect x="197.20" y="179.95" width="4.27" height="4.03" fill="#1aa5ff"/><rect x="201.07" y="179.95" width="4.27" height="4.03" fill="#1a9fff"/><rect x="204.93" y="179.95" width="4.27" height="4.03" fill="#1a9fff"/><rect x="23.20" y="183.57" width="4.27" height="4.03" fill="#ff211a"/><rect x="27.07" y="183.57" width="4.27" height="4.03" fill="#ff211a"/><rect x="30.93" y="183.57" width="4.27" height="4.03" fill="#ff3b1a"/><rect x="34.80" y="183.57" width="4.27" height="4.03" fill="#ff541a"/><rect x="38.67" y="183.57" width="4.27" height="4.03" fill="#ff6e1a"/><rect x="42.53" y="183.57" width="4.27" height="4.03" fill="#ff781a"/><rect x="46.40" y="183.57" width="4.27" height="4.03" fill="#ff821a"/><rect x="50.27" y="183.57" width="4.27" height="4.03" fill="#ff8c1a"/><rect x="54.13" y="183.57" width="4.27" height="4.03" fill="#ff961a"/><rect x="58.00" y="183.57" width="4.27" height="4.03" fill="#ffa11a"/><rect x="61.87" y="183.57" width="4.27" height="4.03" fill="#ffab1a"/><rect x="65.73" y="183.57" width="4.27" height="4.03" fill="#ffbf1a"/><rect x="69.60" y="183.57" width="4.27" height="4.03" fill="#ffd41a"/><rect x="73.47" y="183.57" width="4.27" height="4.03" fill="#ffe81a"/><rect x="77.33" y="183.57" width="4.27" height="4.03" fill="#ffdb1a"/><rect x="81.20" y="183.57" width="4.27" height="4.03" fill="#ffcf1a"/><rect x="85.07" y="183.57" width="4.27" height="4.03" fill="#ffc21a"/><rect x="88.93" y="183.57" width="4.27" height="4.03" fill="#ffd61a"/><rect x="92.80" y="183.57" width="4.27" height="4.03" fill="#ffeb1a"/><rect x="96.67" y="183.57" width="4.27" height="4.03" fill="#ffff1a"/><rect x="100.53" y="183.57" width="4.27" height="4.03" fill="#e8ff30"/><rect x="104.40" y="183.57" width="4.27" height="4.03" fill="#d1ff47"/><rect x="108.27" y="183.57" width="4.27" height="4.03" fill="#baff5e"/><rect x="112.13" y="183.57" width="4.27" height="4.03" fill="#87ff91"/><rect x="116.00" y="183.57" width="4.27" height="4.03" fill="#54ffc4"/><rect x="119.87" y="183.57" width="4.27" height="4.03" fill="#21fff7"/><rect x="123.73" y="183.57" width="4.27" height="4.03" fill="#1ae8ff"/><rect x="127.60" y="183.57" width="4.27" height="4.03" fill="#1ac9ff"/><rect x="131.47" y="183.57" width="4.27" height="4.03" fill="#1aabff"/><rect x="135.33" y="183.57" width="4.27" height="4.03" fill="#1aa7ff"/><rect x="139.20" y="183.57" width="4.27" height="4.03" fill="#1aa3ff"/><rect x="143.07" y="183.57" width="4.27" height="4.03" fill="#1a9fff"/><rect x="146.93" y="183.57" width="4.27" height="4.03" fill="#1a9fff"/><rect x="150.80" y="183.57" width="4.27" height="4.03" fill="#1a9fff"/><rect x="154.67" y="183.57" width="4.27" height="4.03" fill="#1a9fff"/><rect x="158.53" y="183.57" width="4.27" height="4.03" fill="#1a9fff"/><rect x="162.40" y="183.57" width="4.27" height="4.03" fill="#1a9fff"/><rect x="166.27" y="183.57" width="4.27" height="4.03" fill="#1a9fff"/><rect x="170.13" y="183.57" width="4.27" height="4.03" fill="#1a9fff"/><rect x="174.00" y="183.57" width="4.27" height="4.03" fill="#1a9fff"/><rect x="177.87" y="183.57" width="4.27" height="4.03" fill="#1a9fff"/><rect x="181.73" y="183.57" width="4.27" height="4.03" fill="#1aa5ff"/><rect x="185.60" y="183.57" width="4.27" height="4.03" fill="#1aacff"/><rect x="189.47" y="183.57" width="4.27" height="4.03" fill="#1ab3ff"/><rect x="193.33" y="183.57" width="4.27" height="4.03" fill="#1aacff"/><rect x="197.20" y="183.57" width="4.27" height="4.03" fill="#1aa5ff"/><rect x="201.07" y="183.57" width="4.27" height="4.03" fill="#1a9fff"/><rect x="204.93" y="183.57" width="4.27" height="4.03" fill="#1a9fff"/><rect x="23.20" y="187.20" width="4.27" height="4.03" fill="#ff421a"/><rect x="27.07" y="187.20" width="4.27" height="4.03" fill="#ff421a"/><rect x="30.93" y="187.20" width="4.27" height="4.03" fill="#ff561a"/><rect x="34.80" y="187.20" width="4.27" height="4.03" fill="#ff691a"/><rect x="38.67" y="187.20" width="4.27" height="4.03" fill="#ff7d1a"/><rect x="42.53" y="187.20" width="4.27" height="4.03" fill="#ff841a"/><rect x="46.40" y="187.20" width="4.27" height="4.03" fill="#ff8b1a"/><rect x="50.27" y="187.20" width="4.27" height="4.03" fill="#ff911a"/><rect x="54.13" y="187.20" width="4.27" height="4.03" fill="#ff961a"/><rect x="58.00" y="187.20" width="4.27" height="4.03" fill="#ff9a1a"/><rect x="61.87" y="187.20" width="4.27" height="4.03" fill="#ff9e1a"/><rect x="65.73" y="187.20" width="4.27" height="4.03" fill="#ffaf1a"/><rect x="69.60" y="187.20" width="4.27" height="4.03" fill="#ffc01a"/><rect x="73.47" y="187.20" width="4.27" height="4.03" fill="#ffd11a"/><rect x="77.33" y="187.20" width="4.27" height="4.03" fill="#ffce1a"/><rect x="81.20" y="187.20" width="4.27" height="4.03" fill="#ffca1a"/><rect x="85.07" y="187.20" width="4.27" height="4.03" fill="#ffc71a"/><rect x="88.93" y="187.20" width="4.27" height="4.03" fill="#ffd91a"/><rect x="92.80" y="187.20" width="4.27" height="4.03" fill="#ffeb1a"/><rect x="96.67" y="187.20" width="4.27" height="4.03" fill="#fffc1a"/><rect x="100.53" y="187.20" width="4.27" height="4.03" fill="#ebff2d"/><rect x="104.40" y="187.20" width="4.27" height="4.03" fill="#d5ff43"/><rect x="108.27" y="187.20" width="4.27" height="4.03" fill="#bfff59"/><rect x="112.13" y="187.20" width="4.27" height="4.03" fill="#89ff90"/><rect x="116.00" y="187.20" width="4.27" height="4.03" fill="#52ffc6"/><rect x="119.87" y="187.20" width="4.27" height="4.03" fill="#1cfffc"/><rect x="123.73" y="187.20" width="4.27" height="4.03" fill="#1ae5ff"/><rect x="127.60" y="187.20" width="4.27" height="4.03" fill="#1ac8ff"/><rect x="131.47" y="187.20" width="4.27" height="4.03" fill="#1aabff"/><rect x="135.33" y="187.20" width="4.27" height="4.03" fill="#1aa5ff"/><rect x="139.20" y="187.20" width="4.27" height="4.03" fill="#1a9fff"/><rect x="143.07" y="187.20" width="4.27" height="4.03" fill="#1a9aff"/><rect x="146.93" y="187.20" width="4.27" height="4.03" fill="#1a9aff"/><rect x="150.80" y="187.20" width="4.27" height="4.03" fill="#1a9aff"/><rect x="154.67" y="187.20" width="4.27" height="4.03" fill="#1a9aff"/><rect x="158.53" y="187.20" width="4.27" height="4.03" fill="#1a9aff"/><rect x="162.40" y="187.20" width="4.27" height="4.03" fill="#1a9aff"/><rect x="166.27" y="187.20" width="4.27" height="4.03" fill="#1a9aff"/><rect x="170.13" y="187.20" width="4.27" height="4.03" fill="#1a9aff"/><rect x="174.00" y="187.20" width="4.27" height="4.03" fill="#1a9aff"/><rect x="177.87" y="187.20" width="4.27" height="4.03" fill="#1a9aff"/><rect x="181.73" y="187.20" width="4.27" height="4.03" fill="#1a9eff"/><rect x="185.60" y="187.20" width="4.27" height="4.03" fill="#1aa2ff"/><rect x="189.47" y="187.20" width="4.27" height="4.03" fill="#1aa7ff"/><rect x="193.33" y="187.20" width="4.27" height="4.03" fill="#1aa2ff"/><rect x="197.20" y="187.20" width="4.27" height="4.03" fill="#1a9eff"/><rect x="201.07" y="187.20" width="4.27" height="4.03" fill="#1a9aff"/><rect x="204.93" y="187.20" width="4.27" height="4.03" fill="#1a9aff"/><rect x="23.20" y="190.83" width="4.27" height="4.03" fill="#ff631a"/><rect x="27.07" y="190.83" width="4.27" height="4.03" fill="#ff631a"/><rect x="30.93" y="190.83" width="4.27" height="4.03" fill="#ff711a"/><rect x="34.80" y="190.83" width="4.27" height="4.03" fill="#ff7f1a"/><rect x="38.67" y="190.83" width="4.27" height="4.03" fill="#ff8c1a"/><rect x="42.53" y="190.83" width="4.27" height="4.03" fill="#ff901a"/><rect x="46.40" y="190.83" width="4.27" height="4.03" fill="#ff931a"/><rect x="50.27" y="190.83" width="4.27" height="4.03" fill="#ff961a"/><rect x="54.13" y="190.83" width="4.27" height="4.03" fill="#ff951a"/><rect x="58.00" y="190.83" width="4.27" height="4.03" fill="#ff931a"/><rect x="61.87" y="190.83" width="4.27" height="4.03" fill="#ff911a"/><rect x="65.73" y="190.83" width="4.27" height="4.03" fill="#ff9f1a"/><rect x="69.60" y="190.83" width="4.27" height="4.03" fill="#ffad1a"/><rect x="73.47" y="190.83" width="4.27" height="4.03" fill="#ffba1a"/><rect x="77.33" y="190.83" width="4.27" height="4.03" fill="#ffc01a"/><rect x="81.20" y="190.83" width="4.27" height="4.03" fill="#ffc61a"/><rect x="85.07" y="190.83" width="4.27" height="4.03" fill="#ffcc1a"/><rect x="88.93" y="190.83" width="4.27" height="4.03" fill="#ffdb1a"/><rect x="92.80" y="190.83" width="4.27" height="4.03" fill="#ffeb1a"/><rect x="96.67" y="190.83" width="4.27" height="4.03" fill="#fffa1a"/><rect x="100.53" y="190.83" width="4.27" height="4.03" fill="#efff2a"/><rect x="104.40" y="190.83" width="4.27" height="4.03" fill="#daff3f"/><rect x="108.27" y="190.83" width="4.27" height="4.03" fill="#c4ff54"/><rect x="112.13" y="190.83" width="4.27" height="4.03" fill="#8bff8e"/><rect x="116.00" y="190.83" width="4.27" height="4.03" fill="#51ffc8"/><rect x="119.87" y="190.83" width="4.27" height="4.03" fill="#1afcff"/><rect x="123.73" y="190.83" width="4.27" height="4.03" fill="#1ae1ff"/><rect x="127.60" y="190.83" width="4.27" height="4.03" fill="#1ac6ff"/><rect x="131.47" y="190.83" width="4.27" height="4.03" fill="#1aabff"/><rect x="135.33" y="190.83" width="4.27" height="4.03" fill="#1aa3ff"/><rect x="139.20" y="190.83" width="4.27" height="4.03" fill="#1a9cff"/><rect x="143.07" y="190.83" width="4.27" height="4.03" fill="#1a94ff"/><rect x="146.93" y="190.83" width="4.27" height="4.03" fill="#1a94ff"/><rect x="150.80" y="190.83" width="4.27" height="4.03" fill="#1a94ff"/><rect x="154.67" y="190.83" width="4.27" height="4.03" fill="#1a94ff"/><rect x="158.53" y="190.83" width="4.27" height="4.03" fill="#1a94ff"/><rect x="162.40" y="190.83" width="4.27" height="4.03" fill="#1a94ff"/><rect x="166.27" y="190.83" width="4.27" height="4.03" fill="#1a94ff"/><rect x="170.13" y="190.83" width="4.27" height="4.03" fill="#1a94ff"/><rect x="174.00" y="190.83" width="4.27" height="4.03" fill="#1a94ff"/><rect x="177.87" y="190.83" width="4.27" height="4.03" fill="#1a94ff"/><rect x="181.73" y="190.83" width="4.27" height="4.03" fill="#1a97ff"/><rect x="185.60" y="190.83" width="4.27" height="4.03" fill="#1a99ff"/><rect x="189.47" y="190.83" width="4.27" height="4.03" fill="#1a9bff"/><rect x="193.33" y="190.83" width="4.27" height="4.03" fill="#1a99ff"/><rect x="197.20" y="190.83" width="4.27" height="4.03" fill="#1a97ff"/><rect x="201.07" y="190.83" width="4.27" height="4.03" fill="#1a94ff"/><rect x="204.93" y="190.83" width="4.27" height="4.03" fill="#1a94ff"/><rect x="23.20" y="194.45" width="4.27" height="4.03" fill="#ff851a"/><rect x="27.07" y="194.45" width="4.27" height="4.03" fill="#ff851a"/><rect x="30.93" y="194.45" width="4.27" height="4.03" fill="#ff8c1a"/><rect x="34.80" y="194.45" width="4.27" height="4.03" fill="#ff941a"/><rect x="38.67" y="194.45" width="4.27" height="4.03" fill="#ff9c1a"/><rect x="42.53" y="194.45" width="4.27" height="4.03" fill="#ff9c1a"/><rect x="46.40" y="194.45" width="4.27" height="4.03" fill="#ff9c1a"/><rect x="50.27" y="194.45" width="4.27" height="4.03" fill="#ff9c1a"/><rect x="54.13" y="194.45" width="4.27" height="4.03" fill="#ff941a"/><rect x="58.00" y="194.45" width="4.27" height="4.03" fill="#ff8c1a"/><rect x="61.87" y="194.45" width="4.27" height="4.03" fill="#ff851a"/><rect x="65.73" y="194.45" width="4.27" height="4.03" fill="#ff8f1a"/><rect x="69.60" y="194.45" width="4.27" height="4.03" fill="#ff991a"/><rect x="73.47" y="194.45" width="4.27" height="4.03" fill="#ffa31a"/><rect x="77.33" y="194.45" width="4.27" height="4.03" fill="#ffb21a"/><rect x="81.20" y="194.45" width="4.27" height="4.03" fill="#ffc21a"/><rect x="85.07" y="194.45" width="4.27" height="4.03" fill="#ffd11a"/><rect x="88.93" y="194.45" width="4.27" height="4.03" fill="#ffde1a"/><rect x="92.80" y="194.45" width="4.27" height="4.03" fill="#ffeb1a"/><rect x="96.67" y="194.45" width="4.27" height="4.03" fill="#fff71a"/><rect x="100.53" y="194.45" width="4.27" height="4.03" fill="#f2ff26"/><rect x="104.40" y="194.45" width="4.27" height="4.03" fill="#deff3b"/><rect x="108.27" y="194.45" width="4.27" height="4.03" fill="#c9ff4f"/><rect x="112.13" y="194.45" width="4.27" height="4.03" fill="#8cff8c"/><rect x="116.00" y="194.45" width="4.27" height="4.03" fill="#4fffc9"/><rect x="119.87" y="194.45" width="4.27" height="4.03" fill="#1af7ff"/><rect x="123.73" y="194.45" width="4.27" height="4.03" fill="#1adeff"/><rect x="127.60" y="194.45" width="4.27" height="4.03" fill="#1ac4ff"/><rect x="131.47" y="194.45" width="4.27" height="4.03" fill="#1aabff"/><rect x="135.33" y="194.45" width="4.27" height="4.03" fill="#1aa2ff"/><rect x="139.20" y="194.45" width="4.27" height="4.03" fill="#1a98ff"/><rect x="143.07" y="194.45" width="4.27" height="4.03" fill="#1a8fff"/><rect x="146.93" y="194.45" width="4.27" height="4.03" fill="#1a8fff"/><rect x="150.80" y="194.45" width="4.27" height="4.03" fill="#1a8fff"/><rect x="154.67" y="194.45" width="4.27" height="4.03" fill="#1a8fff"/><rect x="158.53" y="194.45" width="4.27" height="4.03" fill="#1a8fff"/><rect x="162.40" y="194.45" width="4.27" height="4.03" fill="#1a8fff"/><rect x="166.27" y="194.45" width="4.27" height="4.03" fill="#1a8fff"/><rect x="170.13" y="194.45" width="4.27" height="4.03" fill="#1a8fff"/><rect x="174.00" y="194.45" width="4.27" height="4.03" fill="#1a8fff"/><rect x="177.87" y="194.45" width="4.27" height="4.03" fill="#1a8fff"/><rect x="181.73" y="194.45" width="4.27" height="4.03" fill="#1a8fff"/><rect x="185.60" y="194.45" width="4.27" height="4.03" fill="#1a8fff"/><rect x="189.47" y="194.45" width="4.27" height="4.03" fill="#1a8fff"/><rect x="193.33" y="194.45" width="4.27" height="4.03" fill="#1a8fff"/><rect x="197.20" y="194.45" width="4.27" height="4.03" fill="#1a8fff"/><rect x="201.07" y="194.45" width="4.27" height="4.03" fill="#1a8fff"/><rect x="204.93" y="194.45" width="4.27" height="4.03" fill="#1a8fff"/><rect x="23.20" y="198.08" width="4.27" height="4.03" fill="#ff851a"/><rect x="27.07" y="198.08" width="4.27" height="4.03" fill="#ff851a"/><rect x="30.93" y="198.08" width="4.27" height="4.03" fill="#ff8e1a"/><rect x="34.80" y="198.08" width="4.27" height="4.03" fill="#ff971a"/><rect x="38.67" y="198.08" width="4.27" height="4.03" fill="#ffa11a"/><rect x="42.53" y="198.08" width="4.27" height="4.03" fill="#ff9f1a"/><rect x="46.40" y="198.08" width="4.27" height="4.03" fill="#ff9d1a"/><rect x="50.27" y="198.08" width="4.27" height="4.03" fill="#ff9c1a"/><rect x="54.13" y="198.08" width="4.27" height="4.03" fill="#ff931a"/><rect x="58.00" y="198.08" width="4.27" height="4.03" fill="#ff8b1a"/><rect x="61.87" y="198.08" width="4.27" height="4.03" fill="#ff821a"/><rect x="65.73" y="198.08" width="4.27" height="4.03" fill="#ff8d1a"/><rect x="69.60" y="198.08" width="4.27" height="4.03" fill="#ff981a"/><rect x="73.47" y="198.08" width="4.27" height="4.03" fill="#ffa31a"/><rect x="77.33" y="198.08" width="4.27" height="4.03" fill="#ffb21a"/><rect x="81.20" y="198.08" width="4.27" height="4.03" fill="#ffc01a"/><rect x="85.07" y="198.08" width="4.27" height="4.03" fill="#ffcf1a"/><rect x="88.93" y="198.08" width="4.27" height="4.03" fill="#ffda1a"/><rect x="92.80" y="198.08" width="4.27" height="4.03" fill="#ffe61a"/><rect x="96.67" y="198.08" width="4.27" height="4.03" fill="#fff21a"/><rect x="100.53" y="198.08" width="4.27" height="4.03" fill="#f4ff25"/><rect x="104.40" y="198.08" width="4.27" height="4.03" fill="#dcff3c"/><rect x="108.27" y="198.08" width="4.27" height="4.03" fill="#c4ff54"/><rect x="112.13" y="198.08" width="4.27" height="4.03" fill="#89ff90"/><rect x="116.00" y="198.08" width="4.27" height="4.03" fill="#4dffcb"/><rect x="119.87" y="198.08" width="4.27" height="4.03" fill="#1af7ff"/><rect x="123.73" y="198.08" width="4.27" height="4.03" fill="#1adeff"/><rect x="127.60" y="198.08" width="4.27" height="4.03" fill="#1ac4ff"/><rect x="131.47" y="198.08" width="4.27" height="4.03" fill="#1aabff"/><rect x="135.33" y="198.08" width="4.27" height="4.03" fill="#1aa3ff"/><rect x="139.20" y="198.08" width="4.27" height="4.03" fill="#1a9aff"/><rect x="143.07" y="198.08" width="4.27" height="4.03" fill="#1a92ff"/><rect x="146.93" y="198.08" width="4.27" height="4.03" fill="#1a92ff"/><rect x="150.80" y="198.08" width="4.27" height="4.03" fill="#1a92ff"/><rect x="154.67" y="198.08" width="4.27" height="4.03" fill="#1a92ff"/><rect x="158.53" y="198.08" width="4.27" height="4.03" fill="#1a92ff"/><rect x="162.40" y="198.08" width="4.27" height="4.03" fill="#1a92ff"/><rect x="166.27" y="198.08" width="4.27" height="4.03" fill="#1a92ff"/><rect x="170.13" y="198.08" width="4.27" height="4.03" fill="#1a92ff"/><rect x="174.00" y="198.08" width="4.27" height="4.03" fill="#1a92ff"/><rect x="177.87" y="198.08" width="4.27" height="4.03" fill="#1a92ff"/><rect x="181.73" y="198.08" width="4.27" height="4.03" fill="#1a92ff"/><rect x="185.60" y="198.08" width="4.27" height="4.03" fill="#1a92ff"/><rect x="189.47" y="198.08" width="4.27" height="4.03" fill="#1a92ff"/><rect x="193.33" y="198.08" width="4.27" height="4.03" fill="#1a92ff"/><rect x="197.20" y="198.08" width="4.27" height="4.03" fill="#1a92ff"/><rect x="201.07" y="198.08" width="4.27" height="4.03" fill="#1a92ff"/><rect x="204.93" y="198.08" width="4.27" height="4.03" fill="#1a92ff"/><rect x="23.20" y="201.71" width="4.27" height="4.03" fill="#ff851a"/><rect x="27.07" y="201.71" width="4.27" height="4.03" fill="#ff851a"/><rect x="30.93" y="201.71" width="4.27" height="4.03" fill="#ff901a"/><rect x="34.80" y="201.71" width="4.27" height="4.03" fill="#ff9b1a"/><rect x="38.67" y="201.71" width="4.27" height="4.03" fill="#ffa61a"/><rect x="42.53" y="201.71" width="4.27" height="4.03" fill="#ffa21a"/><rect x="46.40" y="201.71" width="4.27" height="4.03" fill="#ff9f1a"/><rect x="50.27" y="201.71" width="4.27" height="4.03" fill="#ff9c1a"/><rect x="54.13" y="201.71" width="4.27" height="4.03" fill="#ff921a"/><rect x="58.00" y="201.71" width="4.27" height="4.03" fill="#ff891a"/><rect x="61.87" y="201.71" width="4.27" height="4.03" fill="#ff7f1a"/><rect x="65.73" y="201.71" width="4.27" height="4.03" fill="#ff8b1a"/><rect x="69.60" y="201.71" width="4.27" height="4.03" fill="#ff971a"/><rect x="73.47" y="201.71" width="4.27" height="4.03" fill="#ffa31a"/><rect x="77.33" y="201.71" width="4.27" height="4.03" fill="#ffb11a"/><rect x="81.20" y="201.71" width="4.27" height="4.03" fill="#ffbe1a"/><rect x="85.07" y="201.71" width="4.27" height="4.03" fill="#ffcc1a"/><rect x="88.93" y="201.71" width="4.27" height="4.03" fill="#ffd71a"/><rect x="92.80" y="201.71" width="4.27" height="4.03" fill="#ffe21a"/><rect x="96.67" y="201.71" width="4.27" height="4.03" fill="#ffed1a"/><rect x="100.53" y="201.71" width="4.27" height="4.03" fill="#f6ff23"/><rect x="104.40" y="201.71" width="4.27" height="4.03" fill="#daff3e"/><rect x="108.27" y="201.71" width="4.27" height="4.03" fill="#bfff59"/><rect x="112.13" y="201.71" width="4.27" height="4.03" fill="#85ff93"/><rect x="116.00" y="201.71" width="4.27" height="4.03" fill="#4cffcd"/><rect x="119.87" y="201.71" width="4.27" height="4.03" fill="#1af7ff"/><rect x="123.73" y="201.71" width="4.27" height="4.03" fill="#1adeff"/><rect x="127.60" y="201.71" width="4.27" height="4.03" fill="#1ac4ff"/><rect x="131.47" y="201.71" width="4.27" height="4.03" fill="#1aabff"/><rect x="135.33" y="201.71" width="4.27" height="4.03" fill="#1aa3ff"/><rect x="139.20" y="201.71" width="4.27" height="4.03" fill="#1a9cff"/><rect x="143.07" y="201.71" width="4.27" height="4.03" fill="#1a94ff"/><rect x="146.93" y="201.71" width="4.27" height="4.03" fill="#1a94ff"/><rect x="150.80" y="201.71" width="4.27" height="4.03" fill="#1a94ff"/><rect x="154.67" y="201.71" width="4.27" height="4.03" fill="#1a94ff"/><rect x="158.53" y="201.71" width="4.27" height="4.03" fill="#1a94ff"/><rect x="162.40" y="201.71" width="4.27" height="4.03" fill="#1a94ff"/><rect x="166.27" y="201.71" width="4.27" height="4.03" fill="#1a94ff"/><rect x="170.13" y="201.71" width="4.27" height="4.03" fill="#1a94ff"/><rect x="174.00" y="201.71" width="4.27" height="4.03" fill="#1a94ff"/><rect x="177.87" y="201.71" width="4.27" height="4.03" fill="#1a94ff"/><rect x="181.73" y="201.71" width="4.27" height="4.03" fill="#1a94ff"/><rect x="185.60" y="201.71" width="4.27" height="4.03" fill="#1a94ff"/><rect x="189.47" y="201.71" width="4.27" height="4.03" fill="#1a94ff"/><rect x="193.33" y="201.71" width="4.27" height="4.03" fill="#1a94ff"/><rect x="197.20" y="201.71" width="4.27" height="4.03" fill="#1a94ff"/><rect x="201.07" y="201.71" width="4.27" height="4.03" fill="#1a94ff"/><rect x="204.93" y="201.71" width="4.27" height="4.03" fill="#1a94ff"/><rect x="23.20" y="205.34" width="4.27" height="4.03" fill="#ff851a"/><rect x="27.07" y="205.34" width="4.27" height="4.03" fill="#ff851a"/><rect x="30.93" y="205.34" width="4.27" height="4.03" fill="#ff911a"/><rect x="34.80" y="205.34" width="4.27" height="4.03" fill="#ff9e1a"/><rect x="38.67" y="205.34" width="4.27" height="4.03" fill="#ffab1a"/><rect x="42.53" y="205.34" width="4.27" height="4.03" fill="#ffa61a"/><rect x="46.40" y="205.34" width="4.27" height="4.03" fill="#ffa11a"/><rect x="50.27" y="205.34" width="4.27" height="4.03" fill="#ff9c1a"/><rect x="54.13" y="205.34" width="4.27" height="4.03" fill="#ff911a"/><rect x="58.00" y="205.34" width="4.27" height="4.03" fill="#ff871a"/><rect x="61.87" y="205.34" width="4.27" height="4.03" fill="#ff7d1a"/><rect x="65.73" y="205.34" width="4.27" height="4.03" fill="#ff8a1a"/><rect x="69.60" y="205.34" width="4.27" height="4.03" fill="#ff961a"/><rect x="73.47" y="205.34" width="4.27" height="4.03" fill="#ffa31a"/><rect x="77.33" y="205.34" width="4.27" height="4.03" fill="#ffb01a"/><rect x="81.20" y="205.34" width="4.27" height="4.03" fill="#ffbd1a"/><rect x="85.07" y="205.34" width="4.27" height="4.03" fill="#ffc91a"/><rect x="88.93" y="205.34" width="4.27" height="4.03" fill="#ffd41a"/><rect x="92.80" y="205.34" width="4.27" height="4.03" fill="#ffde1a"/><rect x="96.67" y="205.34" width="4.27" height="4.03" fill="#ffe81a"/><rect x="100.53" y="205.34" width="4.27" height="4.03" fill="#f7ff21"/><rect x="104.40" y="205.34" width="4.27" height="4.03" fill="#d9ff40"/><rect x="108.27" y="205.34" width="4.27" height="4.03" fill="#baff5e"/><rect x="112.13" y="205.34" width="4.27" height="4.03" fill="#82ff96"/><rect x="116.00" y="205.34" width="4.27" height="4.03" fill="#4affcf"/><rect x="119.87" y="205.34" width="4.27" height="4.03" fill="#1af7ff"/><rect x="123.73" y="205.34" width="4.27" height="4.03" fill="#1adeff"/><rect x="127.60" y="205.34" width="4.27" height="4.03" fill="#1ac4ff"/><rect x="131.47" y="205.34" width="4.27" height="4.03" fill="#1aabff"/><rect x="135.33" y="205.34" width="4.27" height="4.03" fill="#1aa4ff"/><rect x="139.20" y="205.34" width="4.27" height="4.03" fill="#1a9eff"/><rect x="143.07" y="205.34" width="4.27" height="4.03" fill="#1a97ff"/><rect x="146.93" y="205.34" width="4.27" height="4.03" fill="#1a97ff"/><rect x="150.80" y="205.34" width="4.27" height="4.03" fill="#1a97ff"/><rect x="154.67" y="205.34" width="4.27" height="4.03" fill="#1a97ff"/><rect x="158.53" y="205.34" width="4.27" height="4.03" fill="#1a97ff"/><rect x="162.40" y="205.34" width="4.27" height="4.03" fill="#1a97ff"/><rect x="166.27" y="205.34" width="4.27" height="4.03" fill="#1a97ff"/><rect x="170.13" y="205.34" width="4.27" height="4.03" fill="#1a97ff"/><rect x="174.00" y="205.34" width="4.27" height="4.03" fill="#1a97ff"/><rect x="177.87" y="205.34" width="4.27" height="4.03" fill="#1a97ff"/><rect x="181.73" y="205.34" width="4.27" height="4.03" fill="#1a97ff"/><rect x="185.60" y="205.34" width="4.27" height="4.03" fill="#1a97ff"/><rect x="189.47" y="205.34" width="4.27" height="4.03" fill="#1a97ff"/><rect x="193.33" y="205.34" width="4.27" height="4.03" fill="#1a97ff"/><rect x="197.20" y="205.34" width="4.27" height="4.03" fill="#1a97ff"/><rect x="201.07" y="205.34" width="4.27" height="4.03" fill="#1a97ff"/><rect x="204.93" y="205.34" width="4.27" height="4.03" fill="#1a97ff"/><rect x="23.20" y="208.96" width="4.27" height="4.03" fill="#ff871a"/><rect x="27.07" y="208.96" width="4.27" height="4.03" fill="#ff871a"/><rect x="30.93" y="208.96" width="4.27" height="4.03" fill="#ff911a"/><rect x="34.80" y="208.96" width="4.27" height="4.03" fill="#ff9c1a"/><rect x="38.67" y="208.96" width="4.27" height="4.03" fill="#ffa61a"/><rect x="42.53" y="208.96" width="4.27" height="4.03" fill="#ffa41a"/><rect x="46.40" y="208.96" width="4.27" height="4.03" fill="#ffa21a"/><rect x="50.27" y="208.96" width="4.27" height="4.03" fill="#ffa11a"/><rect x="54.13" y="208.96" width="4.27" height="4.03" fill="#ff951a"/><rect x="58.00" y="208.96" width="4.27" height="4.03" fill="#ff891a"/><rect x="61.87" y="208.96" width="4.27" height="4.03" fill="#ff7d1a"/><rect x="65.73" y="208.96" width="4.27" height="4.03" fill="#ff891a"/><rect x="69.60" y="208.96" width="4.27" height="4.03" fill="#ff951a"/><rect x="73.47" y="208.96" width="4.27" height="4.03" fill="#ffa11a"/><rect x="77.33" y="208.96" width="4.27" height="4.03" fill="#ffaa1a"/><rect x="81.20" y="208.96" width="4.27" height="4.03" fill="#ffb31a"/><rect x="85.07" y="208.96" width="4.27" height="4.03" fill="#ffbd1a"/><rect x="88.93" y="208.96" width="4.27" height="4.03" fill="#ffc41a"/><rect x="92.80" y="208.96" width="4.27" height="4.03" fill="#ffcc1a"/><rect x="96.67" y="208.96" width="4.27" height="4.03" fill="#ffd41a"/><rect x="100.53" y="208.96" width="4.27" height="4.03" fill="#ffeb1a"/><rect x="104.40" y="208.96" width="4.27" height="4.03" fill="#fbff1e"/><rect x="108.27" y="208.96" width="4.27" height="4.03" fill="#e3ff36"/><rect x="112.13" y="208.96" width="4.27" height="4.03" fill="#a1ff78"/><rect x="116.00" y="208.96" width="4.27" height="4.03" fill="#5effba"/><rect x="119.87" y="208.96" width="4.27" height="4.03" fill="#1cfffc"/><rect x="123.73" y="208.96" width="4.27" height="4.03" fill="#1ae8ff"/><rect x="127.60" y="208.96" width="4.27" height="4.03" fill="#1acfff"/><rect x="131.47" y="208.96" width="4.27" height="4.03" fill="#1ab5ff"/><rect x="135.33" y="208.96" width="4.27" height="4.03" fill="#1aaeff"/><rect x="139.20" y="208.96" width="4.27" height="4.03" fill="#1aa6ff"/><rect x="143.07" y="208.96" width="4.27" height="4.03" fill="#1a9fff"/><rect x="146.93" y="208.96" width="4.27" height="4.03" fill="#1a9dff"/><rect x="150.80" y="208.96" width="4.27" height="4.03" fill="#1a9bff"/><rect x="154.67" y="208.96" width="4.27" height="4.03" fill="#1a9aff"/><rect x="158.53" y="208.96" width="4.27" height="4.03" fill="#1a9aff"/><rect x="162.40" y="208.96" width="4.27" height="4.03" fill="#1a9aff"/><rect x="166.27" y="208.96" width="4.27" height="4.03" fill="#1a9aff"/><rect x="170.13" y="208.96" width="4.27" height="4.03" fill="#1a9aff"/><rect x="174.00" y="208.96" width="4.27" height="4.03" fill="#1a9aff"/><rect x="177.87" y="208.96" width="4.27" height="4.03" fill="#1a9aff"/><rect x="181.73" y="208.96" width="4.27" height="4.03" fill="#1a9aff"/><rect x="185.60" y="208.96" width="4.27" height="4.03" fill="#1a9aff"/><rect x="189.47" y="208.96" width="4.27" height="4.03" fill="#1a9aff"/><rect x="193.33" y="208.96" width="4.27" height="4.03" fill="#1a9aff"/><rect x="197.20" y="208.96" width="4.27" height="4.03" fill="#1a9aff"/><rect x="201.07" y="208.96" width="4.27" height="4.03" fill="#1a9aff"/><rect x="204.93" y="208.96" width="4.27" height="4.03" fill="#1a9aff"/><rect x="23.20" y="212.59" width="4.27" height="4.03" fill="#ff8a1a"/><rect x="27.07" y="212.59" width="4.27" height="4.03" fill="#ff8a1a"/><rect x="30.93" y="212.59" width="4.27" height="4.03" fill="#ff911a"/><rect x="34.80" y="212.59" width="4.27" height="4.03" fill="#ff991a"/><rect x="38.67" y="212.59" width="4.27" height="4.03" fill="#ffa11a"/><rect x="42.53" y="212.59" width="4.27" height="4.03" fill="#ffa21a"/><rect x="46.40" y="212.59" width="4.27" height="4.03" fill="#ffa41a"/><rect x="50.27" y="212.59" width="4.27" height="4.03" fill="#ffa61a"/><rect x="54.13" y="212.59" width="4.27" height="4.03" fill="#ff981a"/><rect x="58.00" y="212.59" width="4.27" height="4.03" fill="#ff8b1a"/><rect x="61.87" y="212.59" width="4.27" height="4.03" fill="#ff7d1a"/><rect x="65.73" y="212.59" width="4.27" height="4.03" fill="#ff881a"/><rect x="69.60" y="212.59" width="4.27" height="4.03" fill="#ff931a"/><rect x="73.47" y="212.59" width="4.27" height="4.03" fill="#ff9e1a"/><rect x="77.33" y="212.59" width="4.27" height="4.03" fill="#ffa41a"/><rect x="81.20" y="212.59" width="4.27" height="4.03" fill="#ffaa1a"/><rect x="85.07" y="212.59" width="4.27" height="4.03" fill="#ffb01a"/><rect x="88.93" y="212.59" width="4.27" height="4.03" fill="#ffb51a"/><rect x="92.80" y="212.59" width="4.27" height="4.03" fill="#ffba1a"/><rect x="96.67" y="212.59" width="4.27" height="4.03" fill="#ffbf1a"/><rect x="100.53" y="212.59" width="4.27" height="4.03" fill="#ffd01a"/><rect x="104.40" y="212.59" width="4.27" height="4.03" fill="#ffe11a"/><rect x="108.27" y="212.59" width="4.27" height="4.03" fill="#fff21a"/><rect x="112.13" y="212.59" width="4.27" height="4.03" fill="#bfff59"/><rect x="116.00" y="212.59" width="4.27" height="4.03" fill="#73ffa6"/><rect x="119.87" y="212.59" width="4.27" height="4.03" fill="#26fff2"/><rect x="123.73" y="212.59" width="4.27" height="4.03" fill="#1af2ff"/><rect x="127.60" y="212.59" width="4.27" height="4.03" fill="#1ad9ff"/><rect x="131.47" y="212.59" width="4.27" height="4.03" fill="#1abfff"/><rect x="135.33" y="212.59" width="4.27" height="4.03" fill="#1ab7ff"/><rect x="139.20" y="212.59" width="4.27" height="4.03" fill="#1aafff"/><rect x="143.07" y="212.59" width="4.27" height="4.03" fill="#1aa6ff"/><rect x="146.93" y="212.59" width="4.27" height="4.03" fill="#1aa3ff"/><rect x="150.80" y="212.59" width="4.27" height="4.03" fill="#1a9fff"/><rect x="154.67" y="212.59" width="4.27" height="4.03" fill="#1a9cff"/><rect x="158.53" y="212.59" width="4.27" height="4.03" fill="#1a9cff"/><rect x="162.40" y="212.59" width="4.27" height="4.03" fill="#1a9cff"/><rect x="166.27" y="212.59" width="4.27" height="4.03" fill="#1a9cff"/><rect x="170.13" y="212.59" width="4.27" height="4.03" fill="#1a9cff"/><rect x="174.00" y="212.59" width="4.27" height="4.03" fill="#1a9cff"/><rect x="177.87" y="212.59" width="4.27" height="4.03" fill="#1a9cff"/><rect x="181.73" y="212.59" width="4.27" height="4.03" fill="#1a9cff"/><rect x="185.60" y="212.59" width="4.27" height="4.03" fill="#1a9cff"/><rect x="189.47" y="212.59" width="4.27" height="4.03" fill="#1a9cff"/><rect x="193.33" y="212.59" width="4.27" height="4.03" fill="#1a9cff"/><rect x="197.20" y="212.59" width="4.27" height="4.03" fill="#1a9cff"/><rect x="201.07" y="212.59" width="4.27" height="4.03" fill="#1a9cff"/><rect x="204.93" y="212.59" width="4.27" height="4.03" fill="#1a9cff"/><rect x="23.20" y="216.22" width="4.27" height="4.03" fill="#ff8c1a"/><rect x="27.07" y="216.22" width="4.27" height="4.03" fill="#ff8c1a"/><rect x="30.93" y="216.22" width="4.27" height="4.03" fill="#ff911a"/><rect x="34.80" y="216.22" width="4.27" height="4.03" fill="#ff961a"/><rect x="38.67" y="216.22" width="4.27" height="4.03" fill="#ff9c1a"/><rect x="42.53" y="216.22" width="4.27" height="4.03" fill="#ffa11a"/><rect x="46.40" y="216.22" width="4.27" height="4.03" fill="#ffa61a"/><rect x="50.27" y="216.22" width="4.27" height="4.03" fill="#ffab1a"/><rect x="54.13" y="216.22" width="4.27" height="4.03" fill="#ff9c1a"/><rect x="58.00" y="216.22" width="4.27" height="4.03" fill="#ff8c1a"/><rect x="61.87" y="216.22" width="4.27" height="4.03" fill="#ff7d1a"/><rect x="65.73" y="216.22" width="4.27" height="4.03" fill="#ff871a"/><rect x="69.60" y="216.22" width="4.27" height="4.03" fill="#ff911a"/><rect x="73.47" y="216.22" width="4.27" height="4.03" fill="#ff9c1a"/><rect x="77.33" y="216.22" width="4.27" height="4.03" fill="#ff9e1a"/><rect x="81.20" y="216.22" width="4.27" height="4.03" fill="#ffa11a"/><rect x="85.07" y="216.22" width="4.27" height="4.03" fill="#ffa31a"/><rect x="88.93" y="216.22" width="4.27" height="4.03" fill="#ffa61a"/><rect x="92.80" y="216.22" width="4.27" height="4.03" fill="#ffa81a"/><rect x="96.67" y="216.22" width="4.27" height="4.03" fill="#ffab1a"/><rect x="100.53" y="216.22" width="4.27" height="4.03" fill="#ffb51a"/><rect x="104.40" y="216.22" width="4.27" height="4.03" fill="#ffbf1a"/><rect x="108.27" y="216.22" width="4.27" height="4.03" fill="#ffc91a"/><rect x="112.13" y="216.22" width="4.27" height="4.03" fill="#deff3b"/><rect x="116.00" y="216.22" width="4.27" height="4.03" fill="#87ff91"/><rect x="119.87" y="216.22" width="4.27" height="4.03" fill="#30ffe8"/><rect x="123.73" y="216.22" width="4.27" height="4.03" fill="#1afcff"/><rect x="127.60" y="216.22" width="4.27" height="4.03" fill="#1ae3ff"/><rect x="131.47" y="216.22" width="4.27" height="4.03" fill="#1ac9ff"/><rect x="135.33" y="216.22" width="4.27" height="4.03" fill="#1ac0ff"/><rect x="139.20" y="216.22" width="4.27" height="4.03" fill="#1ab7ff"/><rect x="143.07" y="216.22" width="4.27" height="4.03" fill="#1aaeff"/><rect x="146.93" y="216.22" width="4.27" height="4.03" fill="#1aa9ff"/><rect x="150.80" y="216.22" width="4.27" height="4.03" fill="#1aa4ff"/><rect x="154.67" y="216.22" width="4.27" height="4.03" fill="#1a9fff"/><rect x="158.53" y="216.22" width="4.27" height="4.03" fill="#1a9fff"/><rect x="162.40" y="216.22" width="4.27" height="4.03" fill="#1a9fff"/><rect x="166.27" y="216.22" width="4.27" height="4.03" fill="#1a9fff"/><rect x="170.13" y="216.22" width="4.27" height="4.03" fill="#1a9fff"/><rect x="174.00" y="216.22" width="4.27" height="4.03" fill="#1a9fff"/><rect x="177.87" y="216.22" width="4.27" height="4.03" fill="#1a9fff"/><rect x="181.73" y="216.22" width="4.27" height="4.03" fill="#1a9fff"/><rect x="185.60" y="216.22" width="4.27" height="4.03" fill="#1a9fff"/><rect x="189.47" y="216.22" width="4.27" height="4.03" fill="#1a9fff"/><rect x="193.33" y="216.22" width="4.27" height="4.03" fill="#1a9fff"/><rect x="197.20" y="216.22" width="4.27" height="4.03" fill="#1a9fff"/><rect x="201.07" y="216.22" width="4.27" height="4.03" fill="#1a9fff"/><rect x="204.93" y="216.22" width="4.27" height="4.03" fill="#1a9fff"/><rect x="23.20" y="219.85" width="4.27" height="4.03" fill="#ff7d1a"/><rect x="27.07" y="219.85" width="4.27" height="4.03" fill="#ff7d1a"/><rect x="30.93" y="219.85" width="4.27" height="4.03" fill="#ff7f1a"/><rect x="34.80" y="219.85" width="4.27" height="4.03" fill="#ff801a"/><rect x="38.67" y="219.85" width="4.27" height="4.03" fill="#ff821a"/><rect x="42.53" y="219.85" width="4.27" height="4.03" fill="#ff871a"/><rect x="46.40" y="219.85" width="4.27" height="4.03" fill="#ff8c1a"/><rect x="50.27" y="219.85" width="4.27" height="4.03" fill="#ff911a"/><rect x="54.13" y="219.85" width="4.27" height="4.03" fill="#ff8c1a"/><rect x="58.00" y="219.85" width="4.27" height="4.03" fill="#ff871a"/><rect x="61.87" y="219.85" width="4.27" height="4.03" fill="#ff821a"/><rect x="65.73" y="219.85" width="4.27" height="4.03" fill="#ff891a"/><rect x="69.60" y="219.85" width="4.27" height="4.03" fill="#ff901a"/><rect x="73.47" y="219.85" width="4.27" height="4.03" fill="#ff961a"/><rect x="77.33" y="219.85" width="4.27" height="4.03" fill="#ff9b1a"/><rect x="81.20" y="219.85" width="4.27" height="4.03" fill="#ff9f1a"/><rect x="85.07" y="219.85" width="4.27" height="4.03" fill="#ffa31a"/><rect x="88.93" y="219.85" width="4.27" height="4.03" fill="#ffa61a"/><rect x="92.80" y="219.85" width="4.27" height="4.03" fill="#ffa81a"/><rect x="96.67" y="219.85" width="4.27" height="4.03" fill="#ffab1a"/><rect x="100.53" y="219.85" width="4.27" height="4.03" fill="#ffb71a"/><rect x="104.40" y="219.85" width="4.27" height="4.03" fill="#ffc31a"/><rect x="108.27" y="219.85" width="4.27" height="4.03" fill="#ffcf1a"/><rect x="112.13" y="219.85" width="4.27" height="4.03" fill="#dcff3c"/><rect x="116.00" y="219.85" width="4.27" height="4.03" fill="#89ff90"/><rect x="119.87" y="219.85" width="4.27" height="4.03" fill="#36ffe3"/><rect x="123.73" y="219.85" width="4.27" height="4.03" fill="#21fff7"/><rect x="127.60" y="219.85" width="4.27" height="4.03" fill="#1af2ff"/><rect x="131.47" y="219.85" width="4.27" height="4.03" fill="#1adeff"/><rect x="135.33" y="219.85" width="4.27" height="4.03" fill="#1ad6ff"/><rect x="139.20" y="219.85" width="4.27" height="4.03" fill="#1aceff"/><rect x="143.07" y="219.85" width="4.27" height="4.03" fill="#1ac6ff"/><rect x="146.93" y="219.85" width="4.27" height="4.03" fill="#1ac3ff"/><rect x="150.80" y="219.85" width="4.27" height="4.03" fill="#1ac0ff"/><rect x="154.67" y="219.85" width="4.27" height="4.03" fill="#1abcff"/><rect x="158.53" y="219.85" width="4.27" height="4.03" fill="#1abcff"/><rect x="162.40" y="219.85" width="4.27" height="4.03" fill="#1abcff"/><rect x="166.27" y="219.85" width="4.27" height="4.03" fill="#1abcff"/><rect x="170.13" y="219.85" width="4.27" height="4.03" fill="#1abcff"/><rect x="174.00" y="219.85" width="4.27" height="4.03" fill="#1abcff"/><rect x="177.87" y="219.85" width="4.27" height="4.03" fill="#1abcff"/><rect x="181.73" y="219.85" width="4.27" height="4.03" fill="#1abcff"/><rect x="185.60" y="219.85" width="4.27" height="4.03" fill="#1abcff"/><rect x="189.47" y="219.85" width="4.27" height="4.03" fill="#1abcff"/><rect x="193.33" y="219.85" width="4.27" height="4.03" fill="#1abcff"/><rect x="197.20" y="219.85" width="4.27" height="4.03" fill="#1abcff"/><rect x="201.07" y="219.85" width="4.27" height="4.03" fill="#1abcff"/><rect x="204.93" y="219.85" width="4.27" height="4.03" fill="#1abcff"/><rect x="23.20" y="223.47" width="4.27" height="4.03" fill="#ff6e1a"/><rect x="27.07" y="223.47" width="4.27" height="4.03" fill="#ff6e1a"/><rect x="30.93" y="223.47" width="4.27" height="4.03" fill="#ff6c1a"/><rect x="34.80" y="223.47" width="4.27" height="4.03" fill="#ff6a1a"/><rect x="38.67" y="223.47" width="4.27" height="4.03" fill="#ff691a"/><rect x="42.53" y="223.47" width="4.27" height="4.03" fill="#ff6e1a"/><rect x="46.40" y="223.47" width="4.27" height="4.03" fill="#ff731a"/><rect x="50.27" y="223.47" width="4.27" height="4.03" fill="#ff781a"/><rect x="54.13" y="223.47" width="4.27" height="4.03" fill="#ff7d1a"/><rect x="58.00" y="223.47" width="4.27" height="4.03" fill="#ff821a"/><rect x="61.87" y="223.47" width="4.27" height="4.03" fill="#ff871a"/><rect x="65.73" y="223.47" width="4.27" height="4.03" fill="#ff8b1a"/><rect x="69.60" y="223.47" width="4.27" height="4.03" fill="#ff8e1a"/><rect x="73.47" y="223.47" width="4.27" height="4.03" fill="#ff911a"/><rect x="77.33" y="223.47" width="4.27" height="4.03" fill="#ff971a"/><rect x="81.20" y="223.47" width="4.27" height="4.03" fill="#ff9d1a"/><rect x="85.07" y="223.47" width="4.27" height="4.03" fill="#ffa31a"/><rect x="88.93" y="223.47" width="4.27" height="4.03" fill="#ffa61a"/><rect x="92.80" y="223.47" width="4.27" height="4.03" fill="#ffa81a"/><rect x="96.67" y="223.47" width="4.27" height="4.03" fill="#ffab1a"/><rect x="100.53" y="223.47" width="4.27" height="4.03" fill="#ffb81a"/><rect x="104.40" y="223.47" width="4.27" height="4.03" fill="#ffc61a"/><rect x="108.27" y="223.47" width="4.27" height="4.03" fill="#ffd41a"/><rect x="112.13" y="223.47" width="4.27" height="4.03" fill="#daff3e"/><rect x="116.00" y="223.47" width="4.27" height="4.03" fill="#8bff8e"/><rect x="119.87" y="223.47" width="4.27" height="4.03" fill="#3bffde"/><rect x="123.73" y="223.47" width="4.27" height="4.03" fill="#2bffed"/><rect x="127.60" y="223.47" width="4.27" height="4.03" fill="#1cfffc"/><rect x="131.47" y="223.47" width="4.27" height="4.03" fill="#1af2ff"/><rect x="135.33" y="223.47" width="4.27" height="4.03" fill="#1aecff"/><rect x="139.20" y="223.47" width="4.27" height="4.03" fill="#1ae5ff"/><rect x="143.07" y="223.47" width="4.27" height="4.03" fill="#1adfff"/><rect x="146.93" y="223.47" width="4.27" height="4.03" fill="#1addff"/><rect x="150.80" y="223.47" width="4.27" height="4.03" fill="#1adbff"/><rect x="154.67" y="223.47" width="4.27" height="4.03" fill="#1adaff"/><rect x="158.53" y="223.47" width="4.27" height="4.03" fill="#1adaff"/><rect x="162.40" y="223.47" width="4.27" height="4.03" fill="#1adaff"/><rect x="166.27" y="223.47" width="4.27" height="4.03" fill="#1adaff"/><rect x="170.13" y="223.47" width="4.27" height="4.03" fill="#1adaff"/><rect x="174.00" y="223.47" width="4.27" height="4.03" fill="#1adaff"/><rect x="177.87" y="223.47" width="4.27" height="4.03" fill="#1adaff"/><rect x="181.73" y="223.47" width="4.27" height="4.03" fill="#1adaff"/><rect x="185.60" y="223.47" width="4.27" height="4.03" fill="#1adaff"/><rect x="189.47" y="223.47" width="4.27" height="4.03" fill="#1adaff"/><rect x="193.33" y="223.47" width="4.27" height="4.03" fill="#1adaff"/><rect x="197.20" y="223.47" width="4.27" height="4.03" fill="#1adaff"/><rect x="201.07" y="223.47" width="4.27" height="4.03" fill="#1adaff"/><rect x="204.93" y="223.47" width="4.27" height="4.03" fill="#1adaff"/><rect x="23.20" y="227.10" width="4.27" height="4.03" fill="#ff5e1a"/><rect x="27.07" y="227.10" width="4.27" height="4.03" fill="#ff5e1a"/><rect x="30.93" y="227.10" width="4.27" height="4.03" fill="#ff591a"/><rect x="34.80" y="227.10" width="4.27" height="4.03" fill="#ff541a"/><rect x="38.67" y="227.10" width="4.27" height="4.03" fill="#ff4f1a"/><rect x="42.53" y="227.10" width="4.27" height="4.03" fill="#ff541a"/><rect x="46.40" y="227.10" width="4.27" height="4.03" fill="#ff591a"/><rect x="50.27" y="227.10" width="4.27" height="4.03" fill="#ff5e1a"/><rect x="54.13" y="227.10" width="4.27" height="4.03" fill="#ff6e1a"/><rect x="58.00" y="227.10" width="4.27" height="4.03" fill="#ff7d1a"/><rect x="61.87" y="227.10" width="4.27" height="4.03" fill="#ff8c1a"/><rect x="65.73" y="227.10" width="4.27" height="4.03" fill="#ff8c1a"/><rect x="69.60" y="227.10" width="4.27" height="4.03" fill="#ff8c1a"/><rect x="73.47" y="227.10" width="4.27" height="4.03" fill="#ff8c1a"/><rect x="77.33" y="227.10" width="4.27" height="4.03" fill="#ff941a"/><rect x="81.20" y="227.10" width="4.27" height="4.03" fill="#ff9c1a"/><rect x="85.07" y="227.10" width="4.27" height="4.03" fill="#ffa31a"/><rect x="88.93" y="227.10" width="4.27" height="4.03" fill="#ffa61a"/><rect x="92.80" y="227.10" width="4.27" height="4.03" fill="#ffa81a"/><rect x="96.67" y="227.10" width="4.27" height="4.03" fill="#ffab1a"/><rect x="100.53" y="227.10" width="4.27" height="4.03" fill="#ffba1a"/><rect x="104.40" y="227.10" width="4.27" height="4.03" fill="#ffc91a"/><rect x="108.27" y="227.10" width="4.27" height="4.03" fill="#ffd91a"/><rect x="112.13" y="227.10" width="4.27" height="4.03" fill="#d9ff40"/><rect x="116.00" y="227.10" width="4.27" height="4.03" fill="#8cff8c"/><rect x="119.87" y="227.10" width="4.27" height="4.03" fill="#40ffd9"/><rect x="123.73" y="227.10" width="4.27" height="4.03" fill="#36ffe3"/><rect x="127.60" y="227.10" width="4.27" height="4.03" fill="#2bffed"/><rect x="131.47" y="227.10" width="4.27" height="4.03" fill="#21fff7"/><rect x="135.33" y="227.10" width="4.27" height="4.03" fill="#1cfffc"/><rect x="139.20" y="227.10" width="4.27" height="4.03" fill="#1afcff"/><rect x="143.07" y="227.10" width="4.27" height="4.03" fill="#1af7ff"/><rect x="146.93" y="227.10" width="4.27" height="4.03" fill="#1af7ff"/><rect x="150.80" y="227.10" width="4.27" height="4.03" fill="#1af7ff"/><rect x="154.67" y="227.10" width="4.27" height="4.03" fill="#1af7ff"/><rect x="158.53" y="227.10" width="4.27" height="4.03" fill="#1af7ff"/><rect x="162.40" y="227.10" width="4.27" height="4.03" fill="#1af7ff"/><rect x="166.27" y="227.10" width="4.27" height="4.03" fill="#1af7ff"/><rect x="170.13" y="227.10" width="4.27" height="4.03" fill="#1af7ff"/><rect x="174.00" y="227.10" width="4.27" height="4.03" fill="#1af7ff"/><rect x="177.87" y="227.10" width="4.27" height="4.03" fill="#1af7ff"/><rect x="181.73" y="227.10" width="4.27" height="4.03" fill="#1af7ff"/><rect x="185.60" y="227.10" width="4.27" height="4.03" fill="#1af7ff"/><rect x="189.47" y="227.10" width="4.27" height="4.03" fill="#1af7ff"/><rect x="193.33" y="227.10" width="4.27" height="4.03" fill="#1af7ff"/><rect x="197.20" y="227.10" width="4.27" height="4.03" fill="#1af7ff"/><rect x="201.07" y="227.10" width="4.27" height="4.03" fill="#1af7ff"/><rect x="204.93" y="227.10" width="4.27" height="4.03" fill="#1af7ff"/><rect x="23.20" y="230.73" width="4.27" height="4.03" fill="#ff591a"/><rect x="27.07" y="230.73" width="4.27" height="4.03" fill="#ff591a"/><rect x="30.93" y="230.73" width="4.27" height="4.03" fill="#ff541a"/><rect x="34.80" y="230.73" width="4.27" height="4.03" fill="#ff4f1a"/><rect x="38.67" y="230.73" width="4.27" height="4.03" fill="#ff4a1a"/><rect x="42.53" y="230.73" width="4.27" height="4.03" fill="#ff4e1a"/><rect x="46.40" y="230.73" width="4.27" height="4.03" fill="#ff521a"/><rect x="50.27" y="230.73" width="4.27" height="4.03" fill="#ff571a"/><rect x="54.13" y="230.73" width="4.27" height="4.03" fill="#ff671a"/><rect x="58.00" y="230.73" width="4.27" height="4.03" fill="#ff771a"/><rect x="61.87" y="230.73" width="4.27" height="4.03" fill="#ff871a"/><rect x="65.73" y="230.73" width="4.27" height="4.03" fill="#ff8b1a"/><rect x="69.60" y="230.73" width="4.27" height="4.03" fill="#ff8e1a"/><rect x="73.47" y="230.73" width="4.27" height="4.03" fill="#ff911a"/><rect x="77.33" y="230.73" width="4.27" height="4.03" fill="#ff9a1a"/><rect x="81.20" y="230.73" width="4.27" height="4.03" fill="#ffa21a"/><rect x="85.07" y="230.73" width="4.27" height="4.03" fill="#ffab1a"/><rect x="88.93" y="230.73" width="4.27" height="4.03" fill="#ffb21a"/><rect x="92.80" y="230.73" width="4.27" height="4.03" fill="#ffba1a"/><rect x="96.67" y="230.73" width="4.27" height="4.03" fill="#ffc21a"/><rect x="100.53" y="230.73" width="4.27" height="4.03" fill="#ffd21a"/><rect x="104.40" y="230.73" width="4.27" height="4.03" fill="#ffe21a"/><rect x="108.27" y="230.73" width="4.27" height="4.03" fill="#fff21a"/><rect x="112.13" y="230.73" width="4.27" height="4.03" fill="#c9ff4f"/><rect x="116.00" y="230.73" width="4.27" height="4.03" fill="#87ff91"/><rect x="119.87" y="230.73" width="4.27" height="4.03" fill="#45ffd4"/><rect x="123.73" y="230.73" width="4.27" height="4.03" fill="#39ffe0"/><rect x="127.60" y="230.73" width="4.27" height="4.03" fill="#2dffeb"/><rect x="131.47" y="230.73" width="4.27" height="4.03" fill="#21fff7"/><rect x="135.33" y="230.73" width="4.27" height="4.03" fill="#1cfffc"/><rect x="139.20" y="230.73" width="4.27" height="4.03" fill="#1afcff"/><rect x="143.07" y="230.73" width="4.27" height="4.03" fill="#1af7ff"/><rect x="146.93" y="230.73" width="4.27" height="4.03" fill="#1af7ff"/><rect x="150.80" y="230.73" width="4.27" height="4.03" fill="#1af7ff"/><rect x="154.67" y="230.73" width="4.27" height="4.03" fill="#1af7ff"/><rect x="158.53" y="230.73" width="4.27" height="4.03" fill="#1af7ff"/><rect x="162.40" y="230.73" width="4.27" height="4.03" fill="#1af7ff"/><rect x="166.27" y="230.73" width="4.27" height="4.03" fill="#1af7ff"/><rect x="170.13" y="230.73" width="4.27" height="4.03" fill="#1af7ff"/><rect x="174.00" y="230.73" width="4.27" height="4.03" fill="#1af7ff"/><rect x="177.87" y="230.73" width="4.27" height="4.03" fill="#1af7ff"/><rect x="181.73" y="230.73" width="4.27" height="4.03" fill="#1af7ff"/><rect x="185.60" y="230.73" width="4.27" height="4.03" fill="#1af7ff"/><rect x="189.47" y="230.73" width="4.27" height="4.03" fill="#1af7ff"/><rect x="193.33" y="230.73" width="4.27" height="4.03" fill="#1af7ff"/><rect x="197.20" y="230.73" width="4.27" height="4.03" fill="#1af7ff"/><rect x="201.07" y="230.73" width="4.27" height="4.03" fill="#1af7ff"/><rect x="204.93" y="230.73" width="4.27" height="4.03" fill="#1af7ff"/><rect x="23.20" y="234.35" width="4.27" height="4.03" fill="#ff541a"/><rect x="27.07" y="234.35" width="4.27" height="4.03" fill="#ff541a"/><rect x="30.93" y="234.35" width="4.27" height="4.03" fill="#ff4f1a"/><rect x="34.80" y="234.35" width="4.27" height="4.03" fill="#ff4a1a"/><rect x="38.67" y="234.35" width="4.27" height="4.03" fill="#ff451a"/><rect x="42.53" y="234.35" width="4.27" height="4.03" fill="#ff481a"/><rect x="46.40" y="234.35" width="4.27" height="4.03" fill="#ff4c1a"/><rect x="50.27" y="234.35" width="4.27" height="4.03" fill="#ff4f1a"/><rect x="54.13" y="234.35" width="4.27" height="4.03" fill="#ff601a"/><rect x="58.00" y="234.35" width="4.27" height="4.03" fill="#ff711a"/><rect x="61.87" y="234.35" width="4.27" height="4.03" fill="#ff821a"/><rect x="65.73" y="234.35" width="4.27" height="4.03" fill="#ff891a"/><rect x="69.60" y="234.35" width="4.27" height="4.03" fill="#ff901a"/><rect x="73.47" y="234.35" width="4.27" height="4.03" fill="#ff961a"/><rect x="77.33" y="234.35" width="4.27" height="4.03" fill="#ffa01a"/><rect x="81.20" y="234.35" width="4.27" height="4.03" fill="#ffa91a"/><rect x="85.07" y="234.35" width="4.27" height="4.03" fill="#ffb21a"/><rect x="88.93" y="234.35" width="4.27" height="4.03" fill="#ffbf1a"/><rect x="92.80" y="234.35" width="4.27" height="4.03" fill="#ffcc1a"/><rect x="96.67" y="234.35" width="4.27" height="4.03" fill="#ffd91a"/><rect x="100.53" y="234.35" width="4.27" height="4.03" fill="#ffea1a"/><rect x="104.40" y="234.35" width="4.27" height="4.03" fill="#fffb1a"/><rect x="108.27" y="234.35" width="4.27" height="4.03" fill="#f2ff26"/><rect x="112.13" y="234.35" width="4.27" height="4.03" fill="#baff5e"/><rect x="116.00" y="234.35" width="4.27" height="4.03" fill="#82ff96"/><rect x="119.87" y="234.35" width="4.27" height="4.03" fill="#4affcf"/><rect x="123.73" y="234.35" width="4.27" height="4.03" fill="#3cffdc"/><rect x="127.60" y="234.35" width="4.27" height="4.03" fill="#2fffea"/><rect x="131.47" y="234.35" width="4.27" height="4.03" fill="#21fff7"/><rect x="135.33" y="234.35" width="4.27" height="4.03" fill="#1cfffc"/><rect x="139.20" y="234.35" width="4.27" height="4.03" fill="#1afcff"/><rect x="143.07" y="234.35" width="4.27" height="4.03" fill="#1af7ff"/><rect x="146.93" y="234.35" width="4.27" height="4.03" fill="#1af7ff"/><rect x="150.80" y="234.35" width="4.27" height="4.03" fill="#1af7ff"/><rect x="154.67" y="234.35" width="4.27" height="4.03" fill="#1af7ff"/><rect x="158.53" y="234.35" width="4.27" height="4.03" fill="#1af7ff"/><rect x="162.40" y="234.35" width="4.27" height="4.03" fill="#1af7ff"/><rect x="166.27" y="234.35" width="4.27" height="4.03" fill="#1af7ff"/><rect x="170.13" y="234.35" width="4.27" height="4.03" fill="#1af7ff"/><rect x="174.00" y="234.35" width="4.27" height="4.03" fill="#1af7ff"/><rect x="177.87" y="234.35" width="4.27" height="4.03" fill="#1af7ff"/><rect x="181.73" y="234.35" width="4.27" height="4.03" fill="#1af7ff"/><rect x="185.60" y="234.35" width="4.27" height="4.03" fill="#1af7ff"/><rect x="189.47" y="234.35" width="4.27" height="4.03" fill="#1af7ff"/><rect x="193.33" y="234.35" width="4.27" height="4.03" fill="#1af7ff"/><rect x="197.20" y="234.35" width="4.27" height="4.03" fill="#1af7ff"/><rect x="201.07" y="234.35" width="4.27" height="4.03" fill="#1af7ff"/><rect x="204.93" y="234.35" width="4.27" height="4.03" fill="#1af7ff"/><rect x="23.20" y="237.98" width="4.27" height="4.03" fill="#ff4f1a"/><rect x="27.07" y="237.98" width="4.27" height="4.03" fill="#ff4f1a"/><rect x="30.93" y="237.98" width="4.27" height="4.03" fill="#ff4a1a"/><rect x="34.80" y="237.98" width="4.27" height="4.03" fill="#ff451a"/><rect x="38.67" y="237.98" width="4.27" height="4.03" fill="#ff401a"/><rect x="42.53" y="237.98" width="4.27" height="4.03" fill="#ff421a"/><rect x="46.40" y="237.98" width="4.27" height="4.03" fill="#ff451a"/><rect x="50.27" y="237.98" width="4.27" height="4.03" fill="#ff471a"/><rect x="54.13" y="237.98" width="4.27" height="4.03" fill="#ff591a"/><rect x="58.00" y="237.98" width="4.27" height="4.03" fill="#ff6b1a"/><rect x="61.87" y="237.98" width="4.27" height="4.03" fill="#ff7d1a"/><rect x="65.73" y="237.98" width="4.27" height="4.03" fill="#ff871a"/><rect x="69.60" y="237.98" width="4.27" height="4.03" fill="#ff911a"/><rect x="73.47" y="237.98" width="4.27" height="4.03" fill="#ff9c1a"/><rect x="77.33" y="237.98" width="4.27" height="4.03" fill="#ffa61a"/><rect x="81.20" y="237.98" width="4.27" height="4.03" fill="#ffb01a"/><rect x="85.07" y="237.98" width="4.27" height="4.03" fill="#ffba1a"/><rect x="88.93" y="237.98" width="4.27" height="4.03" fill="#ffcc1a"/><rect x="92.80" y="237.98" width="4.27" height="4.03" fill="#ffde1a"/><rect x="96.67" y="237.98" width="4.27" height="4.03" fill="#fff01a"/><rect x="100.53" y="237.98" width="4.27" height="4.03" fill="#fcff1c"/><rect x="104.40" y="237.98" width="4.27" height="4.03" fill="#ebff2e"/><rect x="108.27" y="237.98" width="4.27" height="4.03" fill="#d9ff40"/><rect x="112.13" y="237.98" width="4.27" height="4.03" fill="#abff6e"/><rect x="116.00" y="237.98" width="4.27" height="4.03" fill="#7dff9c"/><rect x="119.87" y="237.98" width="4.27" height="4.03" fill="#4fffc9"/><rect x="123.73" y="237.98" width="4.27" height="4.03" fill="#40ffd9"/><rect x="127.60" y="237.98" width="4.27" height="4.03" fill="#30ffe8"/><rect x="131.47" y="237.98" width="4.27" height="4.03" fill="#21fff7"/><rect x="135.33" y="237.98" width="4.27" height="4.03" fill="#1cfffc"/><rect x="139.20" y="237.98" width="4.27" height="4.03" fill="#1afcff"/><rect x="143.07" y="237.98" width="4.27" height="4.03" fill="#1af7ff"/><rect x="146.93" y="237.98" width="4.27" height="4.03" fill="#1af7ff"/><rect x="150.80" y="237.98" width="4.27" height="4.03" fill="#1af7ff"/><rect x="154.67" y="237.98" width="4.27" height="4.03" fill="#1af7ff"/><rect x="158.53" y="237.98" width="4.27" height="4.03" fill="#1af7ff"/><rect x="162.40" y="237.98" width="4.27" height="4.03" fill="#1af7ff"/><rect x="166.27" y="237.98" width="4.27" height="4.03" fill="#1af7ff"/><rect x="170.13" y="237.98" width="4.27" height="4.03" fill="#1af7ff"/><rect x="174.00" y="237.98" width="4.27" height="4.03" fill="#1af7ff"/><rect x="177.87" y="237.98" width="4.27" height="4.03" fill="#1af7ff"/><rect x="181.73" y="237.98" width="4.27" height="4.03" fill="#1af7ff"/><rect x="185.60" y="237.98" width="4.27" height="4.03" fill="#1af7ff"/><rect x="189.47" y="237.98" width="4.27" height="4.03" fill="#1af7ff"/><rect x="193.33" y="237.98" width="4.27" height="4.03" fill="#1af7ff"/><rect x="197.20" y="237.98" width="4.27" height="4.03" fill="#1af7ff"/><rect x="201.07" y="237.98" width="4.27" height="4.03" fill="#1af7ff"/><rect x="204.93" y="237.98" width="4.27" height="4.03" fill="#1af7ff"/><rect x="23.20" y="241.61" width="4.27" height="4.03" fill="#ff4f1a"/><rect x="27.07" y="241.61" width="4.27" height="4.03" fill="#ff4f1a"/><rect x="30.93" y="241.61" width="4.27" height="4.03" fill="#ff4a1a"/><rect x="34.80" y="241.61" width="4.27" height="4.03" fill="#ff451a"/><rect x="38.67" y="241.61" width="4.27" height="4.03" fill="#ff401a"/><rect x="42.53" y="241.61" width="4.27" height="4.03" fill="#ff431a"/><rect x="46.40" y="241.61" width="4.27" height="4.03" fill="#ff471a"/><rect x="50.27" y="241.61" width="4.27" height="4.03" fill="#ff4a1a"/><rect x="54.13" y="241.61" width="4.27" height="4.03" fill="#ff621a"/><rect x="58.00" y="241.61" width="4.27" height="4.03" fill="#ff7a1a"/><rect x="61.87" y="241.61" width="4.27" height="4.03" fill="#ff911a"/><rect x="65.73" y="241.61" width="4.27" height="4.03" fill="#ff9c1a"/><rect x="69.60" y="241.61" width="4.27" height="4.03" fill="#ffa61a"/><rect x="73.47" y="241.61" width="4.27" height="4.03" fill="#ffb01a"/><rect x="77.33" y="241.61" width="4.27" height="4.03" fill="#ffb71a"/><rect x="81.20" y="241.61" width="4.27" height="4.03" fill="#ffbe1a"/><rect x="85.07" y="241.61" width="4.27" height="4.03" fill="#ffc41a"/><rect x="88.93" y="241.61" width="4.27" height="4.03" fill="#ffd41a"/><rect x="92.80" y="241.61" width="4.27" height="4.03" fill="#ffe51a"/><rect x="96.67" y="241.61" width="4.27" height="4.03" fill="#fff51a"/><rect x="100.53" y="241.61" width="4.27" height="4.03" fill="#f7ff22"/><rect x="104.40" y="241.61" width="4.27" height="4.03" fill="#e4ff35"/><rect x="108.27" y="241.61" width="4.27" height="4.03" fill="#d1ff47"/><rect x="112.13" y="241.61" width="4.27" height="4.03" fill="#a7ff71"/><rect x="116.00" y="241.61" width="4.27" height="4.03" fill="#7eff9b"/><rect x="119.87" y="241.61" width="4.27" height="4.03" fill="#54ffc4"/><rect x="123.73" y="241.61" width="4.27" height="4.03" fill="#43ffd5"/><rect x="127.60" y="241.61" width="4.27" height="4.03" fill="#32ffe6"/><rect x="131.47" y="241.61" width="4.27" height="4.03" fill="#21fff7"/><rect x="135.33" y="241.61" width="4.27" height="4.03" fill="#1cfffc"/><rect x="139.20" y="241.61" width="4.27" height="4.03" fill="#1afcff"/><rect x="143.07" y="241.61" width="4.27" height="4.03" fill="#1af7ff"/><rect x="146.93" y="241.61" width="4.27" height="4.03" fill="#1af7ff"/><rect x="150.80" y="241.61" width="4.27" height="4.03" fill="#1af7ff"/><rect x="154.67" y="241.61" width="4.27" height="4.03" fill="#1af7ff"/><rect x="158.53" y="241.61" width="4.27" height="4.03" fill="#1af7ff"/><rect x="162.40" y="241.61" width="4.27" height="4.03" fill="#1af7ff"/><rect x="166.27" y="241.61" width="4.27" height="4.03" fill="#1af7ff"/><rect x="170.13" y="241.61" width="4.27" height="4.03" fill="#1af7ff"/><rect x="174.00" y="241.61" width="4.27" height="4.03" fill="#1af7ff"/><rect x="177.87" y="241.61" width="4.27" height="4.03" fill="#1af7ff"/><rect x="181.73" y="241.61" width="4.27" height="4.03" fill="#1af7ff"/><rect x="185.60" y="241.61" width="4.27" height="4.03" fill="#1af7ff"/><rect x="189.47" y="241.61" width="4.27" height="4.03" fill="#1af7ff"/><rect x="193.33" y="241.61" width="4.27" height="4.03" fill="#1af7ff"/><rect x="197.20" y="241.61" width="4.27" height="4.03" fill="#1af7ff"/><rect x="201.07" y="241.61" width="4.27" height="4.03" fill="#1af7ff"/><rect x="204.93" y="241.61" width="4.27" height="4.03" fill="#1af7ff"/><rect x="23.20" y="245.24" width="4.27" height="4.03" fill="#ff4f1a"/><rect x="27.07" y="245.24" width="4.27" height="4.03" fill="#ff4f1a"/><rect x="30.93" y="245.24" width="4.27" height="4.03" fill="#ff4a1a"/><rect x="34.80" y="245.24" width="4.27" height="4.03" fill="#ff451a"/><rect x="38.67" y="245.24" width="4.27" height="4.03" fill="#ff401a"/><rect x="42.53" y="245.24" width="4.27" height="4.03" fill="#ff441a"/><rect x="46.40" y="245.24" width="4.27" height="4.03" fill="#ff481a"/><rect x="50.27" y="245.24" width="4.27" height="4.03" fill="#ff4d1a"/><rect x="54.13" y="245.24" width="4.27" height="4.03" fill="#ff6a1a"/><rect x="58.00" y="245.24" width="4.27" height="4.03" fill="#ff881a"/><rect x="61.87" y="245.24" width="4.27" height="4.03" fill="#ffa61a"/><rect x="65.73" y="245.24" width="4.27" height="4.03" fill="#ffb01a"/><rect x="69.60" y="245.24" width="4.27" height="4.03" fill="#ffba1a"/><rect x="73.47" y="245.24" width="4.27" height="4.03" fill="#ffc41a"/><rect x="77.33" y="245.24" width="4.27" height="4.03" fill="#ffc81a"/><rect x="81.20" y="245.24" width="4.27" height="4.03" fill="#ffcb1a"/><rect x="85.07" y="245.24" width="4.27" height="4.03" fill="#ffcf1a"/><rect x="88.93" y="245.24" width="4.27" height="4.03" fill="#ffdd1a"/><rect x="92.80" y="245.24" width="4.27" height="4.03" fill="#ffeb1a"/><rect x="96.67" y="245.24" width="4.27" height="4.03" fill="#fffa1a"/><rect x="100.53" y="245.24" width="4.27" height="4.03" fill="#f1ff28"/><rect x="104.40" y="245.24" width="4.27" height="4.03" fill="#ddff3b"/><rect x="108.27" y="245.24" width="4.27" height="4.03" fill="#c9ff4f"/><rect x="112.13" y="245.24" width="4.27" height="4.03" fill="#a4ff74"/><rect x="116.00" y="245.24" width="4.27" height="4.03" fill="#7fff9a"/><rect x="119.87" y="245.24" width="4.27" height="4.03" fill="#59ffbf"/><rect x="123.73" y="245.24" width="4.27" height="4.03" fill="#47ffd2"/><rect x="127.60" y="245.24" width="4.27" height="4.03" fill="#34ffe5"/><rect x="131.47" y="245.24" width="4.27" height="4.03" fill="#21fff7"/><rect x="135.33" y="245.24" width="4.27" height="4.03" fill="#1cfffc"/><rect x="139.20" y="245.24" width="4.27" height="4.03" fill="#1afcff"/><rect x="143.07" y="245.24" width="4.27" height="4.03" fill="#1af7ff"/><rect x="146.93" y="245.24" width="4.27" height="4.03" fill="#1af7ff"/><rect x="150.80" y="245.24" width="4.27" height="4.03" fill="#1af7ff"/><rect x="154.67" y="245.24" width="4.27" height="4.03" fill="#1af7ff"/><rect x="158.53" y="245.24" width="4.27" height="4.03" fill="#1af7ff"/><rect x="162.40" y="245.24" width="4.27" height="4.03" fill="#1af7ff"/><rect x="166.27" y="245.24" width="4.27" height="4.03" fill="#1af7ff"/><rect x="170.13" y="245.24" width="4.27" height="4.03" fill="#1af7ff"/><rect x="174.00" y="245.24" width="4.27" height="4.03" fill="#1af7ff"/><rect x="177.87" y="245.24" width="4.27" height="4.03" fill="#1af7ff"/><rect x="181.73" y="245.24" width="4.27" height="4.03" fill="#1af7ff"/><rect x="185.60" y="245.24" width="4.27" height="4.03" fill="#1af7ff"/><rect x="189.47" y="245.24" width="4.27" height="4.03" fill="#1af7ff"/><rect x="193.33" y="245.24" width="4.27" height="4.03" fill="#1af7ff"/><rect x="197.20" y="245.24" width="4.27" height="4.03" fill="#1af7ff"/><rect x="201.07" y="245.24" width="4.27" height="4.03" fill="#1af7ff"/><rect x="204.93" y="245.24" width="4.27" height="4.03" fill="#1af7ff"/><rect x="23.20" y="248.86" width="4.27" height="4.03" fill="#ff4f1a"/><rect x="27.07" y="248.86" width="4.27" height="4.03" fill="#ff4f1a"/><rect x="30.93" y="248.86" width="4.27" height="4.03" fill="#ff4a1a"/><rect x="34.80" y="248.86" width="4.27" height="4.03" fill="#ff451a"/><rect x="38.67" y="248.86" width="4.27" height="4.03" fill="#ff401a"/><rect x="42.53" y="248.86" width="4.27" height="4.03" fill="#ff451a"/><rect x="46.40" y="248.86" width="4.27" height="4.03" fill="#ff4a1a"/><rect x="50.27" y="248.86" width="4.27" height="4.03" fill="#ff4f1a"/><rect x="54.13" y="248.86" width="4.27" height="4.03" fill="#ff731a"/><rect x="58.00" y="248.86" width="4.27" height="4.03" fill="#ff961a"/><rect x="61.87" y="248.86" width="4.27" height="4.03" fill="#ffba1a"/><rect x="65.73" y="248.86" width="4.27" height="4.03" fill="#ffc41a"/><rect x="69.60" y="248.86" width="4.27" height="4.03" fill="#ffcf1a"/><rect x="73.47" y="248.86" width="4.27" height="4.03" fill="#ffd91a"/><rect x="77.33" y="248.86" width="4.27" height="4.03" fill="#ffd91a"/><rect x="81.20" y="248.86" width="4.27" height="4.03" fill="#ffd91a"/><rect x="85.07" y="248.86" width="4.27" height="4.03" fill="#ffd91a"/><rect x="88.93" y="248.86" width="4.27" height="4.03" fill="#ffe51a"/><rect x="92.80" y="248.86" width="4.27" height="4.03" fill="#fff21a"/><rect x="96.67" y="248.86" width="4.27" height="4.03" fill="#ffff1a"/><rect x="100.53" y="248.86" width="4.27" height="4.03" fill="#ebff2e"/><rect x="104.40" y="248.86" width="4.27" height="4.03" fill="#d6ff42"/><rect x="108.27" y="248.86" width="4.27" height="4.03" fill="#c2ff57"/><rect x="112.13" y="248.86" width="4.27" height="4.03" fill="#a1ff78"/><rect x="116.00" y="248.86" width="4.27" height="4.03" fill="#7fff99"/><rect x="119.87" y="248.86" width="4.27" height="4.03" fill="#5effba"/><rect x="123.73" y="248.86" width="4.27" height="4.03" fill="#4affcf"/><rect x="127.60" y="248.86" width="4.27" height="4.03" fill="#36ffe3"/><rect x="131.47" y="248.86" width="4.27" height="4.03" fill="#21fff7"/><rect x="135.33" y="248.86" width="4.27" height="4.03" fill="#1cfffc"/><rect x="139.20" y="248.86" width="4.27" height="4.03" fill="#1afcff"/><rect x="143.07" y="248.86" width="4.27" height="4.03" fill="#1af7ff"/><rect x="146.93" y="248.86" width="4.27" height="4.03" fill="#1af7ff"/><rect x="150.80" y="248.86" width="4.27" height="4.03" fill="#1af7ff"/><rect x="154.67" y="248.86" width="4.27" height="4.03" fill="#1af7ff"/><rect x="158.53" y="248.86" width="4.27" height="4.03" fill="#1af7ff"/><rect x="162.40" y="248.86" width="4.27" height="4.03" fill="#1af7ff"/><rect x="166.27" y="248.86" width="4.27" height="4.03" fill="#1af7ff"/><rect x="170.13" y="248.86" width="4.27" height="4.03" fill="#1af7ff"/><rect x="174.00" y="248.86" width="4.27" height="4.03" fill="#1af7ff"/><rect x="177.87" y="248.86" width="4.27" height="4.03" fill="#1af7ff"/><rect x="181.73" y="248.86" width="4.27" height="4.03" fill="#1af7ff"/><rect x="185.60" y="248.86" width="4.27" height="4.03" fill="#1af7ff"/><rect x="189.47" y="248.86" width="4.27" height="4.03" fill="#1af7ff"/><rect x="193.33" y="248.86" width="4.27" height="4.03" fill="#1af7ff"/><rect x="197.20" y="248.86" width="4.27" height="4.03" fill="#1af7ff"/><rect x="201.07" y="248.86" width="4.27" height="4.03" fill="#1af7ff"/><rect x="204.93" y="248.86" width="4.27" height="4.03" fill="#1af7ff"/><rect x="23.20" y="252.49" width="4.27" height="4.03" fill="#ff541a"/><rect x="27.07" y="252.49" width="4.27" height="4.03" fill="#ff541a"/><rect x="30.93" y="252.49" width="4.27" height="4.03" fill="#ff4f1a"/><rect x="34.80" y="252.49" width="4.27" height="4.03" fill="#ff4a1a"/><rect x="38.67" y="252.49" width="4.27" height="4.03" fill="#ff451a"/><rect x="42.53" y="252.49" width="4.27" height="4.03" fill="#ff4a1a"/><rect x="46.40" y="252.49" width="4.27" height="4.03" fill="#ff4f1a"/><rect x="50.27" y="252.49" width="4.27" height="4.03" fill="#ff541a"/><rect x="54.13" y="252.49" width="4.27" height="4.03" fill="#ff741a"/><rect x="58.00" y="252.49" width="4.27" height="4.03" fill="#ff951a"/><rect x="61.87" y="252.49" width="4.27" height="4.03" fill="#ffb51a"/><rect x="65.73" y="252.49" width="4.27" height="4.03" fill="#ffc01a"/><rect x="69.60" y="252.49" width="4.27" height="4.03" fill="#ffcb1a"/><rect x="73.47" y="252.49" width="4.27" height="4.03" fill="#ffd61a"/><rect x="77.33" y="252.49" width="4.27" height="4.03" fill="#ffd91a"/><rect x="81.20" y="252.49" width="4.27" height="4.03" fill="#ffdb1a"/><rect x="85.07" y="252.49" width="4.27" height="4.03" fill="#ffde1a"/><rect x="88.93" y="252.49" width="4.27" height="4.03" fill="#ffea1a"/><rect x="92.80" y="252.49" width="4.27" height="4.03" fill="#fff61a"/><rect x="96.67" y="252.49" width="4.27" height="4.03" fill="#fcff1c"/><rect x="100.53" y="252.49" width="4.27" height="4.03" fill="#e6ff32"/><rect x="104.40" y="252.49" width="4.27" height="4.03" fill="#d0ff48"/><rect x="108.27" y="252.49" width="4.27" height="4.03" fill="#baff5e"/><rect x="112.13" y="252.49" width="4.27" height="4.03" fill="#9cff7d"/><rect x="116.00" y="252.49" width="4.27" height="4.03" fill="#7dff9c"/><rect x="119.87" y="252.49" width="4.27" height="4.03" fill="#5effba"/><rect x="123.73" y="252.49" width="4.27" height="4.03" fill="#4affcf"/><rect x="127.60" y="252.49" width="4.27" height="4.03" fill="#36ffe3"/><rect x="131.47" y="252.49" width="4.27" height="4.03" fill="#21fff7"/><rect x="135.33" y="252.49" width="4.27" height="4.03" fill="#1cfffc"/><rect x="139.20" y="252.49" width="4.27" height="4.03" fill="#1afcff"/><rect x="143.07" y="252.49" width="4.27" height="4.03" fill="#1af7ff"/><rect x="146.93" y="252.49" width="4.27" height="4.03" fill="#1af7ff"/><rect x="150.80" y="252.49" width="4.27" height="4.03" fill="#1af7ff"/><rect x="154.67" y="252.49" width="4.27" height="4.03" fill="#1af7ff"/><rect x="158.53" y="252.49" width="4.27" height="4.03" fill="#1af7ff"/><rect x="162.40" y="252.49" width="4.27" height="4.03" fill="#1af7ff"/><rect x="166.27" y="252.49" width="4.27" height="4.03" fill="#1af7ff"/><rect x="170.13" y="252.49" width="4.27" height="4.03" fill="#1af7ff"/><rect x="174.00" y="252.49" width="4.27" height="4.03" fill="#1af7ff"/><rect x="177.87" y="252.49" width="4.27" height="4.03" fill="#1af7ff"/><rect x="181.73" y="252.49" width="4.27" height="4.03" fill="#1af7ff"/><rect x="185.60" y="252.49" width="4.27" height="4.03" fill="#1af7ff"/><rect x="189.47" y="252.49" width="4.27" height="4.03" fill="#1af7ff"/><rect x="193.33" y="252.49" width="4.27" height="4.03" fill="#1af7ff"/><rect x="197.20" y="252.49" width="4.27" height="4.03" fill="#1af7ff"/><rect x="201.07" y="252.49" width="4.27" height="4.03" fill="#1af7ff"/><rect x="204.93" y="252.49" width="4.27" height="4.03" fill="#1af7ff"/><rect x="23.20" y="256.12" width="4.27" height="4.03" fill="#ff591a"/><rect x="27.07" y="256.12" width="4.27" height="4.03" fill="#ff591a"/><rect x="30.93" y="256.12" width="4.27" height="4.03" fill="#ff541a"/><rect x="34.80" y="256.12" width="4.27" height="4.03" fill="#ff4f1a"/><rect x="38.67" y="256.12" width="4.27" height="4.03" fill="#ff4a1a"/><rect x="42.53" y="256.12" width="4.27" height="4.03" fill="#ff4f1a"/><rect x="46.40" y="256.12" width="4.27" height="4.03" fill="#ff541a"/><rect x="50.27" y="256.12" width="4.27" height="4.03" fill="#ff591a"/><rect x="54.13" y="256.12" width="4.27" height="4.03" fill="#ff761a"/><rect x="58.00" y="256.12" width="4.27" height="4.03" fill="#ff931a"/><rect x="61.87" y="256.12" width="4.27" height="4.03" fill="#ffb01a"/><rect x="65.73" y="256.12" width="4.27" height="4.03" fill="#ffbc1a"/><rect x="69.60" y="256.12" width="4.27" height="4.03" fill="#ffc81a"/><rect x="73.47" y="256.12" width="4.27" height="4.03" fill="#ffd41a"/><rect x="77.33" y="256.12" width="4.27" height="4.03" fill="#ffd91a"/><rect x="81.20" y="256.12" width="4.27" height="4.03" fill="#ffde1a"/><rect x="85.07" y="256.12" width="4.27" height="4.03" fill="#ffe31a"/><rect x="88.93" y="256.12" width="4.27" height="4.03" fill="#ffee1a"/><rect x="92.80" y="256.12" width="4.27" height="4.03" fill="#fff91a"/><rect x="96.67" y="256.12" width="4.27" height="4.03" fill="#faff1f"/><rect x="100.53" y="256.12" width="4.27" height="4.03" fill="#e2ff36"/><rect x="104.40" y="256.12" width="4.27" height="4.03" fill="#caff4e"/><rect x="108.27" y="256.12" width="4.27" height="4.03" fill="#b2ff66"/><rect x="112.13" y="256.12" width="4.27" height="4.03" fill="#96ff82"/><rect x="116.00" y="256.12" width="4.27" height="4.03" fill="#7aff9e"/><rect x="119.87" y="256.12" width="4.27" height="4.03" fill="#5effba"/><rect x="123.73" y="256.12" width="4.27" height="4.03" fill="#4affcf"/><rect x="127.60" y="256.12" width="4.27" height="4.03" fill="#36ffe3"/><rect x="131.47" y="256.12" width="4.27" height="4.03" fill="#21fff7"/><rect x="135.33" y="256.12" width="4.27" height="4.03" fill="#1cfffc"/><rect x="139.20" y="256.12" width="4.27" height="4.03" fill="#1afcff"/><rect x="143.07" y="256.12" width="4.27" height="4.03" fill="#1af7ff"/><rect x="146.93" y="256.12" width="4.27" height="4.03" fill="#1af7ff"/><rect x="150.80" y="256.12" width="4.27" height="4.03" fill="#1af7ff"/><rect x="154.67" y="256.12" width="4.27" height="4.03" fill="#1af7ff"/><rect x="158.53" y="256.12" width="4.27" height="4.03" fill="#1af7ff"/><rect x="162.40" y="256.12" width="4.27" height="4.03" fill="#1af7ff"/><rect x="166.27" y="256.12" width="4.27" height="4.03" fill="#1af7ff"/><rect x="170.13" y="256.12" width="4.27" height="4.03" fill="#1af7ff"/><rect x="174.00" y="256.12" width="4.27" height="4.03" fill="#1af7ff"/><rect x="177.87" y="256.12" width="4.27" height="4.03" fill="#1af7ff"/><rect x="181.73" y="256.12" width="4.27" height="4.03" fill="#1af7ff"/><rect x="185.60" y="256.12" width="4.27" height="4.03" fill="#1af7ff"/><rect x="189.47" y="256.12" width="4.27" height="4.03" fill="#1af7ff"/><rect x="193.33" y="256.12" width="4.27" height="4.03" fill="#1af7ff"/><rect x="197.20" y="256.12" width="4.27" height="4.03" fill="#1af7ff"/><rect x="201.07" y="256.12" width="4.27" height="4.03" fill="#1af7ff"/><rect x="204.93" y="256.12" width="4.27" height="4.03" fill="#1af7ff"/><rect x="23.20" y="259.75" width="4.27" height="4.03" fill="#ff5e1a"/><rect x="27.07" y="259.75" width="4.27" height="4.03" fill="#ff5e1a"/><rect x="30.93" y="259.75" width="4.27" height="4.03" fill="#ff591a"/><rect x="34.80" y="259.75" width="4.27" height="4.03" fill="#ff541a"/><rect x="38.67" y="259.75" width="4.27" height="4.03" fill="#ff4f1a"/><rect x="42.53" y="259.75" width="4.27" height="4.03" fill="#ff541a"/><rect x="46.40" y="259.75" width="4.27" height="4.03" fill="#ff591a"/><rect x="50.27" y="259.75" width="4.27" height="4.03" fill="#ff5e1a"/><rect x="54.13" y="259.75" width="4.27" height="4.03" fill="#ff781a"/><rect x="58.00" y="259.75" width="4.27" height="4.03" fill="#ff911a"/><rect x="61.87" y="259.75" width="4.27" height="4.03" fill="#ffab1a"/><rect x="65.73" y="259.75" width="4.27" height="4.03" fill="#ffb81a"/><rect x="69.60" y="259.75" width="4.27" height="4.03" fill="#ffc41a"/><rect x="73.47" y="259.75" width="4.27" height="4.03" fill="#ffd11a"/><rect x="77.33" y="259.75" width="4.27" height="4.03" fill="#ffd91a"/><rect x="81.20" y="259.75" width="4.27" height="4.03" fill="#ffe01a"/><rect x="85.07" y="259.75" width="4.27" height="4.03" fill="#ffe81a"/><rect x="88.93" y="259.75" width="4.27" height="4.03" fill="#fff21a"/><rect x="92.80" y="259.75" width="4.27" height="4.03" fill="#fffc1a"/><rect x="96.67" y="259.75" width="4.27" height="4.03" fill="#f7ff21"/><rect x="100.53" y="259.75" width="4.27" height="4.03" fill="#deff3b"/><rect x="104.40" y="259.75" width="4.27" height="4.03" fill="#c4ff54"/><rect x="108.27" y="259.75" width="4.27" height="4.03" fill="#abff6e"/><rect x="112.13" y="259.75" width="4.27" height="4.03" fill="#91ff87"/><rect x="116.00" y="259.75" width="4.27" height="4.03" fill="#78ffa1"/><rect x="119.87" y="259.75" width="4.27" height="4.03" fill="#5effba"/><rect x="123.73" y="259.75" width="4.27" height="4.03" fill="#4affcf"/><rect x="127.60" y="259.75" width="4.27" height="4.03" fill="#36ffe3"/><rect x="131.47" y="259.75" width="4.27" height="4.03" fill="#21fff7"/><rect x="135.33" y="259.75" width="4.27" height="4.03" fill="#1cfffc"/><rect x="139.20" y="259.75" width="4.27" height="4.03" fill="#1afcff"/><rect x="143.07" y="259.75" width="4.27" height="4.03" fill="#1af7ff"/><rect x="146.93" y="259.75" width="4.27" height="4.03" fill="#1af7ff"/><rect x="150.80" y="259.75" width="4.27" height="4.03" fill="#1af7ff"/><rect x="154.67" y="259.75" width="4.27" height="4.03" fill="#1af7ff"/><rect x="158.53" y="259.75" width="4.27" height="4.03" fill="#1af7ff"/><rect x="162.40" y="259.75" width="4.27" height="4.03" fill="#1af7ff"/><rect x="166.27" y="259.75" width="4.27" height="4.03" fill="#1af7ff"/><rect x="170.13" y="259.75" width="4.27" height="4.03" fill="#1af7ff"/><rect x="174.00" y="259.75" width="4.27" height="4.03" fill="#1af7ff"/><rect x="177.87" y="259.75" width="4.27" height="4.03" fill="#1af7ff"/><rect x="181.73" y="259.75" width="4.27" height="4.03" fill="#1af7ff"/><rect x="185.60" y="259.75" width="4.27" height="4.03" fill="#1af7ff"/><rect x="189.47" y="259.75" width="4.27" height="4.03" fill="#1af7ff"/><rect x="193.33" y="259.75" width="4.27" height="4.03" fill="#1af7ff"/><rect x="197.20" y="259.75" width="4.27" height="4.03" fill="#1af7ff"/><rect x="201.07" y="259.75" width="4.27" height="4.03" fill="#1af7ff"/><rect x="204.93" y="259.75" width="4.27" height="4.03" fill="#1af7ff"/><rect x="23.20" y="263.37" width="4.27" height="4.03" fill="#ff5e1a"/><rect x="27.07" y="263.37" width="4.27" height="4.03" fill="#ff5e1a"/><rect x="30.93" y="263.37" width="4.27" height="4.03" fill="#ff591a"/><rect x="34.80" y="263.37" width="4.27" height="4.03" fill="#ff541a"/><rect x="38.67" y="263.37" width="4.27" height="4.03" fill="#ff4f1a"/><rect x="42.53" y="263.37" width="4.27" height="4.03" fill="#ff541a"/><rect x="46.40" y="263.37" width="4.27" height="4.03" fill="#ff591a"/><rect x="50.27" y="263.37" width="4.27" height="4.03" fill="#ff5e1a"/><rect x="54.13" y="263.37" width="4.27" height="4.03" fill="#ff781a"/><rect x="58.00" y="263.37" width="4.27" height="4.03" fill="#ff911a"/><rect x="61.87" y="263.37" width="4.27" height="4.03" fill="#ffab1a"/><rect x="65.73" y="263.37" width="4.27" height="4.03" fill="#ffb81a"/><rect x="69.60" y="263.37" width="4.27" height="4.03" fill="#ffc41a"/><rect x="73.47" y="263.37" width="4.27" height="4.03" fill="#ffd11a"/><rect x="77.33" y="263.37" width="4.27" height="4.03" fill="#ffd91a"/><rect x="81.20" y="263.37" width="4.27" height="4.03" fill="#ffe01a"/><rect x="85.07" y="263.37" width="4.27" height="4.03" fill="#ffe81a"/><rect x="88.93" y="263.37" width="4.27" height="4.03" fill="#fff21a"/><rect x="92.80" y="263.37" width="4.27" height="4.03" fill="#fffc1a"/><rect x="96.67" y="263.37" width="4.27" height="4.03" fill="#f7ff21"/><rect x="100.53" y="263.37" width="4.27" height="4.03" fill="#deff3b"/><rect x="104.40" y="263.37" width="4.27" height="4.03" fill="#c4ff54"/><rect x="108.27" y="263.37" width="4.27" height="4.03" fill="#abff6e"/><rect x="112.13" y="263.37" width="4.27" height="4.03" fill="#91ff87"/><rect x="116.00" y="263.37" width="4.27" height="4.03" fill="#78ffa1"/><rect x="119.87" y="263.37" width="4.27" height="4.03" fill="#5effba"/><rect x="123.73" y="263.37" width="4.27" height="4.03" fill="#4affcf"/><rect x="127.60" y="263.37" width="4.27" height="4.03" fill="#36ffe3"/><rect x="131.47" y="263.37" width="4.27" height="4.03" fill="#21fff7"/><rect x="135.33" y="263.37" width="4.27" height="4.03" fill="#1cfffc"/><rect x="139.20" y="263.37" width="4.27" height="4.03" fill="#1afcff"/><rect x="143.07" y="263.37" width="4.27" height="4.03" fill="#1af7ff"/><rect x="146.93" y="263.37" width="4.27" height="4.03" fill="#1af7ff"/><rect x="150.80" y="263.37" width="4.27" height="4.03" fill="#1af7ff"/><rect x="154.67" y="263.37" width="4.27" height="4.03" fill="#1af7ff"/><rect x="158.53" y="263.37" width="4.27" height="4.03" fill="#1af7ff"/><rect x="162.40" y="263.37" width="4.27" height="4.03" fill="#1af7ff"/><rect x="166.27" y="263.37" width="4.27" height="4.03" fill="#1af7ff"/><rect x="170.13" y="263.37" width="4.27" height="4.03" fill="#1af7ff"/><rect x="174.00" y="263.37" width="4.27" height="4.03" fill="#1af7ff"/><rect x="177.87" y="263.37" width="4.27" height="4.03" fill="#1af7ff"/><rect x="181.73" y="263.37" width="4.27" height="4.03" fill="#1af7ff"/><rect x="185.60" y="263.37" width="4.27" height="4.03" fill="#1af7ff"/><rect x="189.47" y="263.37" width="4.27" height="4.03" fill="#1af7ff"/><rect x="193.33" y="263.37" width="4.27" height="4.03" fill="#1af7ff"/><rect x="197.20" y="263.37" width="4.27" height="4.03" fill="#1af7ff"/><rect x="201.07" y="263.37" width="4.27" height="4.03" fill="#1af7ff"/><rect x="204.93" y="263.37" width="4.27" height="4.03" fill="#1af7ff"/></g><polygon points="147.0,228.0 145.0,235.0 146.0,245.0 145.0,255.0 146.0,265.0 165.0,265.0 165.0,228.0" fill="#a8eef6"/><polygon points="204.5,150.0 204.5,155.0 202.0,158.0 198.6,163.0 195.0,168.0 193.0,172.0 192.0,176.0 190.5,182.0 188.7,189.0 184.0,195.0 182.0,199.0 178.0,201.0 176.7,202.6 173.0,206.0 171.7,210.0 171.7,216.5 170.5,222.0 167.0,225.5 160.0,226.8 154.0,227.0 152.5,229.0 153.5,234.0 152.5,242.0 155.0,250.0 156.0,256.0 158.0,262.0 158.5,265.0 207.0,265.0 207.0,150.0" fill="#fff"/><circle cx="151.3" cy="224.2" r="2.1" fill="#3a6af0"/><ellipse cx="201.5" cy="158" rx="3.5" ry="6" fill="#7078f0" opacity="0.55"/><polyline points="118.5,199.5 113,204.5 108.5,207.5 111.5,211 118.5,215" fill="none" stroke="#8a9a9a" stroke-width="0.9"/><circle cx="107.5" cy="204.5" r="1.5" fill="#d0a0b0"/></g><g opacity="0.92"><line x1="37.6" y1="23.3" x2="39.1" y2="30.3" stroke="#111" stroke-width="1.4" stroke-linecap="round" opacity="1.00"/><polygon points="39.2,30.7 37.1,28.1 40.0,27.5" fill="#111"/><line x1="50.2" y1="23.3" x2="52.7" y2="30.3" stroke="#111" stroke-width="1.4" stroke-linecap="round" opacity="1.00"/><polygon points="52.8,30.7 50.5,28.3 53.2,27.4" fill="#111"/><line x1="62.8" y1="23.3" x2="66.3" y2="28.8" stroke="#111" stroke-width="1.4" stroke-linecap="round" opacity="1.00"/><polygon points="66.5,29.1 63.7,27.4 66.1,25.8" fill="#111"/><line x1="75.4" y1="23.3" x2="79.0" y2="22.0" stroke="#111" stroke-width="1.4" stroke-linecap="round" opacity="0.55"/><polygon points="79.4,21.9 77.0,24.2 76.1,21.5" fill="#111"/><line x1="88.5" y1="23.3" x2="89.3" y2="15.8" stroke="#111" stroke-width="1.4" stroke-linecap="round" opacity="1.00"/><polygon points="89.3,15.4 90.5,18.5 87.6,18.2" fill="#111"/><line x1="100.8" y1="23.3" x2="101.6" y2="15.8" stroke="#111" stroke-width="1.4" stroke-linecap="round" opacity="1.00"/><polygon points="101.6,15.4 102.8,18.5 99.9,18.2" fill="#111"/><line x1="113.5" y1="23.3" x2="112.4" y2="17.5" stroke="#111" stroke-width="1.4" stroke-linecap="round" opacity="1.00"/><polygon points="112.3,17.1 114.3,19.8 111.5,20.3" fill="#111"/><line x1="125.0" y1="23.3" x2="126.0" y2="22.0" stroke="#111" stroke-width="1.4" stroke-linecap="round" opacity="0.55"/><line x1="138.0" y1="24.0" x2="139.6" y2="26.3" stroke="#111" stroke-width="1.4" stroke-linecap="round" opacity="0.55"/><line x1="150.5" y1="23.5" x2="151.5" y2="23.0" stroke="#111" stroke-width="1.4" stroke-linecap="round" opacity="0.55"/><line x1="37.6" y1="34.7" x2="39.1" y2="41.5" stroke="#111" stroke-width="1.4" stroke-linecap="round" opacity="1.00"/><polygon points="39.2,41.9 37.1,39.3 40.0,38.6" fill="#111"/><line x1="50.2" y1="34.7" x2="52.9" y2="41.8" stroke="#111" stroke-width="1.4" stroke-linecap="round" opacity="1.00"/><polygon points="53.0,42.2 50.6,39.9 53.3,38.9" fill="#111"/><line x1="62.8" y1="34.7" x2="66.5" y2="40.3" stroke="#111" stroke-width="1.4" stroke-linecap="round" opacity="1.00"/><polygon points="66.7,40.6 63.9,38.9 66.3,37.3" fill="#111"/><line x1="75.4" y1="34.7" x2="78.5" y2="34.0" stroke="#111" stroke-width="1.4" stroke-linecap="round" opacity="0.55"/><polygon points="78.9,33.9 76.3,36.0 75.6,33.2" fill="#111"/><line x1="88.5" y1="34.7" x2="89.2" y2="27.0" stroke="#111" stroke-width="1.4" stroke-linecap="round" opacity="1.00"/><polygon points="89.2,26.6 90.4,29.7 87.5,29.5" fill="#111"/><line x1="100.8" y1="34.7" x2="101.5" y2="27.0" stroke="#111" stroke-width="1.4" stroke-linecap="round" opacity="1.00"/><polygon points="101.5,26.6 102.7,29.7 99.8,29.5" fill="#111"/><line x1="113.5" y1="34.7" x2="112.6" y2="28.6" stroke="#111" stroke-width="1.4" stroke-linecap="round" opacity="1.00"/><polygon points="112.5,28.2 114.4,31.0 111.5,31.4" fill="#111"/><line x1="125.0" y1="34.5" x2="126.0" y2="33.5" stroke="#111" stroke-width="1.4" stroke-linecap="round" opacity="0.55"/><line x1="138.0" y1="35.0" x2="140.0" y2="33.0" stroke="#111" stroke-width="1.4" stroke-linecap="round" opacity="0.55"/><line x1="150.5" y1="35.0" x2="151.5" y2="34.5" stroke="#111" stroke-width="1.4" stroke-linecap="round" opacity="0.55"/><line x1="37.6" y1="45.0" x2="38.7" y2="52.0" stroke="#111" stroke-width="1.4" stroke-linecap="round" opacity="1.00"/><polygon points="38.8,52.4 36.9,49.7 39.7,49.2" fill="#111"/><line x1="50.2" y1="45.6" x2="53.3" y2="52.0" stroke="#111" stroke-width="1.4" stroke-linecap="round" opacity="1.00"/><polygon points="53.5,52.4 50.9,50.3 53.5,49.0" fill="#111"/><line x1="62.8" y1="45.6" x2="67.8" y2="51.1" stroke="#111" stroke-width="1.4" stroke-linecap="round" opacity="1.00"/><polygon points="68.1,51.4 65.0,50.2 67.1,48.2" fill="#111"/><line x1="76.0" y1="45.6" x2="82.4" y2="46.5" stroke="#111" stroke-width="1.4" stroke-linecap="round" opacity="1.00"/><polygon points="82.8,46.6 79.6,47.6 80.0,44.7" fill="#111"/><line x1="88.7" y1="46.0" x2="94.2" y2="40.5" stroke="#111" stroke-width="1.4" stroke-linecap="round" opacity="1.00"/><polygon points="94.5,40.2 93.4,43.4 91.3,41.3" fill="#111"/><line x1="100.5" y1="45.6" x2="104.2" y2="39.3" stroke="#111" stroke-width="1.4" stroke-linecap="round" opacity="1.00"/><polygon points="104.4,39.0 104.1,42.3 101.6,40.8" fill="#111"/><line x1="113.3" y1="46.5" x2="115.0" y2="42.0" stroke="#111" stroke-width="1.4" stroke-linecap="round" opacity="1.00"/><polygon points="115.1,41.6 115.4,44.9 112.7,43.9" fill="#111"/><line x1="125.0" y1="46.5" x2="126.2" y2="45.5" stroke="#111" stroke-width="1.4" stroke-linecap="round" opacity="0.55"/><line x1="138.0" y1="46.5" x2="139.2" y2="45.5" stroke="#111" stroke-width="1.4" stroke-linecap="round" opacity="0.55"/><line x1="150.5" y1="46.5" x2="151.7" y2="45.5" stroke="#111" stroke-width="1.4" stroke-linecap="round" opacity="0.55"/><line x1="163.0" y1="46.5" x2="164.0" y2="46.0" stroke="#111" stroke-width="1.4" stroke-linecap="round" opacity="0.55"/><line x1="37.0" y1="56.5" x2="38.7" y2="61.5" stroke="#111" stroke-width="1.4" stroke-linecap="round" opacity="1.00"/><polygon points="38.8,61.9 36.5,59.5 39.2,58.6" fill="#111"/><line x1="51.5" y1="57.5" x2="53.3" y2="62.0" stroke="#111" stroke-width="1.4" stroke-linecap="round" opacity="1.00"/><polygon points="53.4,62.4 51.0,60.1 53.7,59.0" fill="#111"/><line x1="63.0" y1="57.0" x2="67.0" y2="61.0" stroke="#111" stroke-width="1.4" stroke-linecap="round" opacity="1.00"/><polygon points="67.3,61.3 64.1,60.2 66.2,58.1" fill="#111"/><line x1="76.0" y1="58.5" x2="82.0" y2="57.0" stroke="#111" stroke-width="1.4" stroke-linecap="round" opacity="1.00"/><polygon points="82.4,56.9 79.8,59.0 79.1,56.2" fill="#111"/><line x1="88.5" y1="59.0" x2="94.5" y2="55.5" stroke="#111" stroke-width="1.4" stroke-linecap="round" opacity="1.00"/><polygon points="94.8,55.3 93.0,58.1 91.5,55.6" fill="#111"/><line x1="101.0" y1="59.0" x2="106.0" y2="56.0" stroke="#111" stroke-width="1.4" stroke-linecap="round" opacity="1.00"/><polygon points="106.3,55.8 104.5,58.6 103.0,56.1" fill="#111"/><line x1="113.5" y1="58.5" x2="117.5" y2="56.5" stroke="#111" stroke-width="1.4" stroke-linecap="round" opacity="0.55"/><polygon points="117.9,56.3 115.8,59.0 114.5,56.4" fill="#111"/><line x1="125.0" y1="58.0" x2="126.5" y2="57.5" stroke="#111" stroke-width="1.4" stroke-linecap="round" opacity="0.55"/><line x1="138.0" y1="58.0" x2="139.5" y2="57.5" stroke="#111" stroke-width="1.4" stroke-linecap="round" opacity="0.55"/><line x1="150.5" y1="58.0" x2="152.0" y2="57.5" stroke="#111" stroke-width="1.4" stroke-linecap="round" opacity="0.55"/><line x1="36.8" y1="69.3" x2="42.2" y2="69.0" stroke="#111" stroke-width="1.4" stroke-linecap="round" opacity="1.00"/><polygon points="42.6,69.0 39.7,70.6 39.5,67.7" fill="#111"/><line x1="49.5" y1="68.5" x2="54.9" y2="70.0" stroke="#111" stroke-width="1.4" stroke-linecap="round" opacity="1.00"/><polygon points="55.3,70.1 52.0,70.7 52.8,67.9" fill="#111"/><line x1="63.0" y1="68.0" x2="69.3" y2="70.5" stroke="#111" stroke-width="1.4" stroke-linecap="round" opacity="1.00"/><polygon points="69.7,70.6 66.3,70.9 67.4,68.2" fill="#111"/><line x1="76.0" y1="70.0" x2="82.4" y2="68.0" stroke="#111" stroke-width="1.4" stroke-linecap="round" opacity="1.00"/><polygon points="82.8,67.9 80.4,70.2 79.5,67.4" fill="#111"/><line x1="88.7" y1="70.5" x2="95.0" y2="68.0" stroke="#111" stroke-width="1.4" stroke-linecap="round" opacity="1.00"/><polygon points="95.4,67.9 93.1,70.3 92.0,67.6" fill="#111"/><line x1="101.5" y1="70.0" x2="106.0" y2="68.5" stroke="#111" stroke-width="1.4" stroke-linecap="round" opacity="1.00"/><polygon points="106.4,68.4 104.0,70.7 103.1,67.9" fill="#111"/><line x1="114.0" y1="69.5" x2="117.0" y2="68.5" stroke="#111" stroke-width="1.4" stroke-linecap="round" opacity="0.55"/><polygon points="117.4,68.4 115.0,70.7 114.1,67.9" fill="#111"/><line x1="125.8" y1="69.0" x2="127.0" y2="69.0" stroke="#111" stroke-width="1.4" stroke-linecap="round" opacity="0.55"/><line x1="138.4" y1="69.0" x2="139.6" y2="69.0" stroke="#111" stroke-width="1.4" stroke-linecap="round" opacity="0.55"/><line x1="151.0" y1="69.0" x2="152.2" y2="69.0" stroke="#111" stroke-width="1.4" stroke-linecap="round" opacity="0.55"/><line x1="37.6" y1="80.3" x2="39.6" y2="80.8" stroke="#111" stroke-width="1.4" stroke-linecap="round" opacity="0.55"/><line x1="50.2" y1="80.3" x2="52.2" y2="80.8" stroke="#111" stroke-width="1.4" stroke-linecap="round" opacity="0.55"/><line x1="62.8" y1="80.3" x2="64.8" y2="80.8" stroke="#111" stroke-width="1.4" stroke-linecap="round" opacity="0.55"/><line x1="75.4" y1="80.3" x2="78.4" y2="79.3" stroke="#111" stroke-width="1.4" stroke-linecap="round" opacity="0.55"/><polygon points="78.8,79.2 76.4,81.5 75.5,78.7" fill="#111"/><line x1="88.0" y1="80.3" x2="91.0" y2="79.0" stroke="#111" stroke-width="1.4" stroke-linecap="round" opacity="0.55"/><polygon points="91.4,78.8 89.2,81.4 88.0,78.7" fill="#111"/><line x1="100.6" y1="80.3" x2="101.6" y2="80.3" stroke="#111" stroke-width="1.4" stroke-linecap="round" opacity="0.55"/><line x1="113.2" y1="81.0" x2="114.4" y2="81.0" stroke="#111" stroke-width="1.4" stroke-linecap="round" opacity="0.55"/><line x1="125.8" y1="81.0" x2="127.0" y2="81.0" stroke="#111" stroke-width="1.4" stroke-linecap="round" opacity="0.55"/><line x1="138.4" y1="81.0" x2="139.6" y2="81.0" stroke="#111" stroke-width="1.4" stroke-linecap="round" opacity="0.55"/><line x1="37.7" y1="91.8" x2="32.3" y2="89.0" stroke="#111" stroke-width="1.4" stroke-linecap="round" opacity="1.00"/><polygon points="31.9,88.8 35.3,88.9 33.9,91.5" fill="#111"/><line x1="51.3" y1="92.0" x2="47.7" y2="90.0" stroke="#111" stroke-width="1.4" stroke-linecap="round" opacity="0.55"/><polygon points="47.4,89.8 50.7,90.0 49.3,92.5" fill="#111"/><line x1="64.0" y1="91.5" x2="62.0" y2="91.0" stroke="#111" stroke-width="1.4" stroke-linecap="round" opacity="0.55"/><line x1="75.4" y1="92.0" x2="76.6" y2="92.0" stroke="#111" stroke-width="1.4" stroke-linecap="round" opacity="0.55"/><line x1="88.0" y1="92.0" x2="89.2" y2="92.0" stroke="#111" stroke-width="1.4" stroke-linecap="round" opacity="0.55"/><line x1="100.6" y1="92.0" x2="101.8" y2="92.0" stroke="#111" stroke-width="1.4" stroke-linecap="round" opacity="0.55"/><line x1="113.2" y1="93.0" x2="114.4" y2="93.0" stroke="#111" stroke-width="1.4" stroke-linecap="round" opacity="0.55"/><line x1="125.8" y1="93.0" x2="127.0" y2="93.0" stroke="#111" stroke-width="1.4" stroke-linecap="round" opacity="0.55"/><line x1="138.4" y1="93.0" x2="139.6" y2="93.0" stroke="#111" stroke-width="1.4" stroke-linecap="round" opacity="0.55"/><line x1="35.0" y1="102.6" x2="29.6" y2="100.0" stroke="#111" stroke-width="1.4" stroke-linecap="round" opacity="1.00"/><polygon points="29.2,99.8 32.6,99.8 31.3,102.4" fill="#111"/><line x1="49.5" y1="103.6" x2="42.2" y2="100.0" stroke="#111" stroke-width="1.4" stroke-linecap="round" opacity="1.00"/><polygon points="41.8,99.8 45.2,99.8 43.9,102.5" fill="#111"/><line x1="62.0" y1="103.0" x2="55.8" y2="100.0" stroke="#111" stroke-width="1.4" stroke-linecap="round" opacity="1.00"/><polygon points="55.4,99.8 58.8,99.8 57.5,102.4" fill="#111"/><line x1="75.4" y1="103.5" x2="72.0" y2="102.0" stroke="#111" stroke-width="1.4" stroke-linecap="round" opacity="0.55"/><polygon points="71.6,101.8 75.0,101.7 73.8,104.4" fill="#111"/><line x1="88.0" y1="103.5" x2="85.0" y2="102.5" stroke="#111" stroke-width="1.4" stroke-linecap="round" opacity="0.55"/><polygon points="84.6,102.4 87.9,101.9 87.0,104.7" fill="#111"/><line x1="100.6" y1="103.5" x2="98.0" y2="102.8" stroke="#111" stroke-width="1.4" stroke-linecap="round" opacity="0.55"/><line x1="113.2" y1="104.0" x2="111.5" y2="103.5" stroke="#111" stroke-width="1.4" stroke-linecap="round" opacity="0.55"/><line x1="125.8" y1="104.0" x2="124.5" y2="103.5" stroke="#111" stroke-width="1.4" stroke-linecap="round" opacity="0.55"/><line x1="138.4" y1="104.0" x2="137.0" y2="103.5" stroke="#111" stroke-width="1.4" stroke-linecap="round" opacity="0.55"/><line x1="36.0" y1="116.0" x2="31.0" y2="113.5" stroke="#111" stroke-width="1.4" stroke-linecap="round" opacity="1.00"/><polygon points="30.6,113.3 34.0,113.4 32.7,116.0" fill="#111"/><line x1="48.5" y1="116.0" x2="43.5" y2="113.5" stroke="#111" stroke-width="1.4" stroke-linecap="round" opacity="1.00"/><polygon points="43.1,113.3 46.5,113.4 45.2,116.0" fill="#111"/><line x1="61.0" y1="116.0" x2="57.0" y2="114.0" stroke="#111" stroke-width="1.4" stroke-linecap="round" opacity="0.55"/><polygon points="56.6,113.8 60.0,113.9 58.7,116.5" fill="#111"/><line x1="74.0" y1="116.0" x2="70.5" y2="115.0" stroke="#111" stroke-width="1.4" stroke-linecap="round" opacity="0.55"/><polygon points="70.1,114.9 73.4,114.3 72.6,117.1" fill="#111"/><line x1="88.0" y1="115.5" x2="85.5" y2="115.0" stroke="#111" stroke-width="1.4" stroke-linecap="round" opacity="0.55"/><line x1="100.6" y1="115.5" x2="98.5" y2="115.0" stroke="#111" stroke-width="1.4" stroke-linecap="round" opacity="0.55"/><line x1="113.2" y1="115.5" x2="111.5" y2="115.0" stroke="#111" stroke-width="1.4" stroke-linecap="round" opacity="0.55"/><line x1="125.8" y1="115.5" x2="124.5" y2="115.0" stroke="#111" stroke-width="1.4" stroke-linecap="round" opacity="0.55"/><line x1="138.4" y1="115.5" x2="137.0" y2="115.0" stroke="#111" stroke-width="1.4" stroke-linecap="round" opacity="0.55"/></g><g opacity="0.92"><line x1="32.4" y1="165.0" x2="38.7" y2="161.0" stroke="#111" stroke-width="1.4" stroke-linecap="round" opacity="1.00"/><polygon points="39.0,160.8 37.3,163.6 35.7,161.2" fill="#111"/><line x1="47.0" y1="166.0" x2="51.5" y2="160.0" stroke="#111" stroke-width="1.4" stroke-linecap="round" opacity="1.00"/><polygon points="51.7,159.7 51.1,163.0 48.8,161.2" fill="#111"/><line x1="61.5" y1="165.0" x2="65.0" y2="160.0" stroke="#111" stroke-width="1.4" stroke-linecap="round" opacity="1.00"/><polygon points="65.2,159.7 64.7,163.0 62.3,161.3" fill="#111"/><line x1="75.0" y1="162.0" x2="78.0" y2="161.0" stroke="#111" stroke-width="1.4" stroke-linecap="round" opacity="0.55"/><polygon points="78.4,160.9 76.0,163.2 75.1,160.4" fill="#111"/><line x1="87.0" y1="155.0" x2="90.5" y2="160.0" stroke="#111" stroke-width="1.4" stroke-linecap="round" opacity="1.00"/><polygon points="90.7,160.3 87.8,158.7 90.2,157.0" fill="#111"/><line x1="98.7" y1="152.0" x2="103.3" y2="160.0" stroke="#111" stroke-width="1.4" stroke-linecap="round" opacity="1.00"/><polygon points="103.5,160.3 100.7,158.5 103.3,157.0" fill="#111"/><line x1="111.5" y1="153.0" x2="116.5" y2="161.0" stroke="#111" stroke-width="1.4" stroke-linecap="round" opacity="1.00"/><polygon points="116.7,161.3 113.9,159.6 116.4,158.0" fill="#111"/><line x1="125.0" y1="156.5" x2="129.5" y2="161.0" stroke="#111" stroke-width="1.4" stroke-linecap="round" opacity="1.00"/><polygon points="129.8,161.3 126.6,160.2 128.7,158.1" fill="#111"/><line x1="138.0" y1="160.0" x2="142.5" y2="160.0" stroke="#111" stroke-width="1.4" stroke-linecap="round" opacity="0.55"/><polygon points="142.9,160.0 139.9,161.4 139.9,158.6" fill="#111"/><line x1="152.0" y1="160.0" x2="155.5" y2="162.0" stroke="#111" stroke-width="1.4" stroke-linecap="round" opacity="0.55"/><polygon points="155.8,162.2 152.5,162.0 154.0,159.5" fill="#111"/><line x1="165.0" y1="160.0" x2="168.0" y2="161.0" stroke="#111" stroke-width="1.4" stroke-linecap="round" opacity="0.55"/><polygon points="168.4,161.1 165.1,161.6 166.0,158.8" fill="#111"/><line x1="32.4" y1="175.0" x2="38.7" y2="172.0" stroke="#111" stroke-width="1.4" stroke-linecap="round" opacity="1.00"/><polygon points="39.1,171.8 37.0,174.4 35.7,171.8" fill="#111"/><line x1="48.0" y1="177.0" x2="51.5" y2="171.0" stroke="#111" stroke-width="1.4" stroke-linecap="round" opacity="1.00"/><polygon points="51.7,170.7 51.4,174.0 48.9,172.5" fill="#111"/><line x1="61.5" y1="176.0" x2="65.0" y2="171.0" stroke="#111" stroke-width="1.4" stroke-linecap="round" opacity="1.00"/><polygon points="65.2,170.7 64.7,174.0 62.3,172.3" fill="#111"/><line x1="75.0" y1="172.5" x2="78.0" y2="172.0" stroke="#111" stroke-width="1.4" stroke-linecap="round" opacity="0.55"/><polygon points="78.4,171.9 75.7,173.9 75.2,171.0" fill="#111"/><line x1="87.0" y1="167.0" x2="90.5" y2="172.5" stroke="#111" stroke-width="1.4" stroke-linecap="round" opacity="1.00"/><polygon points="90.7,172.8 87.9,171.1 90.3,169.5" fill="#111"/><line x1="98.7" y1="164.0" x2="104.0" y2="172.0" stroke="#111" stroke-width="1.4" stroke-linecap="round" opacity="1.00"/><polygon points="104.2,172.3 101.4,170.6 103.8,169.0" fill="#111"/><line x1="112.0" y1="164.0" x2="116.5" y2="171.6" stroke="#111" stroke-width="1.4" stroke-linecap="round" opacity="1.00"/><polygon points="116.7,171.9 113.9,170.1 116.4,168.6" fill="#111"/><line x1="125.0" y1="168.0" x2="130.5" y2="172.7" stroke="#111" stroke-width="1.4" stroke-linecap="round" opacity="1.00"/><polygon points="130.8,173.0 127.6,172.1 129.5,169.9" fill="#111"/><line x1="138.0" y1="172.0" x2="142.5" y2="172.5" stroke="#111" stroke-width="1.4" stroke-linecap="round" opacity="1.00"/><polygon points="142.9,172.5 139.8,173.7 140.1,170.8" fill="#111"/><line x1="152.0" y1="172.0" x2="155.5" y2="174.0" stroke="#111" stroke-width="1.4" stroke-linecap="round" opacity="0.55"/><polygon points="155.8,174.2 152.5,174.0 154.0,171.5" fill="#111"/><line x1="165.0" y1="172.0" x2="168.0" y2="173.0" stroke="#111" stroke-width="1.4" stroke-linecap="round" opacity="0.55"/><polygon points="168.4,173.1 165.1,173.6 166.0,170.8" fill="#111"/><line x1="37.0" y1="183.0" x2="39.0" y2="184.0" stroke="#111" stroke-width="1.4" stroke-linecap="round" opacity="0.55"/><line x1="51.5" y1="182.0" x2="55.0" y2="186.0" stroke="#111" stroke-width="1.4" stroke-linecap="round" opacity="1.00"/><polygon points="55.3,186.3 52.2,185.0 54.4,183.1" fill="#111"/><line x1="64.0" y1="183.0" x2="71.5" y2="187.0" stroke="#111" stroke-width="1.4" stroke-linecap="round" opacity="1.00"/><polygon points="71.9,187.2 68.5,187.1 69.9,184.5" fill="#111"/><line x1="77.8" y1="183.0" x2="84.2" y2="185.0" stroke="#111" stroke-width="1.4" stroke-linecap="round" opacity="1.00"/><polygon points="84.6,185.1 81.3,185.6 82.2,182.8" fill="#111"/><line x1="90.5" y1="184.0" x2="96.0" y2="181.0" stroke="#111" stroke-width="1.4" stroke-linecap="round" opacity="1.00"/><polygon points="96.4,180.8 94.4,183.5 93.0,181.0" fill="#111"/><line x1="104.0" y1="185.0" x2="107.0" y2="180.0" stroke="#111" stroke-width="1.4" stroke-linecap="round" opacity="1.00"/><polygon points="107.2,179.7 106.9,183.0 104.4,181.5" fill="#111"/><line x1="115.0" y1="176.0" x2="116.5" y2="183.5" stroke="#111" stroke-width="1.4" stroke-linecap="round" opacity="1.00"/><polygon points="116.6,183.9 114.6,181.2 117.4,180.7" fill="#111"/><line x1="126.0" y1="179.0" x2="130.5" y2="183.5" stroke="#111" stroke-width="1.4" stroke-linecap="round" opacity="1.00"/><polygon points="130.8,183.8 127.6,182.7 129.7,180.6" fill="#111"/><line x1="139.0" y1="183.5" x2="142.5" y2="184.0" stroke="#111" stroke-width="1.4" stroke-linecap="round" opacity="0.55"/><polygon points="142.9,184.1 139.7,185.1 140.1,182.2" fill="#111"/><line x1="152.0" y1="184.0" x2="155.5" y2="185.0" stroke="#111" stroke-width="1.4" stroke-linecap="round" opacity="0.55"/><polygon points="155.9,185.1 152.6,185.7 153.4,182.9" fill="#111"/><line x1="33.0" y1="194.0" x2="39.0" y2="195.5" stroke="#111" stroke-width="1.4" stroke-linecap="round" opacity="1.00"/><polygon points="39.4,195.6 36.1,196.3 36.8,193.5" fill="#111"/><line x1="46.0" y1="195.0" x2="53.0" y2="196.0" stroke="#111" stroke-width="1.4" stroke-linecap="round" opacity="1.00"/><polygon points="53.4,196.1 50.2,197.1 50.6,194.2" fill="#111"/><line x1="60.0" y1="195.0" x2="67.0" y2="196.5" stroke="#111" stroke-width="1.4" stroke-linecap="round" opacity="1.00"/><polygon points="67.4,196.6 64.2,197.4 64.8,194.5" fill="#111"/><line x1="73.0" y1="195.0" x2="80.0" y2="196.0" stroke="#111" stroke-width="1.4" stroke-linecap="round" opacity="1.00"/><polygon points="80.4,196.1 77.2,197.1 77.6,194.2" fill="#111"/><line x1="87.0" y1="195.0" x2="94.0" y2="195.5" stroke="#111" stroke-width="1.4" stroke-linecap="round" opacity="1.00"/><polygon points="94.4,195.5 91.3,196.8 91.5,193.9" fill="#111"/><line x1="100.0" y1="194.0" x2="106.0" y2="195.0" stroke="#111" stroke-width="1.4" stroke-linecap="round" opacity="1.00"/><polygon points="106.4,195.1 103.2,196.0 103.7,193.1" fill="#111"/><line x1="115.4" y1="190.0" x2="117.6" y2="196.5" stroke="#111" stroke-width="1.4" stroke-linecap="round" opacity="1.00"/><polygon points="117.7,196.9 115.4,194.5 118.1,193.6" fill="#111"/><line x1="128.4" y1="191.0" x2="130.5" y2="195.5" stroke="#111" stroke-width="1.4" stroke-linecap="round" opacity="1.00"/><polygon points="130.7,195.9 128.1,193.8 130.7,192.5" fill="#111"/><line x1="139.0" y1="195.0" x2="142.0" y2="195.5" stroke="#111" stroke-width="1.4" stroke-linecap="round" opacity="0.55"/><polygon points="142.4,195.6 139.2,196.5 139.7,193.6" fill="#111"/><line x1="152.0" y1="195.0" x2="155.0" y2="196.0" stroke="#111" stroke-width="1.4" stroke-linecap="round" opacity="0.55"/><polygon points="155.4,196.1 152.1,196.6 153.0,193.8" fill="#111"/><line x1="38.0" y1="203.0" x2="40.0" y2="207.0" stroke="#111" stroke-width="1.4" stroke-linecap="round" opacity="0.55"/><polygon points="40.2,207.4 37.5,205.3 40.1,204.0" fill="#111"/><line x1="51.0" y1="205.0" x2="54.0" y2="205.5" stroke="#111" stroke-width="1.4" stroke-linecap="round" opacity="0.55"/><polygon points="54.4,205.6 51.2,206.5 51.7,203.6" fill="#111"/><line x1="64.0" y1="203.0" x2="69.0" y2="207.0" stroke="#111" stroke-width="1.4" stroke-linecap="round" opacity="1.00"/><polygon points="69.3,207.2 66.1,206.5 67.9,204.2" fill="#111"/><line x1="78.0" y1="204.0" x2="81.5" y2="206.0" stroke="#111" stroke-width="1.4" stroke-linecap="round" opacity="0.55"/><polygon points="81.8,206.2 78.5,206.0 80.0,203.5" fill="#111"/><line x1="90.4" y1="204.0" x2="94.0" y2="206.0" stroke="#111" stroke-width="1.4" stroke-linecap="round" opacity="0.55"/><polygon points="94.3,206.2 91.0,206.0 92.4,203.5" fill="#111"/><line x1="101.8" y1="204.0" x2="104.3" y2="206.0" stroke="#111" stroke-width="1.4" stroke-linecap="round" opacity="0.55"/><polygon points="104.6,206.2 101.4,205.5 103.2,203.2" fill="#111"/><line x1="115.4" y1="202.0" x2="117.6" y2="208.4" stroke="#111" stroke-width="1.4" stroke-linecap="round" opacity="1.00"/><polygon points="117.7,208.8 115.4,206.4 118.1,205.5" fill="#111"/><line x1="129.5" y1="202.0" x2="131.6" y2="206.0" stroke="#111" stroke-width="1.4" stroke-linecap="round" opacity="1.00"/><polygon points="131.8,206.4 129.1,204.4 131.7,203.0" fill="#111"/><line x1="140.0" y1="206.0" x2="143.0" y2="206.5" stroke="#111" stroke-width="1.4" stroke-linecap="round" opacity="0.55"/><polygon points="143.4,206.6 140.2,207.5 140.7,204.6" fill="#111"/><line x1="153.0" y1="206.0" x2="156.0" y2="207.0" stroke="#111" stroke-width="1.4" stroke-linecap="round" opacity="0.55"/><polygon points="156.4,207.1 153.1,207.6 154.0,204.8" fill="#111"/><line x1="32.3" y1="214.0" x2="37.4" y2="215.0" stroke="#111" stroke-width="1.4" stroke-linecap="round" opacity="1.00"/><polygon points="37.8,215.1 34.6,215.9 35.1,213.1" fill="#111"/><line x1="46.0" y1="214.0" x2="54.0" y2="215.0" stroke="#111" stroke-width="1.4" stroke-linecap="round" opacity="1.00"/><polygon points="54.4,215.0 51.2,216.1 51.6,213.2" fill="#111"/><line x1="58.8" y1="215.0" x2="67.7" y2="216.5" stroke="#111" stroke-width="1.4" stroke-linecap="round" opacity="1.00"/><polygon points="68.1,216.6 64.9,217.5 65.4,214.6" fill="#111"/><line x1="76.5" y1="215.0" x2="84.0" y2="216.0" stroke="#111" stroke-width="1.4" stroke-linecap="round" opacity="1.00"/><polygon points="84.4,216.1 81.2,217.1 81.6,214.2" fill="#111"/><line x1="93.0" y1="215.0" x2="101.8" y2="216.0" stroke="#111" stroke-width="1.4" stroke-linecap="round" opacity="1.00"/><polygon points="102.2,216.0 99.1,217.1 99.4,214.3" fill="#111"/><line x1="106.8" y1="215.0" x2="114.4" y2="216.0" stroke="#111" stroke-width="1.4" stroke-linecap="round" opacity="1.00"/><polygon points="114.8,216.1 111.6,217.1 112.0,214.2" fill="#111"/><line x1="128.0" y1="213.0" x2="131.0" y2="217.0" stroke="#111" stroke-width="1.4" stroke-linecap="round" opacity="1.00"/><polygon points="131.2,217.3 128.3,215.8 130.6,214.0" fill="#111"/><line x1="140.0" y1="216.0" x2="143.0" y2="217.0" stroke="#111" stroke-width="1.4" stroke-linecap="round" opacity="0.55"/><polygon points="143.4,217.1 140.1,217.6 141.0,214.8" fill="#111"/><line x1="32.0" y1="226.0" x2="40.0" y2="229.0" stroke="#111" stroke-width="1.4" stroke-linecap="round" opacity="1.00"/><polygon points="40.4,229.1 37.1,229.4 38.1,226.7" fill="#111"/><line x1="46.0" y1="226.0" x2="54.0" y2="229.0" stroke="#111" stroke-width="1.4" stroke-linecap="round" opacity="1.00"/><polygon points="54.4,229.1 51.1,229.4 52.1,226.7" fill="#111"/><line x1="66.0" y1="226.0" x2="74.0" y2="229.0" stroke="#111" stroke-width="1.4" stroke-linecap="round" opacity="1.00"/><polygon points="74.4,229.1 71.1,229.4 72.1,226.7" fill="#111"/><line x1="86.6" y1="232.0" x2="91.7" y2="225.0" stroke="#111" stroke-width="1.4" stroke-linecap="round" opacity="1.00"/><polygon points="91.9,224.7 91.3,228.0 89.0,226.2" fill="#111"/><line x1="101.8" y1="233.0" x2="104.3" y2="225.0" stroke="#111" stroke-width="1.4" stroke-linecap="round" opacity="1.00"/><polygon points="104.4,224.6 104.9,227.9 102.1,227.0" fill="#111"/><line x1="115.6" y1="231.0" x2="118.0" y2="224.0" stroke="#111" stroke-width="1.4" stroke-linecap="round" opacity="1.00"/><polygon points="118.1,223.6 118.5,226.9 115.8,226.0" fill="#111"/><line x1="128.0" y1="229.0" x2="130.0" y2="225.0" stroke="#111" stroke-width="1.4" stroke-linecap="round" opacity="0.55"/><polygon points="130.2,224.6 130.1,228.0 127.5,226.7" fill="#111"/><line x1="36.0" y1="239.0" x2="40.0" y2="240.0" stroke="#111" stroke-width="1.4" stroke-linecap="round" opacity="0.55"/><polygon points="40.4,240.1 37.1,240.8 37.8,238.0" fill="#111"/><line x1="48.7" y1="238.0" x2="53.8" y2="241.0" stroke="#111" stroke-width="1.4" stroke-linecap="round" opacity="1.00"/><polygon points="54.1,241.2 50.8,240.9 52.3,238.4" fill="#111"/><line x1="64.0" y1="238.0" x2="70.0" y2="242.0" stroke="#111" stroke-width="1.4" stroke-linecap="round" opacity="1.00"/><polygon points="70.3,242.2 67.0,241.8 68.6,239.4" fill="#111"/><line x1="90.4" y1="244.0" x2="94.0" y2="238.0" stroke="#111" stroke-width="1.4" stroke-linecap="round" opacity="1.00"/><polygon points="94.2,237.7 93.9,241.0 91.4,239.5" fill="#111"/><line x1="101.8" y1="243.0" x2="106.8" y2="237.0" stroke="#111" stroke-width="1.4" stroke-linecap="round" opacity="1.00"/><polygon points="107.1,236.7 106.2,239.9 104.0,238.1" fill="#111"/><line x1="115.6" y1="244.0" x2="119.4" y2="237.0" stroke="#111" stroke-width="1.4" stroke-linecap="round" opacity="1.00"/><polygon points="119.6,236.6 119.4,240.0 116.9,238.6" fill="#111"/><line x1="128.0" y1="242.0" x2="131.0" y2="238.0" stroke="#111" stroke-width="1.4" stroke-linecap="round" opacity="1.00"/><polygon points="131.2,237.7 130.6,241.0 128.3,239.2" fill="#111"/><line x1="101.8" y1="252.0" x2="109.0" y2="247.0" stroke="#111" stroke-width="1.4" stroke-linecap="round" opacity="1.00"/><polygon points="109.3,246.8 107.7,249.7 106.0,247.3" fill="#111"/><line x1="114.0" y1="251.0" x2="119.4" y2="247.0" stroke="#111" stroke-width="1.4" stroke-linecap="round" opacity="1.00"/><polygon points="119.7,246.8 118.2,249.7 116.4,247.4" fill="#111"/><line x1="127.0" y1="252.0" x2="131.0" y2="248.0" stroke="#111" stroke-width="1.4" stroke-linecap="round" opacity="1.00"/><polygon points="131.3,247.7 130.2,250.9 128.1,248.8" fill="#111"/></g><rect x="26.5" y="57.6" width="177.0" height="22.6" fill="none" stroke="#111" stroke-width="0.9"/><rect x="26.50" y="12.80" width="25.07" height="2.00" fill="#fff"/><rect x="51.57" y="12.80" width="25.07" height="2.00" fill="#111"/><rect x="76.64" y="12.80" width="25.07" height="2.00" fill="#fff"/><rect x="101.71" y="12.80" width="25.07" height="2.00" fill="#111"/><rect x="126.79" y="12.80" width="25.07" height="2.00" fill="#fff"/><rect x="151.86" y="12.80" width="25.07" height="2.00" fill="#111"/><rect x="176.93" y="12.80" width="25.07" height="2.00" fill="#fff"/><rect x="26.50" y="124.50" width="25.07" height="2.00" fill="#111"/><rect x="51.57" y="124.50" width="25.07" height="2.00" fill="#fff"/><rect x="76.64" y="124.50" width="25.07" height="2.00" fill="#111"/><rect x="101.71" y="124.50" width="25.07" height="2.00" fill="#fff"/><rect x="126.79" y="124.50" width="25.07" height="2.00" fill="#111"/><rect x="151.86" y="124.50" width="25.07" height="2.00" fill="#fff"/><rect x="176.93" y="124.50" width="25.07" height="2.00" fill="#111"/><rect x="26.50" y="12.80" width="2.00" height="22.74" fill="#111"/><rect x="26.50" y="35.54" width="2.00" height="22.74" fill="#fff"/><rect x="26.50" y="58.28" width="2.00" height="22.74" fill="#111"/><rect x="26.50" y="81.02" width="2.00" height="22.74" fill="#fff"/><rect x="26.50" y="103.76" width="2.00" height="22.74" fill="#111"/><rect x="200.00" y="12.80" width="2.00" height="22.74" fill="#fff"/><rect x="200.00" y="35.54" width="2.00" height="22.74" fill="#111"/><rect x="200.00" y="58.28" width="2.00" height="22.74" fill="#fff"/><rect x="200.00" y="81.02" width="2.00" height="22.74" fill="#111"/><rect x="200.00" y="103.76" width="2.00" height="22.74" fill="#fff"/><rect x="26.50" y="12.80" width="175.50" height="113.70" fill="none" stroke="#111" stroke-width="0.5"/><rect x="28.50" y="14.80" width="171.50" height="109.70" fill="none" stroke="#333" stroke-width="0.3"/><rect x="26.2" y="195.4" width="180.8" height="22.2" fill="none" stroke="#111" stroke-width="0.9"/><rect x="26.20" y="150.30" width="25.66" height="2.00" fill="#fff"/><rect x="51.86" y="150.30" width="25.66" height="2.00" fill="#111"/><rect x="77.51" y="150.30" width="25.66" height="2.00" fill="#fff"/><rect x="103.17" y="150.30" width="25.66" height="2.00" fill="#111"/><rect x="128.83" y="150.30" width="25.66" height="2.00" fill="#fff"/><rect x="154.49" y="150.30" width="25.66" height="2.00" fill="#111"/><rect x="180.14" y="150.30" width="25.66" height="2.00" fill="#fff"/><rect x="26.20" y="262.00" width="25.66" height="2.00" fill="#111"/><rect x="51.86" y="262.00" width="25.66" height="2.00" fill="#fff"/><rect x="77.51" y="262.00" width="25.66" height="2.00" fill="#111"/><rect x="103.17" y="262.00" width="25.66" height="2.00" fill="#fff"/><rect x="128.83" y="262.00" width="25.66" height="2.00" fill="#111"/><rect x="154.49" y="262.00" width="25.66" height="2.00" fill="#fff"/><rect x="180.14" y="262.00" width="25.66" height="2.00" fill="#111"/><rect x="26.20" y="150.30" width="2.00" height="22.74" fill="#111"/><rect x="26.20" y="173.04" width="2.00" height="22.74" fill="#fff"/><rect x="26.20" y="195.78" width="2.00" height="22.74" fill="#111"/><rect x="26.20" y="218.52" width="2.00" height="22.74" fill="#fff"/><rect x="26.20" y="241.26" width="2.00" height="22.74" fill="#111"/><rect x="203.80" y="150.30" width="2.00" height="22.74" fill="#fff"/><rect x="203.80" y="173.04" width="2.00" height="22.74" fill="#111"/><rect x="203.80" y="195.78" width="2.00" height="22.74" fill="#fff"/><rect x="203.80" y="218.52" width="2.00" height="22.74" fill="#111"/><rect x="203.80" y="241.26" width="2.00" height="22.74" fill="#fff"/><rect x="26.20" y="150.30" width="179.60" height="113.70" fill="none" stroke="#111" stroke-width="0.5"/><rect x="28.20" y="152.30" width="175.60" height="109.70" fill="none" stroke="#333" stroke-width="0.3"/><rect x="24" y="8" width="36" height="4.6" fill="#fadcf4"/><rect x="23.5" y="8" width="3" height="14" fill="#f7cdee"/><rect x="15.5" y="15.5" width="8" height="6" fill="#d2f6f8"/><rect x="19" y="21.3" width="7.5" height="2" fill="#f4a0e0"/><rect x="7" y="31.5" width="17" height="7.5" fill="#d4f6f4"/><rect x="23.3" y="148" width="3.2" height="48" fill="#f8c8ec"/><rect x="24" y="146.8" width="30" height="3.5" fill="#fbe2f5"/><rect x="232" y="136.5" width="10" height="6" fill="#fbe6f5"/><rect x="242" y="137" width="12" height="6" fill="#d6f6f6"/><rect x="254" y="136.5" width="10" height="5.5" fill="#fbe6f5"/><rect x="264" y="137" width="12" height="5.5" fill="#def8f8"/><rect x="209.4" y="12.4" width="9.0" height="115.3" fill="url(#jetg)" stroke="#222" stroke-width="0.5"/><text x="220.9" y="12.4" font-size="7.2" font-weight="bold" font-family="Liberation Sans, sans-serif" fill="#111" dominant-baseline="central">17</text><text x="220.9" y="31.6" font-size="7.2" font-weight="bold" font-family="Liberation Sans, sans-serif" fill="#111" dominant-baseline="central">16.5</text><text x="220.9" y="50.8" font-size="7.2" font-weight="bold" font-family="Liberation Sans, sans-serif" fill="#111" dominant-baseline="central">16</text><text x="220.9" y="70.0" font-size="7.2" font-weight="bold" font-family="Liberation Sans, sans-serif" fill="#111" dominant-baseline="central">15.5</text><text x="220.9" y="89.3" font-size="7.2" font-weight="bold" font-family="Liberation Sans, sans-serif" fill="#111" dominant-baseline="central">15</text><text x="220.9" y="108.5" font-size="7.2" font-weight="bold" font-family="Liberation Sans, sans-serif" fill="#111" dominant-baseline="central">14.5</text><text x="220.9" y="127.7" font-size="7.2" font-weight="bold" font-family="Liberation Sans, sans-serif" fill="#111" dominant-baseline="central">14</text><rect x="214.4" y="150.3" width="9.4" height="114.0" fill="url(#jetg)" stroke="#222" stroke-width="0.5"/><text x="226.3" y="150.3" font-size="7.2" font-weight="bold" font-family="Liberation Sans, sans-serif" fill="#111" dominant-baseline="central">18</text><text x="226.3" y="169.3" font-size="7.2" font-weight="bold" font-family="Liberation Sans, sans-serif" fill="#111" dominant-baseline="central">17</text><text x="226.3" y="188.3" font-size="7.2" font-weight="bold" font-family="Liberation Sans, sans-serif" fill="#111" dominant-baseline="central">16</text><text x="226.3" y="207.3" font-size="7.2" font-weight="bold" font-family="Liberation Sans, sans-serif" fill="#111" dominant-baseline="central">15</text><text x="226.3" y="226.3" font-size="7.2" font-weight="bold" font-family="Liberation Sans, sans-serif" fill="#111" dominant-baseline="central">14</text><text x="226.3" y="245.3" font-size="7.2" font-weight="bold" font-family="Liberation Sans, sans-serif" fill="#111" dominant-baseline="central">13</text><text x="226.3" y="264.3" font-size="7.2" font-weight="bold" font-family="Liberation Sans, sans-serif" fill="#111" dominant-baseline="central">12</text><text x="23.5" y="35.3" font-size="6.3" font-family="Liberation Sans, sans-serif" fill="#222" text-anchor="end" dominant-baseline="central">36°S</text><text x="23.5" y="80.8" font-size="6.3" font-family="Liberation Sans, sans-serif" fill="#222" text-anchor="end" dominant-baseline="central">37°S</text><text x="20.5" y="128.0" font-size="6.3" font-family="Liberation Sans, sans-serif" fill="#222" text-anchor="end" dominant-baseline="central">38°S</text><text x="23.5" y="172.8" font-size="6.3" font-family="Liberation Sans, sans-serif" fill="#222" text-anchor="end" dominant-baseline="central">36°S</text><text x="23.5" y="218.3" font-size="6.3" font-family="Liberation Sans, sans-serif" fill="#222" text-anchor="end" dominant-baseline="central">37°S</text><text x="20.5" y="265.5" font-size="6.3" font-family="Liberation Sans, sans-serif" fill="#222" text-anchor="end" dominant-baseline="central">38°S</text><text x="26.5" y="132.6" font-size="6.3" font-family="Liberation Sans, sans-serif" fill="#222" text-anchor="middle" dominant-baseline="central">76°W</text><text x="76.5" y="132.6" font-size="6.3" font-family="Liberation Sans, sans-serif" fill="#222" text-anchor="middle" dominant-baseline="central">75°W</text><text x="127.3" y="132.6" font-size="6.3" font-family="Liberation Sans, sans-serif" fill="#222" text-anchor="middle" dominant-baseline="central">74°W</text><text x="178.0" y="132.6" font-size="6.3" font-family="Liberation Sans, sans-serif" fill="#222" text-anchor="middle" dominant-baseline="central">73°W</text><text x="26.5" y="269.6" font-size="6.3" font-family="Liberation Sans, sans-serif" fill="#222" text-anchor="middle" dominant-baseline="central">76°W</text><text x="77.5" y="269.6" font-size="6.3" font-family="Liberation Sans, sans-serif" fill="#222" text-anchor="middle" dominant-baseline="central">75°W</text><text x="129.5" y="269.6" font-size="6.3" font-family="Liberation Sans, sans-serif" fill="#222" text-anchor="middle" dominant-baseline="central">74°W</text><text x="181.0" y="269.6" font-size="6.3" font-family="Liberation Sans, sans-serif" fill="#222" text-anchor="middle" dominant-baseline="central">73°W</text><text x="113.4" y="6.6" font-size="7.9" font-weight="bold" font-family="Liberation Sans, sans-serif" fill="#111" text-anchor="middle" dominant-baseline="central">2004/05/19</text><text x="116" y="143.6" font-size="7.9" font-weight="bold" font-family="Liberation Sans, sans-serif" fill="#111" text-anchor="middle" dominant-baseline="central">2005/04/05</text><text x="3.0" y="7.0" font-size="8.6" font-family="Liberation Serif, serif" fill="#1a1a1a" dominant-baseline="central">(a)</text><text x="237.0" y="7.5" font-size="8.6" font-family="Liberation Serif, serif" fill="#1a1a1a" dominant-baseline="central">(b)</text><text x="394.0" y="6.9" font-size="8.6" font-family="Liberation Serif, serif" fill="#1a1a1a" dominant-baseline="central">(c)</text><text x="5.5" y="148.0" font-size="8.6" font-family="Liberation Serif, serif" fill="#1a1a1a" dominant-baseline="central">(d)</text><text x="238.0" y="141.2" font-size="8.6" font-family="Liberation Serif, serif" fill="#1a1a1a" dominant-baseline="central">(e)</text><text x="397.5" y="143.5" font-size="8.6" font-family="Liberation Serif, serif" fill="#1a1a1a" dominant-baseline="central">(f)</text><text x="153" y="34.5" font-size="9.2" font-family="Liberation Serif, serif" fill="#8a3ae0" opacity="0.55" text-anchor="middle" dominant-baseline="central">North</text><text x="169.6" y="18.0" font-size="9.4" font-weight="bold" font-family="Liberation Serif, serif" fill="#111" text-anchor="middle" dominant-baseline="central">North</text><polygon points="170.6,22.0 166.0,33.8 170.6,30.3" fill="#fff" stroke="#111" stroke-width="0.8"/><polygon points="170.6,22.0 175.2,33.8 170.6,30.3" fill="#111" stroke="#111" stroke-width="0.8"/><text x="182.0" y="155.0" font-size="9.4" font-weight="normal" font-family="Liberation Serif, serif" fill="#111" text-anchor="middle" dominant-baseline="central">North</text><polygon points="182.6,160.0 178.0,171.8 182.6,168.3" fill="#fff" stroke="#111" stroke-width="0.8"/><polygon points="182.6,160.0 187.2,171.8 182.6,168.3" fill="#111" stroke="#111" stroke-width="0.8"/><text x="145.8" y="94.3" font-size="9" font-family="Liberation Serif, serif" fill="#7a3c78" dominant-baseline="central">Point Lavapie</text><text x="151" y="231.3" font-size="9" font-family="Liberation Serif, serif" fill="#6a3c88" dominant-baseline="central">Point Lavapie</text><line x1="164.3" y1="116.8" x2="164.3" y2="111.8" stroke="#111" stroke-width="1"/><polygon points="164.3,110.6 163.1,113.0 165.5,113.0" fill="#111"/><text x="166.3" y="114.6" font-size="7.2" font-weight="bold" letter-spacing="0.25" font-family="Liberation Sans, sans-serif" fill="#111" dominant-baseline="central">10 cm s<tspan font-size="4.8" dy="-2.2">-1</tspan></text><line x1="108" y1="123.6" x2="204" y2="123.6" stroke="#e050e0" stroke-width="0.8" stroke-dasharray="1,1.6" opacity="0.8"/><line x1="167.8" y1="254.0" x2="167.8" y2="249.0" stroke="#111" stroke-width="1"/><polygon points="167.8,247.8 166.6,250.2 169.0,250.2" fill="#111"/><text x="169.8" y="251.8" font-size="7.2" font-weight="bold" letter-spacing="0.25" font-family="Liberation Sans, sans-serif" fill="#111" dominant-baseline="central">10 cm s<tspan font-size="4.8" dy="-2.2">-1</tspan></text><rect x="30.5" y="121.5" width="22" height="2.3" fill="#111"/><rect x="52.5" y="121.5" width="22.5" height="2.3" fill="#c8ecd8" stroke="#111" stroke-width="0.7"/><text x="28.0" y="114.7" font-size="8" font-weight="bold" font-family="Liberation Sans, sans-serif" fill="#111" dominant-baseline="central">0</text><text x="47.7" y="114.7" font-size="8" font-weight="bold" font-family="Liberation Sans, sans-serif" fill="#111" dominant-baseline="central">50</text><text x="66.8" y="114.7" font-size="8" font-weight="bold" font-family="Liberation Sans, sans-serif" fill="#111" dominant-baseline="central">100 km</text><rect x="30.5" y="258.8" width="22" height="2.3" fill="#500000"/><rect x="52.5" y="258.8" width="22.5" height="2.3" fill="#fff" stroke="#c03030" stroke-width="0.7"/><text x="28.0" y="252.0" font-size="8" font-weight="bold" font-family="Liberation Sans, sans-serif" fill="#111" dominant-baseline="central">0</text><text x="47.7" y="252.0" font-size="8" font-weight="bold" font-family="Liberation Sans, sans-serif" fill="#111" dominant-baseline="central">50</text><text x="66.8" y="252.0" font-size="8" font-weight="bold" font-family="Liberation Sans, sans-serif" fill="#111" dominant-baseline="central">100 km</text><line x1="279.50" y1="8.80" x2="279.50" y2="121.30" stroke="#d2d2d2" stroke-width="0.8"/><line x1="301.00" y1="8.80" x2="301.00" y2="121.30" stroke="#d2d2d2" stroke-width="0.8"/><line x1="322.50" y1="8.80" x2="322.50" y2="121.30" stroke="#d2d2d2" stroke-width="0.8"/><line x1="344.00" y1="8.80" x2="344.00" y2="121.30" stroke="#d2d2d2" stroke-width="0.8"/><line x1="365.50" y1="8.80" x2="365.50" y2="121.30" stroke="#d2d2d2" stroke-width="0.8"/><line x1="258.00" y1="110.05" x2="387.00" y2="110.05" stroke="#d2d2d2" stroke-width="0.8"/><line x1="258.00" y1="98.80" x2="387.00" y2="98.80" stroke="#d2d2d2" stroke-width="0.8"/><line x1="258.00" y1="87.55" x2="387.00" y2="87.55" stroke="#d2d2d2" stroke-width="0.8"/><line x1="258.00" y1="76.30" x2="387.00" y2="76.30" stroke="#d2d2d2" stroke-width="0.8"/><line x1="258.00" y1="65.05" x2="387.00" y2="65.05" stroke="#d2d2d2" stroke-width="0.8"/><line x1="258.00" y1="53.80" x2="387.00" y2="53.80" stroke="#d2d2d2" stroke-width="0.8"/><line x1="258.00" y1="42.55" x2="387.00" y2="42.55" stroke="#d2d2d2" stroke-width="0.8"/><line x1="258.00" y1="31.30" x2="387.00" y2="31.30" stroke="#d2d2d2" stroke-width="0.8"/><line x1="258.00" y1="20.05" x2="387.00" y2="20.05" stroke="#d2d2d2" stroke-width="0.8"/><rect x="333" y="85" width="9" height="9" fill="#fdeef5"/><rect x="355" y="99" width="9" height="7" fill="#f9f0fb"/><path d="M258.50,73.80 C259.08,73.60 260.78,72.90 262.00,72.60 C263.22,72.30 264.30,71.85 265.80,72.00 C267.30,72.15 268.88,73.13 271.00,73.50 C273.12,73.87 276.50,74.45 278.50,74.20 C280.50,73.95 281.50,72.63 283.00,72.00 C284.50,71.37 285.83,70.53 287.50,70.40 C289.17,70.27 291.25,70.83 293.00,71.20 C294.75,71.57 296.50,72.08 298.00,72.60 C299.50,73.12 300.60,73.70 302.00,74.30 C303.40,74.90 304.73,75.82 306.40,76.20 C308.07,76.58 310.33,76.52 312.00,76.60 C313.67,76.68 315.07,76.62 316.40,76.70 C317.73,76.78 318.57,76.68 320.00,77.10 C321.43,77.52 323.50,78.43 325.00,79.20 C326.50,79.97 327.67,80.73 329.00,81.70 C330.33,82.67 331.55,83.72 333.00,85.00 C334.45,86.28 336.20,87.97 337.70,89.40 C339.20,90.83 340.45,92.18 342.00,93.60 C343.55,95.02 345.17,96.67 347.00,97.90 C348.83,99.13 350.93,100.18 353.00,101.00 C355.07,101.82 357.23,102.30 359.40,102.80 C361.57,103.30 363.57,103.67 366.00,104.00 C368.43,104.33 371.50,104.63 374.00,104.80 C376.50,104.97 378.83,104.97 381.00,105.00 C383.17,105.03 386.00,105.00 387.00,105.00" fill="none" stroke="#1e1e2e" stroke-width="1.10" stroke-linejoin="round" stroke-linecap="round" opacity="1.00"/><circle cx="316.4" cy="76.7" r="2.0" fill="#a050e0"/><circle cx="337.7" cy="89.4" r="1.8" fill="#a05a20"/><circle cx="359.4" cy="102.8" r="2.0" fill="#7050e8"/><rect x="258.00" y="8.80" width="129.00" height="112.50" fill="none" stroke="#555" stroke-width="1.0"/><line x1="279.50" y1="121.30" x2="279.50" y2="119.80" stroke="#222" stroke-width="0.6"/><line x1="279.50" y1="8.80" x2="279.50" y2="10.30" stroke="#222" stroke-width="0.6"/><line x1="301.00" y1="121.30" x2="301.00" y2="119.80" stroke="#222" stroke-width="0.6"/><line x1="301.00" y1="8.80" x2="301.00" y2="10.30" stroke="#222" stroke-width="0.6"/><line x1="322.50" y1="121.30" x2="322.50" y2="119.80" stroke="#222" stroke-width="0.6"/><line x1="322.50" y1="8.80" x2="322.50" y2="10.30" stroke="#222" stroke-width="0.6"/><line x1="344.00" y1="121.30" x2="344.00" y2="119.80" stroke="#222" stroke-width="0.6"/><line x1="344.00" y1="8.80" x2="344.00" y2="10.30" stroke="#222" stroke-width="0.6"/><line x1="365.50" y1="121.30" x2="365.50" y2="119.80" stroke="#222" stroke-width="0.6"/><line x1="365.50" y1="8.80" x2="365.50" y2="10.30" stroke="#222" stroke-width="0.6"/><line x1="258.00" y1="110.05" x2="259.50" y2="110.05" stroke="#222" stroke-width="0.6"/><line x1="387.00" y1="110.05" x2="385.50" y2="110.05" stroke="#222" stroke-width="0.6"/><line x1="258.00" y1="98.80" x2="259.50" y2="98.80" stroke="#222" stroke-width="0.6"/><line x1="387.00" y1="98.80" x2="385.50" y2="98.80" stroke="#222" stroke-width="0.6"/><line x1="258.00" y1="87.55" x2="259.50" y2="87.55" stroke="#222" stroke-width="0.6"/><line x1="387.00" y1="87.55" x2="385.50" y2="87.55" stroke="#222" stroke-width="0.6"/><line x1="258.00" y1="76.30" x2="259.50" y2="76.30" stroke="#222" stroke-width="0.6"/><line x1="387.00" y1="76.30" x2="385.50" y2="76.30" stroke="#222" stroke-width="0.6"/><line x1="258.00" y1="65.05" x2="259.50" y2="65.05" stroke="#222" stroke-width="0.6"/><line x1="387.00" y1="65.05" x2="385.50" y2="65.05" stroke="#222" stroke-width="0.6"/><line x1="258.00" y1="53.80" x2="259.50" y2="53.80" stroke="#222" stroke-width="0.6"/><line x1="387.00" y1="53.80" x2="385.50" y2="53.80" stroke="#222" stroke-width="0.6"/><line x1="258.00" y1="42.55" x2="259.50" y2="42.55" stroke="#222" stroke-width="0.6"/><line x1="387.00" y1="42.55" x2="385.50" y2="42.55" stroke="#222" stroke-width="0.6"/><line x1="258.00" y1="31.30" x2="259.50" y2="31.30" stroke="#222" stroke-width="0.6"/><line x1="387.00" y1="31.30" x2="385.50" y2="31.30" stroke="#222" stroke-width="0.6"/><line x1="258.00" y1="20.05" x2="259.50" y2="20.05" stroke="#222" stroke-width="0.6"/><line x1="387.00" y1="20.05" x2="385.50" y2="20.05" stroke="#222" stroke-width="0.6"/><text x="256.80" y="121.30" font-size="5.2" font-weight="bold" font-family="Liberation Sans, sans-serif" fill="#333" text-anchor="end" dominant-baseline="central">13.5</text><text x="256.80" y="110.05" font-size="5.2" font-weight="bold" font-family="Liberation Sans, sans-serif" fill="#333" text-anchor="end" dominant-baseline="central">14</text><text x="256.80" y="98.80" font-size="5.2" font-weight="bold" font-family="Liberation Sans, sans-serif" fill="#333" text-anchor="end" dominant-baseline="central">14.5</text><text x="256.80" y="87.55" font-size="5.2" font-weight="bold" font-family="Liberation Sans, sans-serif" fill="#333" text-anchor="end" dominant-baseline="central">15</text><text x="256.80" y="76.30" font-size="5.2" font-weight="bold" font-family="Liberation Sans, sans-serif" fill="#333" text-anchor="end" dominant-baseline="central">15.5</text><text x="256.80" y="65.05" font-size="5.2" font-weight="bold" font-family="Liberation Sans, sans-serif" fill="#333" text-anchor="end" dominant-baseline="central">16</text><text x="256.80" y="53.80" font-size="5.2" font-weight="bold" font-family="Liberation Sans, sans-serif" fill="#333" text-anchor="end" dominant-baseline="central">16.5</text><text x="256.80" y="42.55" font-size="5.2" font-weight="bold" font-family="Liberation Sans, sans-serif" fill="#333" text-anchor="end" dominant-baseline="central">17</text><text x="256.80" y="31.30" font-size="5.2" font-weight="bold" font-family="Liberation Sans, sans-serif" fill="#333" text-anchor="end" dominant-baseline="central">17.5</text><text x="256.80" y="20.05" font-size="5.2" font-weight="bold" font-family="Liberation Sans, sans-serif" fill="#333" text-anchor="end" dominant-baseline="central">18</text><text x="256.80" y="8.80" font-size="5.2" font-weight="bold" font-family="Liberation Sans, sans-serif" fill="#333" text-anchor="end" dominant-baseline="central">18.5</text><text x="258.00" y="126.10" font-size="5.2" font-weight="bold" font-family="Liberation Sans, sans-serif" fill="#333" text-anchor="middle" dominant-baseline="central">300</text><text x="279.50" y="126.10" font-size="5.2" font-weight="bold" font-family="Liberation Sans, sans-serif" fill="#333" text-anchor="middle" dominant-baseline="central">250</text><text x="301.00" y="126.10" font-size="5.2" font-weight="bold" font-family="Liberation Sans, sans-serif" fill="#333" text-anchor="middle" dominant-baseline="central">200</text><text x="322.50" y="126.10" font-size="5.2" font-weight="bold" font-family="Liberation Sans, sans-serif" fill="#333" text-anchor="middle" dominant-baseline="central">150</text><text x="344.00" y="126.10" font-size="5.2" font-weight="bold" font-family="Liberation Sans, sans-serif" fill="#333" text-anchor="middle" dominant-baseline="central">100</text><text x="365.50" y="126.10" font-size="5.2" font-weight="bold" font-family="Liberation Sans, sans-serif" fill="#333" text-anchor="middle" dominant-baseline="central">50</text><text x="387.00" y="126.10" font-size="5.2" font-weight="bold" font-family="Liberation Sans, sans-serif" fill="#333" text-anchor="middle" dominant-baseline="central">0</text><text x="322.50" y="131.60" font-size="5.2" font-weight="bold" font-family="Liberation Sans, sans-serif" fill="#222" text-anchor="middle" dominant-baseline="central">distance from the coast (km)</text><line x1="280.05" y1="147.80" x2="280.05" y2="261.60" stroke="#d2d2d2" stroke-width="0.8"/><line x1="301.90" y1="147.80" x2="301.90" y2="261.60" stroke="#d2d2d2" stroke-width="0.8"/><line x1="323.75" y1="147.80" x2="323.75" y2="261.60" stroke="#d2d2d2" stroke-width="0.8"/><line x1="345.60" y1="147.80" x2="345.60" y2="261.60" stroke="#d2d2d2" stroke-width="0.8"/><line x1="367.45" y1="147.80" x2="367.45" y2="261.60" stroke="#d2d2d2" stroke-width="0.8"/><line x1="258.20" y1="250.22" x2="389.30" y2="250.22" stroke="#d2d2d2" stroke-width="0.8"/><line x1="258.20" y1="238.84" x2="389.30" y2="238.84" stroke="#d2d2d2" stroke-width="0.8"/><line x1="258.20" y1="227.46" x2="389.30" y2="227.46" stroke="#d2d2d2" stroke-width="0.8"/><line x1="258.20" y1="216.08" x2="389.30" y2="216.08" stroke="#d2d2d2" stroke-width="0.8"/><line x1="258.20" y1="204.70" x2="389.30" y2="204.70" stroke="#d2d2d2" stroke-width="0.8"/><line x1="258.20" y1="193.32" x2="389.30" y2="193.32" stroke="#d2d2d2" stroke-width="0.8"/><line x1="258.20" y1="181.94" x2="389.30" y2="181.94" stroke="#d2d2d2" stroke-width="0.8"/><line x1="258.20" y1="170.56" x2="389.30" y2="170.56" stroke="#d2d2d2" stroke-width="0.8"/><line x1="258.20" y1="159.18" x2="389.30" y2="159.18" stroke="#d2d2d2" stroke-width="0.8"/><path d="M258.50,171.60 C259.25,172.50 261.42,175.10 263.00,177.00 C264.58,178.90 266.50,181.08 268.00,183.00 C269.50,184.92 270.75,186.83 272.00,188.50 C273.25,190.17 274.33,191.65 275.50,193.00 C276.67,194.35 277.95,195.77 279.00,196.60 C280.05,197.43 280.63,197.90 281.80,198.00 C282.97,198.10 284.53,197.82 286.00,197.20 C287.47,196.58 289.18,195.23 290.60,194.30 C292.02,193.37 293.23,192.23 294.50,191.60 C295.77,190.97 296.95,190.57 298.20,190.50 C299.45,190.43 300.73,190.87 302.00,191.20 C303.27,191.53 304.72,192.03 305.80,192.50 C306.88,192.97 307.55,193.08 308.50,194.00 C309.45,194.92 310.52,196.50 311.50,198.00 C312.48,199.50 313.40,201.90 314.40,203.00 C315.40,204.10 316.53,204.33 317.50,204.60 C318.47,204.87 319.28,204.62 320.20,204.60 C321.12,204.58 322.03,203.77 323.00,204.50 C323.97,205.23 325.03,207.08 326.00,209.00 C326.97,210.92 327.80,214.17 328.80,216.00 C329.80,217.83 330.93,218.68 332.00,220.00 C333.07,221.32 334.20,222.23 335.20,223.90 C336.20,225.57 337.10,227.90 338.00,230.00 C338.90,232.10 339.48,234.22 340.60,236.50 C341.72,238.78 343.33,242.23 344.70,243.70 C346.07,245.17 347.42,244.87 348.80,245.30 C350.18,245.73 351.47,245.88 353.00,246.30 C354.53,246.72 356.67,247.18 358.00,247.80 C359.33,248.42 359.67,249.10 361.00,250.00 C362.33,250.90 364.27,252.03 366.00,253.20 C367.73,254.37 369.90,255.95 371.40,257.00 C372.90,258.05 373.97,258.73 375.00,259.50 C376.03,260.27 377.17,261.25 377.60,261.60" fill="none" stroke="#302a80" stroke-width="1.30" stroke-linejoin="round" stroke-linecap="round" opacity="1.00"/><path d="M258.50,171.60 C259.25,172.50 261.42,175.10 263.00,177.00 C264.58,178.90 266.50,181.08 268.00,183.00 C269.50,184.92 270.75,186.83 272.00,188.50 C273.25,190.17 274.33,191.65 275.50,193.00 C276.67,194.35 277.95,195.77 279.00,196.60 C280.05,197.43 280.63,197.90 281.80,198.00 C282.97,198.10 284.53,197.82 286.00,197.20 C287.47,196.58 289.18,195.23 290.60,194.30 C292.02,193.37 293.23,192.23 294.50,191.60 C295.77,190.97 296.95,190.57 298.20,190.50 C299.45,190.43 300.73,190.87 302.00,191.20 C303.27,191.53 304.72,192.03 305.80,192.50 C306.88,192.97 307.55,193.08 308.50,194.00 C309.45,194.92 310.52,196.50 311.50,198.00 C312.48,199.50 313.40,201.90 314.40,203.00 C315.40,204.10 316.53,204.33 317.50,204.60 C318.47,204.87 319.28,204.62 320.20,204.60 C321.12,204.58 322.03,203.77 323.00,204.50 C323.97,205.23 325.03,207.08 326.00,209.00 C326.97,210.92 327.80,214.17 328.80,216.00 C329.80,217.83 330.93,218.68 332.00,220.00 C333.07,221.32 334.20,222.23 335.20,223.90 C336.20,225.57 337.10,227.90 338.00,230.00 C338.90,232.10 339.48,234.22 340.60,236.50 C341.72,238.78 343.33,242.23 344.70,243.70 C346.07,245.17 347.42,244.87 348.80,245.30 C350.18,245.73 351.47,245.88 353.00,246.30 C354.53,246.72 356.67,247.18 358.00,247.80 C359.33,248.42 359.67,249.10 361.00,250.00 C362.33,250.90 364.27,252.03 366.00,253.20 C367.73,254.37 369.90,255.95 371.40,257.00 C372.90,258.05 373.97,258.73 375.00,259.50 C376.03,260.27 377.17,261.25 377.60,261.60" fill="none" stroke="#111" stroke-width="0.70" stroke-dasharray="1.6,0.8" stroke-linejoin="round" stroke-linecap="round" opacity="1.00"/><circle cx="320.2" cy="204.6" r="2.0" fill="#a050e0"/><circle cx="335.2" cy="223.9" r="1.6" fill="#8a5a20"/><circle cx="348.8" cy="245.3" r="2.0" fill="#9050e0"/><rect x="258.20" y="147.80" width="131.10" height="113.80" fill="none" stroke="#555" stroke-width="1.0"/><line x1="280.05" y1="261.60" x2="280.05" y2="260.10" stroke="#222" stroke-width="0.6"/><line x1="280.05" y1="147.80" x2="280.05" y2="149.30" stroke="#222" stroke-width="0.6"/><line x1="301.90" y1="261.60" x2="301.90" y2="260.10" stroke="#222" stroke-width="0.6"/><line x1="301.90" y1="147.80" x2="301.90" y2="149.30" stroke="#222" stroke-width="0.6"/><line x1="323.75" y1="261.60" x2="323.75" y2="260.10" stroke="#222" stroke-width="0.6"/><line x1="323.75" y1="147.80" x2="323.75" y2="149.30" stroke="#222" stroke-width="0.6"/><line x1="345.60" y1="261.60" x2="345.60" y2="260.10" stroke="#222" stroke-width="0.6"/><line x1="345.60" y1="147.80" x2="345.60" y2="149.30" stroke="#222" stroke-width="0.6"/><line x1="367.45" y1="261.60" x2="367.45" y2="260.10" stroke="#222" stroke-width="0.6"/><line x1="367.45" y1="147.80" x2="367.45" y2="149.30" stroke="#222" stroke-width="0.6"/><line x1="258.20" y1="250.22" x2="259.70" y2="250.22" stroke="#222" stroke-width="0.6"/><line x1="389.30" y1="250.22" x2="387.80" y2="250.22" stroke="#222" stroke-width="0.6"/><line x1="258.20" y1="238.84" x2="259.70" y2="238.84" stroke="#222" stroke-width="0.6"/><line x1="389.30" y1="238.84" x2="387.80" y2="238.84" stroke="#222" stroke-width="0.6"/><line x1="258.20" y1="227.46" x2="259.70" y2="227.46" stroke="#222" stroke-width="0.6"/><line x1="389.30" y1="227.46" x2="387.80" y2="227.46" stroke="#222" stroke-width="0.6"/><line x1="258.20" y1="216.08" x2="259.70" y2="216.08" stroke="#222" stroke-width="0.6"/><line x1="389.30" y1="216.08" x2="387.80" y2="216.08" stroke="#222" stroke-width="0.6"/><line x1="258.20" y1="204.70" x2="259.70" y2="204.70" stroke="#222" stroke-width="0.6"/><line x1="389.30" y1="204.70" x2="387.80" y2="204.70" stroke="#222" stroke-width="0.6"/><line x1="258.20" y1="193.32" x2="259.70" y2="193.32" stroke="#222" stroke-width="0.6"/><line x1="389.30" y1="193.32" x2="387.80" y2="193.32" stroke="#222" stroke-width="0.6"/><line x1="258.20" y1="181.94" x2="259.70" y2="181.94" stroke="#222" stroke-width="0.6"/><line x1="389.30" y1="181.94" x2="387.80" y2="181.94" stroke="#222" stroke-width="0.6"/><line x1="258.20" y1="170.56" x2="259.70" y2="170.56" stroke="#222" stroke-width="0.6"/><line x1="389.30" y1="170.56" x2="387.80" y2="170.56" stroke="#222" stroke-width="0.6"/><line x1="258.20" y1="159.18" x2="259.70" y2="159.18" stroke="#222" stroke-width="0.6"/><line x1="389.30" y1="159.18" x2="387.80" y2="159.18" stroke="#222" stroke-width="0.6"/><text x="257.00" y="261.60" font-size="5.2" font-weight="bold" font-family="Liberation Sans, sans-serif" fill="#333" text-anchor="end" dominant-baseline="central">13.5</text><text x="257.00" y="250.22" font-size="5.2" font-weight="bold" font-family="Liberation Sans, sans-serif" fill="#333" text-anchor="end" dominant-baseline="central">14</text><text x="257.00" y="238.84" font-size="5.2" font-weight="bold" font-family="Liberation Sans, sans-serif" fill="#333" text-anchor="end" dominant-baseline="central">14.5</text><text x="257.00" y="227.46" font-size="5.2" font-weight="bold" font-family="Liberation Sans, sans-serif" fill="#333" text-anchor="end" dominant-baseline="central">15</text><text x="257.00" y="216.08" font-size="5.2" font-weight="bold" font-family="Liberation Sans, sans-serif" fill="#333" text-anchor="end" dominant-baseline="central">15.5</text><text x="257.00" y="204.70" font-size="5.2" font-weight="bold" font-family="Liberation Sans, sans-serif" fill="#333" text-anchor="end" dominant-baseline="central">16</text><text x="257.00" y="193.32" font-size="5.2" font-weight="bold" font-family="Liberation Sans, sans-serif" fill="#333" text-anchor="end" dominant-baseline="central">16.5</text><text x="257.00" y="181.94" font-size="5.2" font-weight="bold" font-family="Liberation Sans, sans-serif" fill="#333" text-anchor="end" dominant-baseline="central">17</text><text x="257.00" y="170.56" font-size="5.2" font-weight="bold" font-family="Liberation Sans, sans-serif" fill="#333" text-anchor="end" dominant-baseline="central">17.5</text><text x="257.00" y="159.18" font-size="5.2" font-weight="bold" font-family="Liberation Sans, sans-serif" fill="#333" text-anchor="end" dominant-baseline="central">18</text><text x="257.00" y="147.80" font-size="5.2" font-weight="bold" font-family="Liberation Sans, sans-serif" fill="#333" text-anchor="end" dominant-baseline="central">18.5</text><text x="258.20" y="266.40" font-size="5.2" font-weight="bold" font-family="Liberation Sans, sans-serif" fill="#333" text-anchor="middle" dominant-baseline="central">300</text><text x="280.05" y="266.40" font-size="5.2" font-weight="bold" font-family="Liberation Sans, sans-serif" fill="#333" text-anchor="middle" dominant-baseline="central">250</text><text x="301.90" y="266.40" font-size="5.2" font-weight="bold" font-family="Liberation Sans, sans-serif" fill="#333" text-anchor="middle" dominant-baseline="central">200</text><text x="323.75" y="266.40" font-size="5.2" font-weight="bold" font-family="Liberation Sans, sans-serif" fill="#333" text-anchor="middle" dominant-baseline="central">150</text><text x="345.60" y="266.40" font-size="5.2" font-weight="bold" font-family="Liberation Sans, sans-serif" fill="#333" text-anchor="middle" dominant-baseline="central">100</text><text x="367.45" y="266.40" font-size="5.2" font-weight="bold" font-family="Liberation Sans, sans-serif" fill="#333" text-anchor="middle" dominant-baseline="central">50</text><text x="389.30" y="266.40" font-size="5.2" font-weight="bold" font-family="Liberation Sans, sans-serif" fill="#333" text-anchor="middle" dominant-baseline="central">0</text><text x="323.75" y="271.90" font-size="5.2" font-weight="bold" font-family="Liberation Sans, sans-serif" fill="#222" text-anchor="middle" dominant-baseline="central">distance from the coast (km)</text><line x1="437.50" y1="9.00" x2="437.50" y2="121.60" stroke="#d2d2d2" stroke-width="0.8"/><line x1="458.00" y1="9.00" x2="458.00" y2="121.60" stroke="#d2d2d2" stroke-width="0.8"/><line x1="478.50" y1="9.00" x2="478.50" y2="121.60" stroke="#d2d2d2" stroke-width="0.8"/><line x1="499.00" y1="9.00" x2="499.00" y2="121.60" stroke="#d2d2d2" stroke-width="0.8"/><line x1="519.50" y1="9.00" x2="519.50" y2="121.60" stroke="#d2d2d2" stroke-width="0.8"/><line x1="417.00" y1="105.51" x2="540.00" y2="105.51" stroke="#d2d2d2" stroke-width="0.8"/><line x1="417.00" y1="89.43" x2="540.00" y2="89.43" stroke="#d2d2d2" stroke-width="0.8"/><line x1="417.00" y1="73.34" x2="540.00" y2="73.34" stroke="#d2d2d2" stroke-width="0.8"/><line x1="417.00" y1="57.26" x2="540.00" y2="57.26" stroke="#d2d2d2" stroke-width="0.8"/><line x1="417.00" y1="41.17" x2="540.00" y2="41.17" stroke="#d2d2d2" stroke-width="0.8"/><line x1="417.00" y1="25.09" x2="540.00" y2="25.09" stroke="#d2d2d2" stroke-width="0.8"/><line x1="417" y1="58.7" x2="540" y2="58.7" stroke="#f07070" stroke-width="0.8"/><line x1="417" y1="60.2" x2="540" y2="60.2" stroke="#d07a20" stroke-width="1.0" stroke-dasharray="1,1.1"/><path d="M423.40,36.60 C423.92,37.83 425.28,41.17 426.50,44.00 C427.72,46.83 429.62,53.60 430.70,53.60 C431.78,53.60 432.32,47.60 433.00,44.00 C433.68,40.40 434.22,35.08 434.80,32.00 C435.38,28.92 435.88,26.95 436.50,25.50 C437.12,24.05 437.67,23.63 438.50,23.30 C439.33,22.97 440.67,23.13 441.50,23.50 C442.33,23.87 442.83,24.42 443.50,25.50 C444.17,26.58 444.92,28.25 445.50,30.00 C446.08,31.75 446.42,33.42 447.00,36.00 C447.58,38.58 448.17,42.33 449.00,45.50 C449.83,48.67 450.83,51.97 452.00,55.00 C453.17,58.03 454.83,62.53 456.00,63.70 C457.17,64.87 458.00,63.45 459.00,62.00 C460.00,60.55 461.00,57.50 462.00,55.00 C463.00,52.50 464.00,48.88 465.00,47.00 C466.00,45.12 467.08,44.12 468.00,43.70 C468.92,43.28 469.75,43.78 470.50,44.50 C471.25,45.22 471.62,45.52 472.50,48.00 C473.38,50.48 474.88,56.07 475.80,59.40 C476.72,62.73 477.13,64.73 478.00,68.00 C478.87,71.27 479.92,75.50 481.00,79.00 C482.08,82.50 483.22,86.10 484.50,89.00 C485.78,91.90 487.28,95.48 488.70,96.40 C490.12,97.32 491.55,96.18 493.00,94.50 C494.45,92.82 496.23,88.72 497.40,86.30 C498.57,83.88 499.07,81.92 500.00,80.00 C500.93,78.08 501.67,77.47 503.00,74.80 C504.33,72.13 506.30,67.37 508.00,64.00 C509.70,60.63 511.70,56.85 513.20,54.60 C514.70,52.35 515.55,51.70 517.00,50.50 C518.45,49.30 520.23,48.28 521.90,47.40 C523.57,46.52 525.32,45.83 527.00,45.20 C528.68,44.57 530.50,44.08 532.00,43.60 C533.50,43.12 534.67,42.73 536.00,42.30 C537.33,41.87 539.33,41.22 540.00,41.00" fill="none" stroke="#4c48d8" stroke-width="1.30" stroke-linejoin="round" stroke-linecap="round" opacity="1.00"/><path d="M423.40,44.70 C424.17,43.83 426.07,40.95 428.00,39.50 C429.93,38.05 432.83,36.50 435.00,36.00 C437.17,35.50 439.07,35.77 441.00,36.50 C442.93,37.23 444.93,38.65 446.60,40.40 C448.27,42.15 449.30,44.67 451.00,47.00 C452.70,49.33 455.13,53.07 456.80,54.40 C458.47,55.73 459.30,55.43 461.00,55.00 C462.70,54.57 465.33,52.05 467.00,51.80 C468.67,51.55 469.53,52.23 471.00,53.50 C472.47,54.77 474.55,56.82 475.80,59.40 C477.05,61.98 477.55,65.57 478.50,69.00 C479.45,72.43 480.25,77.00 481.50,80.00 C482.75,83.00 484.32,85.23 486.00,87.00 C487.68,88.77 489.77,90.52 491.60,90.60 C493.43,90.68 495.32,89.18 497.00,87.50 C498.68,85.82 500.03,83.75 501.70,80.50 C503.37,77.25 505.12,72.08 507.00,68.00 C508.88,63.92 511.33,58.83 513.00,56.00 C514.67,53.17 515.50,52.33 517.00,51.00 C518.50,49.67 520.33,48.90 522.00,48.00 C523.67,47.10 525.33,46.27 527.00,45.60 C528.67,44.93 529.83,44.77 532.00,44.00 C534.17,43.23 538.67,41.50 540.00,41.00" fill="none" stroke="#1a1a1a" stroke-width="1.05" stroke-dasharray="1.5,1.6" stroke-linejoin="round" stroke-linecap="round" opacity="1.00"/><circle cx="481.5" cy="80.0" r="1.7" fill="#111"/><circle cx="501.7" cy="80.5" r="1.7" fill="#111"/><circle cx="471.5" cy="46.0" r="2.0" fill="#b060e0"/><circle cx="513.0" cy="54.5" r="2.0" fill="#b060e0"/><line x1="503" y1="67.5" x2="512" y2="67.5" stroke="#60d0f0" stroke-width="0.8"/><rect x="417.00" y="9.00" width="123.00" height="112.60" fill="none" stroke="#555" stroke-width="1.0"/><line x1="437.50" y1="121.60" x2="437.50" y2="120.10" stroke="#222" stroke-width="0.6"/><line x1="437.50" y1="9.00" x2="437.50" y2="10.50" stroke="#222" stroke-width="0.6"/><line x1="458.00" y1="121.60" x2="458.00" y2="120.10" stroke="#222" stroke-width="0.6"/><line x1="458.00" y1="9.00" x2="458.00" y2="10.50" stroke="#222" stroke-width="0.6"/><line x1="478.50" y1="121.60" x2="478.50" y2="120.10" stroke="#222" stroke-width="0.6"/><line x1="478.50" y1="9.00" x2="478.50" y2="10.50" stroke="#222" stroke-width="0.6"/><line x1="499.00" y1="121.60" x2="499.00" y2="120.10" stroke="#222" stroke-width="0.6"/><line x1="499.00" y1="9.00" x2="499.00" y2="10.50" stroke="#222" stroke-width="0.6"/><line x1="519.50" y1="121.60" x2="519.50" y2="120.10" stroke="#222" stroke-width="0.6"/><line x1="519.50" y1="9.00" x2="519.50" y2="10.50" stroke="#222" stroke-width="0.6"/><line x1="417.00" y1="105.51" x2="418.50" y2="105.51" stroke="#222" stroke-width="0.6"/><line x1="540.00" y1="105.51" x2="538.50" y2="105.51" stroke="#222" stroke-width="0.6"/><line x1="417.00" y1="89.43" x2="418.50" y2="89.43" stroke="#222" stroke-width="0.6"/><line x1="540.00" y1="89.43" x2="538.50" y2="89.43" stroke="#222" stroke-width="0.6"/><line x1="417.00" y1="73.34" x2="418.50" y2="73.34" stroke="#222" stroke-width="0.6"/><line x1="540.00" y1="73.34" x2="538.50" y2="73.34" stroke="#222" stroke-width="0.6"/><line x1="417.00" y1="57.26" x2="418.50" y2="57.26" stroke="#222" stroke-width="0.6"/><line x1="540.00" y1="57.26" x2="538.50" y2="57.26" stroke="#222" stroke-width="0.6"/><line x1="417.00" y1="41.17" x2="418.50" y2="41.17" stroke="#222" stroke-width="0.6"/><line x1="540.00" y1="41.17" x2="538.50" y2="41.17" stroke="#222" stroke-width="0.6"/><line x1="417.00" y1="25.09" x2="418.50" y2="25.09" stroke="#222" stroke-width="0.6"/><line x1="540.00" y1="25.09" x2="538.50" y2="25.09" stroke="#222" stroke-width="0.6"/><text x="415.80" y="121.60" font-size="5.2" font-weight="bold" font-family="Liberation Sans, sans-serif" fill="#333" text-anchor="end" dominant-baseline="central">−0.025</text><text x="415.80" y="105.51" font-size="5.2" font-weight="bold" font-family="Liberation Sans, sans-serif" fill="#333" text-anchor="end" dominant-baseline="central">−0.02</text><text x="415.80" y="89.43" font-size="5.2" font-weight="bold" font-family="Liberation Sans, sans-serif" fill="#333" text-anchor="end" dominant-baseline="central">−0.015</text><text x="415.80" y="73.34" font-size="5.2" font-weight="bold" font-family="Liberation Sans, sans-serif" fill="#333" text-anchor="end" dominant-baseline="central">−0.01</text><text x="415.80" y="57.26" font-size="5.2" font-weight="bold" font-family="Liberation Sans, sans-serif" fill="#333" text-anchor="end" dominant-baseline="central">−0.005</text><text x="415.80" y="41.17" font-size="5.2" font-weight="bold" font-family="Liberation Sans, sans-serif" fill="#333" text-anchor="end" dominant-baseline="central">0</text><text x="415.80" y="25.09" font-size="5.2" font-weight="bold" font-family="Liberation Sans, sans-serif" fill="#333" text-anchor="end" dominant-baseline="central">0.005</text><text x="415.80" y="9.00" font-size="5.2" font-weight="bold" font-family="Liberation Sans, sans-serif" fill="#333" text-anchor="end" dominant-baseline="central">0.01</text><text x="417.00" y="126.40" font-size="5.2" font-weight="bold" font-family="Liberation Sans, sans-serif" fill="#333" text-anchor="middle" dominant-baseline="central">300</text><text x="437.50" y="126.40" font-size="5.2" font-weight="bold" font-family="Liberation Sans, sans-serif" fill="#333" text-anchor="middle" dominant-baseline="central">250</text><text x="458.00" y="126.40" font-size="5.2" font-weight="bold" font-family="Liberation Sans, sans-serif" fill="#333" text-anchor="middle" dominant-baseline="central">200</text><text x="478.50" y="126.40" font-size="5.2" font-weight="bold" font-family="Liberation Sans, sans-serif" fill="#333" text-anchor="middle" dominant-baseline="central">150</text><text x="499.00" y="126.40" font-size="5.2" font-weight="bold" font-family="Liberation Sans, sans-serif" fill="#333" text-anchor="middle" dominant-baseline="central">100</text><text x="519.50" y="126.40" font-size="5.2" font-weight="bold" font-family="Liberation Sans, sans-serif" fill="#333" text-anchor="middle" dominant-baseline="central">50</text><text x="540.00" y="126.40" font-size="5.2" font-weight="bold" font-family="Liberation Sans, sans-serif" fill="#333" text-anchor="middle" dominant-baseline="central">0</text><text x="478.50" y="131.90" font-size="5.2" font-weight="bold" font-family="Liberation Sans, sans-serif" fill="#222" text-anchor="middle" dominant-baseline="central">distance from the coast (km)</text><line x1="438.50" y1="145.70" x2="438.50" y2="261.00" stroke="#d2d2d2" stroke-width="0.8"/><line x1="460.00" y1="145.70" x2="460.00" y2="261.00" stroke="#d2d2d2" stroke-width="0.8"/><line x1="481.50" y1="145.70" x2="481.50" y2="261.00" stroke="#d2d2d2" stroke-width="0.8"/><line x1="503.00" y1="145.70" x2="503.00" y2="261.00" stroke="#d2d2d2" stroke-width="0.8"/><line x1="524.50" y1="145.70" x2="524.50" y2="261.00" stroke="#d2d2d2" stroke-width="0.8"/><line x1="417.00" y1="244.53" x2="546.00" y2="244.53" stroke="#d2d2d2" stroke-width="0.8"/><line x1="417.00" y1="228.06" x2="546.00" y2="228.06" stroke="#d2d2d2" stroke-width="0.8"/><line x1="417.00" y1="211.59" x2="546.00" y2="211.59" stroke="#d2d2d2" stroke-width="0.8"/><line x1="417.00" y1="195.11" x2="546.00" y2="195.11" stroke="#d2d2d2" stroke-width="0.8"/><line x1="417.00" y1="178.64" x2="546.00" y2="178.64" stroke="#d2d2d2" stroke-width="0.8"/><line x1="417.00" y1="162.17" x2="546.00" y2="162.17" stroke="#d2d2d2" stroke-width="0.8"/><path d="M423.50,223.90 C424.08,223.67 425.95,223.18 427.00,222.50 C428.05,221.82 428.80,222.08 429.80,219.80 C430.80,217.52 431.80,212.98 433.00,208.80 C434.20,204.62 435.67,200.00 437.00,194.70 C438.33,189.40 439.75,182.12 441.00,177.00 C442.25,171.88 443.40,167.00 444.50,164.00 C445.60,161.00 446.52,159.17 447.60,159.00 C448.68,158.83 449.77,160.27 451.00,163.00 C452.23,165.73 453.83,171.73 455.00,175.40 C456.17,179.07 457.05,182.07 458.00,185.00 C458.95,187.93 459.53,189.70 460.70,193.00 C461.87,196.30 463.78,202.13 465.00,204.80 C466.22,207.47 466.78,209.25 468.00,209.00 C469.22,208.75 471.02,205.80 472.30,203.30 C473.58,200.80 474.50,195.22 475.70,194.00 C476.90,192.78 478.45,194.83 479.50,196.00 C480.55,197.17 481.28,199.07 482.00,201.00 C482.72,202.93 483.13,203.60 483.80,207.60 C484.47,211.60 485.30,219.60 486.00,225.00 C486.70,230.40 487.33,236.67 488.00,240.00 C488.67,243.33 489.08,243.92 490.00,245.00 C490.92,246.08 492.33,246.67 493.50,246.50 C494.67,246.33 496.00,245.92 497.00,244.00 C498.00,242.08 498.67,239.00 499.50,235.00 C500.33,231.00 501.08,225.83 502.00,220.00 C502.92,214.17 503.95,205.42 505.00,200.00 C506.05,194.58 507.38,189.33 508.30,187.50 C509.22,185.67 509.78,187.33 510.50,189.00 C511.22,190.67 511.52,195.42 512.60,197.50 C513.68,199.58 515.32,200.53 517.00,201.50 C518.68,202.47 521.20,203.88 522.70,203.30 C524.20,202.72 524.78,199.92 526.00,198.00 C527.22,196.08 528.67,193.47 530.00,191.80 C531.33,190.13 532.57,189.20 534.00,188.00 C535.43,186.80 537.27,185.68 538.60,184.60 C539.93,183.52 540.77,182.70 542.00,181.50 C543.23,180.30 545.33,178.08 546.00,177.40" fill="none" stroke="#4c48d8" stroke-width="1.30" stroke-linejoin="round" stroke-linecap="round" opacity="1.00"/><path d="M423.50,222.00 C423.92,221.00 425.22,217.93 426.00,216.00 C426.78,214.07 427.20,212.73 428.20,210.40 C429.20,208.07 430.53,204.62 432.00,202.00 C433.47,199.38 435.33,197.87 437.00,194.70 C438.67,191.53 440.50,186.28 442.00,183.00 C443.50,179.72 444.78,176.78 446.00,175.00 C447.22,173.22 448.13,172.30 449.30,172.30 C450.47,172.30 451.72,173.05 453.00,175.00 C454.28,176.95 455.58,180.92 457.00,184.00 C458.42,187.08 460.00,191.17 461.50,193.50 C463.00,195.83 464.25,196.85 466.00,198.00 C467.75,199.15 470.00,198.80 472.00,200.40 C474.00,202.00 476.17,205.00 478.00,207.60 C479.83,210.20 481.33,213.10 483.00,216.00 C484.67,218.90 486.42,223.03 488.00,225.00 C489.58,226.97 491.00,228.13 492.50,227.80 C494.00,227.47 495.58,225.17 497.00,223.00 C498.42,220.83 499.50,217.97 501.00,214.80 C502.50,211.63 504.33,207.13 506.00,204.00 C507.67,200.87 509.33,197.38 511.00,196.00 C512.67,194.62 514.05,195.70 516.00,195.70 C517.95,195.70 520.87,196.45 522.70,196.00 C524.53,195.55 525.32,194.18 527.00,193.00 C528.68,191.82 530.97,190.40 532.80,188.90 C534.63,187.40 536.47,185.32 538.00,184.00 C539.53,182.68 540.67,182.10 542.00,181.00 C543.33,179.90 545.33,178.00 546.00,177.40" fill="none" stroke="#222" stroke-width="1.00" stroke-dasharray="1.4,1.7" stroke-linejoin="round" stroke-linecap="round" opacity="1.00"/><circle cx="461.5" cy="193.5" r="1.7" fill="#111"/><circle cx="475.5" cy="194.5" r="1.3" fill="#c070e0"/><circle cx="508.0" cy="188.5" r="1.3" fill="#c070e0"/><line x1="463" y1="200.5" x2="484" y2="200.5" stroke="#90e0f6" stroke-width="1.2"/><line x1="484" y1="227.2" x2="501" y2="227.2" stroke="#a8ecf8" stroke-width="1.8"/><path d="M471.5,197 C473,193 475,192.5 477,194.5 L479.5,196.5" fill="none" stroke="#e080e8" stroke-width="2.2" opacity="0.7"/><path d="M505.5,192 C506.5,188 508,186 510,188.5" fill="none" stroke="#d070e8" stroke-width="2.2" opacity="0.7"/><rect x="417.00" y="145.70" width="129.00" height="115.30" fill="none" stroke="#555" stroke-width="1.0"/><line x1="438.50" y1="261.00" x2="438.50" y2="259.50" stroke="#222" stroke-width="0.6"/><line x1="438.50" y1="145.70" x2="438.50" y2="147.20" stroke="#222" stroke-width="0.6"/><line x1="460.00" y1="261.00" x2="460.00" y2="259.50" stroke="#222" stroke-width="0.6"/><line x1="460.00" y1="145.70" x2="460.00" y2="147.20" stroke="#222" stroke-width="0.6"/><line x1="481.50" y1="261.00" x2="481.50" y2="259.50" stroke="#222" stroke-width="0.6"/><line x1="481.50" y1="145.70" x2="481.50" y2="147.20" stroke="#222" stroke-width="0.6"/><line x1="503.00" y1="261.00" x2="503.00" y2="259.50" stroke="#222" stroke-width="0.6"/><line x1="503.00" y1="145.70" x2="503.00" y2="147.20" stroke="#222" stroke-width="0.6"/><line x1="524.50" y1="261.00" x2="524.50" y2="259.50" stroke="#222" stroke-width="0.6"/><line x1="524.50" y1="145.70" x2="524.50" y2="147.20" stroke="#222" stroke-width="0.6"/><line x1="417.00" y1="244.53" x2="418.50" y2="244.53" stroke="#222" stroke-width="0.6"/><line x1="546.00" y1="244.53" x2="544.50" y2="244.53" stroke="#222" stroke-width="0.6"/><line x1="417.00" y1="228.06" x2="418.50" y2="228.06" stroke="#222" stroke-width="0.6"/><line x1="546.00" y1="228.06" x2="544.50" y2="228.06" stroke="#222" stroke-width="0.6"/><line x1="417.00" y1="211.59" x2="418.50" y2="211.59" stroke="#222" stroke-width="0.6"/><line x1="546.00" y1="211.59" x2="544.50" y2="211.59" stroke="#222" stroke-width="0.6"/><line x1="417.00" y1="195.11" x2="418.50" y2="195.11" stroke="#222" stroke-width="0.6"/><line x1="546.00" y1="195.11" x2="544.50" y2="195.11" stroke="#222" stroke-width="0.6"/><line x1="417.00" y1="178.64" x2="418.50" y2="178.64" stroke="#222" stroke-width="0.6"/><line x1="546.00" y1="178.64" x2="544.50" y2="178.64" stroke="#222" stroke-width="0.6"/><line x1="417.00" y1="162.17" x2="418.50" y2="162.17" stroke="#222" stroke-width="0.6"/><line x1="546.00" y1="162.17" x2="544.50" y2="162.17" stroke="#222" stroke-width="0.6"/><text x="415.80" y="261.00" font-size="5.2" font-weight="bold" font-family="Liberation Sans, sans-serif" fill="#333" text-anchor="end" dominant-baseline="central">−0.05</text><text x="415.80" y="244.53" font-size="5.2" font-weight="bold" font-family="Liberation Sans, sans-serif" fill="#333" text-anchor="end" dominant-baseline="central">−0.04</text><text x="415.80" y="228.06" font-size="5.2" font-weight="bold" font-family="Liberation Sans, sans-serif" fill="#333" text-anchor="end" dominant-baseline="central">−0.03</text><text x="415.80" y="211.59" font-size="5.2" font-weight="bold" font-family="Liberation Sans, sans-serif" fill="#333" text-anchor="end" dominant-baseline="central">−0.02</text><text x="415.80" y="195.11" font-size="5.2" font-weight="bold" font-family="Liberation Sans, sans-serif" fill="#333" text-anchor="end" dominant-baseline="central">−0.01</text><text x="415.80" y="178.64" font-size="5.2" font-weight="bold" font-family="Liberation Sans, sans-serif" fill="#333" text-anchor="end" dominant-baseline="central">0</text><text x="415.80" y="162.17" font-size="5.2" font-weight="bold" font-family="Liberation Sans, sans-serif" fill="#333" text-anchor="end" dominant-baseline="central">0.01</text><text x="415.80" y="145.70" font-size="5.2" font-weight="bold" font-family="Liberation Sans, sans-serif" fill="#333" text-anchor="end" dominant-baseline="central">0.02</text><text x="417.00" y="265.80" font-size="5.2" font-weight="bold" font-family="Liberation Sans, sans-serif" fill="#333" text-anchor="middle" dominant-baseline="central">300</text><text x="438.50" y="265.80" font-size="5.2" font-weight="bold" font-family="Liberation Sans, sans-serif" fill="#333" text-anchor="middle" dominant-baseline="central">250</text><text x="460.00" y="265.80" font-size="5.2" font-weight="bold" font-family="Liberation Sans, sans-serif" fill="#333" text-anchor="middle" dominant-baseline="central">200</text><text x="481.50" y="265.80" font-size="5.2" font-weight="bold" font-family="Liberation Sans, sans-serif" fill="#333" text-anchor="middle" dominant-baseline="central">150</text><text x="503.00" y="265.80" font-size="5.2" font-weight="bold" font-family="Liberation Sans, sans-serif" fill="#333" text-anchor="middle" dominant-baseline="central">100</text><text x="524.50" y="265.80" font-size="5.2" font-weight="bold" font-family="Liberation Sans, sans-serif" fill="#333" text-anchor="middle" dominant-baseline="central">50</text><text x="546.00" y="265.80" font-size="5.2" font-weight="bold" font-family="Liberation Sans, sans-serif" fill="#333" text-anchor="middle" dominant-baseline="central">0</text><text x="481.50" y="271.30" font-size="5.2" font-weight="bold" font-family="Liberation Sans, sans-serif" fill="#222" text-anchor="middle" dominant-baseline="central">distance from the coast (km)</text><line x1="249" y1="121.7" x2="278" y2="121.7" stroke="#f06898" stroke-width="0.8" opacity="0.8"/><rect x="264" y="123.6" width="10.5" height="4" fill="#bff2f8"/><text transform="translate(243.0,64.7) rotate(-90)" font-size="5.2" font-weight="bold" font-family="Liberation Sans, sans-serif" fill="#222" text-anchor="middle" dominant-baseline="central">SST (°C)</text><text transform="translate(243.0,205.0) rotate(-90)" font-size="5.2" font-weight="bold" font-family="Liberation Sans, sans-serif" fill="#222" text-anchor="middle" dominant-baseline="central">SST (°C)</text><text transform="translate(395.0,61.5) rotate(-90)" font-size="5.2" font-weight="bold" font-family="Liberation Sans, sans-serif" fill="#222" text-anchor="middle" dominant-baseline="central">grad (°C km<tspan font-size="3.6" dy="-1.6">-1</tspan><tspan dy="1.6">)</tspan></text><text transform="translate(397.2,204.0) rotate(-90)" font-size="5.7" font-weight="bold" font-family="Liberation Sans, sans-serif" fill="#222" text-anchor="middle" dominant-baseline="central">grad (°C km<tspan font-size="4" dy="-1.8">-1</tspan><tspan dy="1.8">)</tspan></text></svg></body></html>
